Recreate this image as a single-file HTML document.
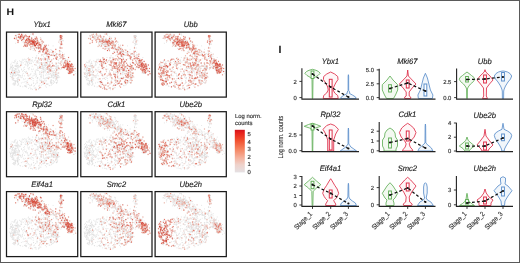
<!DOCTYPE html>
<html><head><meta charset="utf-8"><style>
html,body{margin:0;padding:0;background:#fff;}
body{width:520px;height:263px;overflow:hidden;}
svg{display:block;font-family:"Liberation Sans", sans-serif;text-rendering:geometricPrecision;filter:blur(0.3px);}
</style></head><body>
<svg width="520" height="263" viewBox="0 0 520 263">
<rect x="0" y="0" width="520" height="263" fill="#fff"/>
<defs><linearGradient id="cb" x1="0" y1="0" x2="0" y2="1">
<stop offset="0" stop-color="#d3121b"/><stop offset="0.08" stop-color="#e8241d"/><stop offset="0.25" stop-color="#f1502f"/><stop offset="0.45" stop-color="#f5835f"/><stop offset="0.65" stop-color="#f5b09b"/><stop offset="0.82" stop-color="#efd2cb"/><stop offset="1" stop-color="#e4e0e3"/>
</linearGradient>
<filter id="bl" x="-5%" y="-5%" width="110%" height="110%"><feGaussianBlur stdDeviation="0.3"/></filter></defs>
<text transform="translate(6.4 15.1) scale(1.12 1)" font-size="9.4" font-weight="bold" fill="#111">H</text>
<text x="278.5" y="53.4" font-size="10.6" font-weight="bold" fill="#111">I</text>
<defs><path id="base" d="M17.8 10.7h0M9.7 6.9h0M26.4 10.6h0M24.7 11.7h0M10.2 3.4h0M11.4 5.2h0M22.0 10.4h0M16.5 5.6h0M27.0 16.3h0M22.2 8.0h0M38.5 21.1h0M17.2 9.3h0M12.5 7.1h0M34.4 16.8h0M16.1 3.1h0M21.9 6.8h0M25.9 12.5h0M15.1 6.8h0M32.0 11.1h0M27.0 13.2h0M24.3 8.4h0M28.8 18.5h0M18.1 4.1h0M37.7 15.0h0M33.3 12.3h0M9.2 11.2h0M22.2 9.7h0M25.5 8.8h0M10.7 2.5h0M29.7 7.3h0M37.8 14.9h0M25.6 16.5h0M30.5 6.3h0M38.8 18.2h0M24.3 9.8h0M31.9 12.8h0M26.7 18.4h0M18.0 7.4h0M21.3 8.8h0M23.9 9.6h0M13.7 6.6h0M33.3 15.3h0M12.8 5.4h0M35.7 18.4h0M12.6 2.2h0M36.9 17.2h0M34.6 16.7h0M23.1 7.7h0M17.3 14.3h0M15.6 1.9h0M14.2 6.3h0M23.2 12.8h0M27.8 12.0h0M22.1 9.9h0M24.3 2.1h0M32.6 10.7h0M27.2 7.5h0M11.4 2.3h0M37.4 17.4h0M37.3 10.0h0M22.0 8.1h0M28.8 13.5h0M10.0 5.7h0M13.5 6.5h0M19.6 8.5h0M13.5 5.7h0M12.1 4.7h0M36.8 16.6h0M27.8 13.8h0M18.9 10.4h0M18.2 13.0h0M39.7 20.3h0M24.5 9.0h0M11.9 5.1h0M20.0 8.0h0M11.5 10.3h0M8.2 6.0h0M13.8 4.8h0M24.3 15.1h0M40.2 18.1h0M37.0 15.4h0M21.7 6.6h0M13.8 6.3h0M35.7 11.6h0M18.9 9.2h0M38.9 21.0h0M35.5 17.4h0M35.2 9.5h0M17.3 4.4h0M9.7 3.8h0M9.7 3.7h0M30.0 15.7h0M42.0 13.2h0M40.0 19.2h0M40.1 16.5h0M15.2 8.2h0M14.5 7.4h0M36.4 19.4h0M37.8 12.3h0M34.4 15.6h0M12.7 2.3h0M36.6 10.0h0M33.9 12.7h0M34.2 15.2h0M18.1 10.8h0M25.6 1.9h0M19.2 14.0h0M14.8 4.7h0M11.2 8.2h0M32.5 19.6h0M11.7 8.7h0M33.9 5.7h0M20.8 7.1h0M9.2 3.4h0M40.9 16.3h0M40.0 15.1h0M20.6 13.8h0M17.3 3.1h0M17.1 6.6h0M26.5 14.2h0M17.7 6.0h0M37.9 17.2h0M22.2 4.9h0M37.6 17.4h0M20.6 12.8h0M26.9 9.4h0M23.9 14.4h0M14.4 6.5h0M8.6 3.9h0M25.0 8.6h0M33.4 11.7h0M26.0 10.1h0M26.5 11.9h0M27.6 10.2h0M17.1 6.3h0M22.3 16.2h0M26.7 12.1h0M26.7 3.1h0M30.5 8.8h0M31.2 13.4h0M25.2 6.6h0M39.5 16.7h0M28.7 18.5h0M19.5 2.7h0M23.8 17.2h0M13.9 4.0h0M13.0 4.5h0M16.2 7.4h0M11.9 2.9h0M39.6 13.2h0M14.0 5.0h0M15.0 2.3h0M36.5 17.8h0M39.7 17.0h0M26.5 1.9h0M35.4 16.2h0M15.3 3.2h0M18.8 9.9h0M15.9 4.7h0M7.9 6.4h0M26.9 11.0h0M19.3 8.5h0M29.5 11.5h0M40.7 17.7h0M33.6 16.1h0M17.4 7.1h0M9.8 4.4h0M13.8 3.6h0M19.8 14.5h0M18.5 4.6h0M40.8 22.1h0M53.4 22.5h0M39.4 22.2h0M46.5 23.3h0M39.2 21.7h0M55.0 23.7h0M40.9 19.3h0M55.7 24.9h0M49.0 20.1h0M54.9 28.7h0M43.3 22.6h0M42.7 22.4h0M41.5 19.4h0M43.0 20.5h0M46.3 19.2h0M42.5 24.8h0M48.1 23.5h0M39.0 20.0h0M41.8 24.4h0M49.4 23.3h0M46.6 13.8h0M41.1 19.8h0M56.1 22.6h0M54.1 26.6h0M49.3 17.3h0M57.5 26.5h0M44.7 23.1h0M53.4 19.9h0M47.3 21.1h0M41.7 19.8h0M41.1 18.5h0M43.8 17.5h0M39.7 21.3h0M54.5 19.3h0M44.8 20.6h0M31.1 11.0h0M28.2 9.1h0M24.4 16.8h0M24.6 7.4h0M24.5 11.8h0M25.8 10.0h0M27.9 8.7h0M31.0 10.7h0M26.7 10.2h0M26.6 10.4h0M28.9 10.9h0M26.3 12.7h0M27.0 11.0h0M34.8 9.7h0M26.3 7.8h0M19.6 9.1h0M25.2 6.0h0M37.1 18.3h0M32.8 12.9h0M24.1 12.3h0M19.8 3.9h0M21.0 8.3h0M25.8 6.7h0M24.6 12.1h0M18.7 8.4h0M19.7 10.5h0M22.6 7.8h0M22.8 10.1h0M27.5 10.0h0M27.4 12.7h0M22.9 5.9h0M22.6 7.1h0M19.5 12.1h0M26.8 10.5h0M23.1 4.6h0M23.2 13.1h0M29.6 11.9h0M28.6 11.0h0M33.4 15.0h0M32.3 16.5h0M26.9 8.2h0M31.0 10.6h0M20.9 4.6h0M21.6 9.4h0M27.9 10.9h0M34.7 13.1h0M31.7 13.9h0M27.0 10.1h0M34.1 12.6h0M20.6 6.7h0M33.4 10.6h0M25.7 14.5h0M32.0 15.6h0M38.4 16.7h0M28.6 6.3h0M27.4 13.9h0M25.7 9.8h0M28.9 13.4h0M26.2 8.9h0M28.5 4.4h0M23.3 12.4h0M35.6 8.9h0M26.4 9.7h0M22.2 11.0h0M23.3 9.1h0M28.1 8.1h0M27.1 10.2h0M29.6 10.5h0M29.9 12.1h0M26.4 10.4h0M15.7 9.9h0M34.4 12.8h0M17.3 5.3h0M34.6 6.2h0M38.1 13.7h0M25.2 7.7h0M27.6 12.2h0M26.7 11.7h0M22.5 10.4h0M25.4 9.5h0M31.6 13.9h0M28.1 16.9h0M23.3 10.4h0M18.0 12.1h0M23.0 4.3h0M22.4 12.8h0M30.9 8.0h0M29.6 10.5h0M20.8 13.8h0M28.7 13.7h0M30.9 11.2h0M30.0 11.6h0M14.3 4.2h0M33.8 12.8h0M32.8 12.1h0M27.8 12.1h0M28.0 13.9h0M23.1 9.9h0M34.9 17.6h0M25.9 11.3h0M27.9 13.3h0M28.1 12.9h0M28.5 11.2h0M30.9 16.1h0M22.8 6.1h0M30.3 9.5h0M26.2 9.7h0M28.6 10.1h0M37.3 18.0h0M32.2 9.3h0M19.8 7.6h0M30.1 12.2h0M34.3 7.5h0M28.8 14.9h0M18.7 7.3h0M27.5 9.3h0M18.9 3.0h0M26.3 13.2h0M24.4 14.2h0M20.7 12.3h0M17.0 5.8h0M27.9 13.0h0M32.5 10.5h0M17.0 5.1h0M20.0 7.5h0M21.9 7.4h0M26.0 10.6h0M21.7 11.7h0M23.7 8.5h0M28.9 11.5h0M33.3 13.3h0M23.1 11.9h0M30.1 9.7h0M24.1 9.9h0M31.6 15.3h0M30.0 5.1h0M31.1 9.0h0M20.1 5.2h0M27.1 10.8h0M38.5 15.6h0M21.3 11.2h0M28.0 9.7h0M22.5 8.2h0M32.5 15.2h0M24.0 11.7h0M29.2 7.9h0M29.2 13.3h0M34.4 14.0h0M20.2 9.5h0M39.1 14.5h0M34.3 14.4h0M29.7 12.1h0M21.3 11.1h0M24.7 10.3h0M31.3 9.1h0M29.3 13.3h0M26.5 8.9h0M27.9 12.6h0M25.8 11.0h0M29.3 7.0h0M31.1 16.1h0M18.6 13.2h0M26.8 9.7h0M27.2 15.1h0M21.8 12.2h0M28.9 9.6h0M30.0 11.3h0M28.0 13.4h0M28.6 7.2h0M33.4 19.0h0M64.5 40.9h0M62.0 38.2h0M60.2 28.3h0M64.4 34.1h0M61.3 35.4h0M64.6 32.2h0M62.7 40.8h0M61.2 35.6h0M59.3 29.1h0M58.1 36.2h0M63.7 37.4h0M63.3 40.7h0M62.1 32.2h0M67.3 42.7h0M61.8 32.4h0M60.9 31.4h0M62.2 34.8h0M62.1 25.4h0M58.0 28.7h0M67.5 32.9h0M60.9 36.5h0M61.8 33.4h0M68.6 36.4h0M60.9 35.3h0M65.1 40.0h0M59.0 28.0h0M61.0 29.3h0M65.8 36.3h0M63.1 39.5h0M62.7 35.5h0M60.6 31.9h0M64.1 34.1h0M57.6 34.9h0M60.2 34.1h0M61.4 34.5h0M65.8 34.0h0M63.7 33.9h0M65.1 34.3h0M64.9 36.2h0M58.2 29.9h0M57.5 31.2h0M65.0 38.8h0M66.5 37.9h0M63.6 38.7h0M63.3 36.9h0M61.1 37.2h0M61.8 31.0h0M61.2 38.4h0M61.7 34.4h0M68.6 39.4h0M56.5 26.2h0M61.6 37.4h0M59.0 28.5h0M62.3 33.8h0M61.0 36.8h0M69.2 41.6h0M63.3 29.3h0M66.0 38.9h0M61.8 35.6h0M56.4 26.9h0M64.6 36.9h0M62.3 32.4h0M62.4 36.0h0M65.8 36.1h0M60.8 31.4h0M63.9 34.4h0M63.6 39.3h0M62.4 37.6h0M65.6 40.1h0M60.4 34.6h0M66.0 35.5h0M60.5 33.2h0M63.5 35.3h0M61.1 30.9h0M61.8 38.0h0M63.6 32.9h0M65.2 31.7h0M61.8 38.6h0M61.1 34.7h0M64.6 39.8h0M60.6 35.4h0M60.4 32.6h0M59.1 31.8h0M60.9 31.8h0M65.3 33.9h0M60.8 33.1h0M63.3 33.1h0M62.4 31.6h0M62.7 34.1h0M63.2 38.9h0M65.6 32.3h0M61.1 35.3h0M58.6 35.2h0M62.6 41.2h0M57.5 35.4h0M66.8 35.8h0M67.2 38.3h0M58.3 30.6h0M64.2 39.7h0M61.6 38.7h0M59.2 29.2h0M65.2 35.9h0M64.1 36.6h0M62.7 35.6h0M64.3 40.2h0M65.2 32.6h0M57.4 33.5h0M60.9 36.7h0M66.4 36.6h0M62.3 32.6h0M65.6 37.1h0M62.6 32.1h0M61.2 31.0h0M64.1 34.0h0M60.7 31.7h0M64.4 40.5h0M59.6 30.9h0M63.0 38.3h0M63.6 35.2h0M64.8 34.2h0M60.1 36.9h0M59.9 36.7h0M63.1 37.4h0M58.1 31.1h0M66.5 34.4h0M62.2 41.3h0M61.2 40.8h0M61.6 34.4h0M58.9 33.2h0M57.6 35.5h0M59.5 33.0h0M63.9 40.0h0M64.0 33.1h0M62.0 40.0h0M65.6 40.4h0M63.6 41.3h0M62.5 38.1h0M61.9 33.2h0M64.3 38.5h0M62.1 35.4h0M60.2 37.3h0M60.3 32.7h0M61.4 33.2h0M64.4 31.6h0M64.5 32.5h0M67.2 38.9h0M60.8 33.1h0M58.9 34.3h0M65.0 33.1h0M64.5 38.0h0M57.0 8.7h0M53.3 6.7h0M55.5 4.1h0M54.3 13.2h0M54.0 4.7h0M52.6 8.8h0M52.3 10.1h0M54.3 3.6h0M54.3 4.0h0M53.6 7.7h0M53.6 14.9h0M54.7 10.0h0M54.8 3.5h0M55.1 3.8h0M54.3 5.7h0M54.5 8.9h0M55.5 4.3h0M53.6 3.9h0M53.6 15.8h0M54.3 3.7h0M54.8 9.7h0M55.4 6.2h0M53.1 4.8h0M55.6 8.4h0M54.4 5.6h0M53.7 15.9h0M53.5 11.5h0M54.3 3.6h0M56.2 8.0h0M53.7 3.6h0M54.7 12.4h0M55.4 15.9h0M54.4 3.9h0M54.7 7.6h0M55.5 9.8h0M54.5 5.2h0M53.8 5.1h0M56.1 12.4h0M54.9 11.1h0M56.0 11.7h0M54.4 7.0h0M54.2 4.5h0M53.3 3.8h0M54.3 5.5h0M54.5 11.8h0M51.8 35.9h0M52.3 22.8h0M47.1 26.6h0M54.9 28.6h0M37.5 31.3h0M37.3 22.1h0M53.5 24.2h0M57.9 24.2h0M36.6 37.3h0M49.6 32.5h0M44.3 35.8h0M51.9 36.2h0M43.2 33.2h0M47.6 23.7h0M35.7 30.9h0M40.1 20.0h0M51.7 31.1h0M51.8 33.5h0M30.9 30.1h0M40.8 35.3h0M32.2 21.4h0M56.8 35.2h0M49.7 35.5h0M49.7 23.3h0M53.8 21.4h0M39.3 26.4h0M38.1 33.0h0M40.9 24.0h0M60.7 28.2h0M57.0 30.8h0M29.7 26.1h0M43.2 34.3h0M40.2 32.7h0M46.5 21.7h0M55.9 20.6h0M28.8 27.9h0M45.0 34.8h0M34.8 28.0h0M40.2 35.6h0M38.1 21.6h0M51.9 28.1h0M32.3 31.2h0M51.8 34.6h0M49.5 24.8h0M42.0 25.7h0M35.5 22.7h0M58.6 28.1h0M41.3 36.8h0M36.4 27.2h0M46.3 33.9h0M53.7 31.4h0M40.3 24.2h0M33.8 35.9h0M50.7 33.6h0M34.3 26.7h0M54.4 29.9h0M32.9 27.2h0M58.1 22.1h0M35.0 23.6h0M52.0 35.9h0M33.8 20.3h0M36.9 24.2h0M46.0 20.4h0M39.6 21.0h0M32.1 25.5h0M53.0 26.6h0M35.2 31.2h0M32.2 21.4h0M41.6 17.5h0M41.9 34.7h0M51.7 28.1h0M49.7 27.3h0M33.4 30.4h0M42.1 33.6h0M58.8 26.5h0M47.7 33.7h0M42.7 21.9h0M52.7 36.7h0M54.4 32.6h0M57.0 32.2h0M50.0 27.0h0M39.1 31.0h0M31.9 26.3h0M54.7 32.9h0M49.6 22.4h0M42.7 27.1h0M49.3 26.0h0M51.1 37.8h0M34.8 31.6h0M54.5 25.6h0M45.0 38.9h0M29.9 29.1h0M34.0 34.5h0M59.9 28.5h0M32.0 29.8h0M46.7 33.0h0M45.7 31.2h0M56.2 28.6h0M42.3 38.3h0M35.7 32.3h0M41.7 34.0h0M40.5 18.0h0M37.8 25.8h0M29.1 26.2h0M42.6 32.6h0M40.4 22.8h0M36.1 33.6h0M59.9 28.7h0M36.0 34.9h0M41.7 21.6h0M33.0 34.4h0M55.6 31.1h0M44.3 29.5h0M40.4 31.2h0M55.9 35.3h0M44.2 23.4h0M46.9 19.6h0M56.4 24.8h0M56.9 22.8h0M41.2 22.5h0M42.8 21.0h0M38.0 22.3h0M38.7 27.6h0M42.9 31.2h0M50.6 25.0h0M58.8 34.5h0M33.3 35.6h0M50.5 22.4h0M36.4 34.4h0M40.2 20.2h0M58.7 34.7h0M48.9 34.5h0M50.9 37.0h0M54.9 35.8h0M35.2 32.5h0M46.3 33.6h0M43.2 36.8h0M47.1 22.7h0M36.5 19.9h0M45.1 18.1h0M44.2 20.0h0M45.0 28.0h0M46.6 36.3h0M44.2 29.5h0M50.8 35.8h0M41.1 26.2h0M49.8 31.2h0M29.6 30.6h0M51.4 37.9h0M45.6 27.7h0M52.5 30.9h0M39.9 36.3h0M40.8 27.5h0M46.1 34.2h0M35.7 26.6h0M42.7 29.3h0M56.1 23.4h0M56.2 25.9h0M45.4 22.9h0M45.5 38.9h0M50.4 34.7h0M39.7 23.9h0M38.6 30.1h0M49.8 34.5h0M58.1 29.1h0M30.3 23.6h0M59.3 30.6h0M50.5 34.6h0M58.9 30.6h0M49.2 31.0h0M51.8 30.3h0M51.3 21.6h0M50.8 27.1h0M54.0 19.0h0M54.4 37.5h0M50.5 25.1h0M56.0 34.6h0M47.4 22.6h0M38.7 26.3h0M39.3 26.5h0M50.0 37.9h0M30.5 29.6h0M55.6 29.8h0M59.2 26.9h0M29.1 25.5h0M48.3 38.0h0M61.3 27.5h0M42.4 19.1h0M50.1 21.6h0M52.6 22.2h0M53.0 21.0h0M52.4 36.2h0M52.9 18.7h0M49.6 32.8h0M44.0 37.9h0M39.0 33.3h0M34.2 36.3h0M44.8 18.1h0M40.9 29.8h0M43.3 32.1h0M33.5 34.8h0M40.7 31.4h0M49.6 26.2h0M41.5 34.6h0M47.5 23.4h0M52.0 35.5h0M39.7 30.5h0M48.6 23.7h0M42.9 36.9h0M41.2 32.3h0M44.9 51.1h0M49.8 41.8h0M40.7 46.4h0M50.0 51.0h0M49.9 50.7h0M44.2 41.7h0M50.8 49.7h0M46.9 51.4h0M38.9 38.8h0M43.8 49.6h0M35.5 48.9h0M45.0 47.8h0M41.7 40.7h0M36.7 48.9h0M49.4 44.5h0M48.9 41.1h0M44.4 51.1h0M51.6 45.4h0M42.0 46.5h0M35.2 40.4h0M35.0 48.1h0M39.3 46.1h0M40.2 45.4h0M33.3 47.1h0M49.3 39.9h0M44.8 42.8h0M43.0 37.9h0M51.1 44.9h0M44.1 41.5h0M49.1 44.0h0M35.5 40.3h0M43.9 50.7h0M41.5 51.9h0M44.8 43.5h0M36.8 46.1h0M45.8 52.0h0M46.5 43.5h0M41.3 40.0h0M36.8 42.9h0M49.3 48.3h0M46.7 42.1h0M44.7 49.0h0M33.2 42.4h0M36.8 39.4h0M42.1 40.1h0M36.4 39.7h0M47.6 40.5h0M34.0 44.3h0M50.6 47.0h0M41.4 42.7h0M50.1 44.8h0M45.5 39.7h0M47.5 45.9h0M37.0 43.8h0M34.4 41.6h0M50.5 42.6h0M34.7 45.0h0M38.2 51.2h0M46.5 40.7h0M42.0 41.9h0M36.8 40.6h0M33.1 41.9h0M47.8 42.0h0M49.7 42.7h0M50.3 45.5h0M35.1 44.1h0M52.2 40.8h0M44.2 39.6h0M35.0 49.2h0M47.5 40.5h0M45.1 45.0h0M37.2 40.7h0M45.2 48.2h0M49.9 46.4h0M48.0 43.7h0M47.7 38.4h0M49.8 42.6h0M50.6 50.6h0M42.4 37.8h0M52.2 44.7h0M51.3 41.6h0M35.1 50.1h0M39.4 40.0h0M39.5 46.5h0M30.9 45.4h0M41.2 45.3h0M33.6 48.3h0M50.0 50.6h0M38.3 48.3h0M39.7 48.9h0M53.2 45.0h0M42.8 45.6h0M43.4 37.9h0M36.6 49.9h0M47.2 40.5h0M31.2 46.6h0M44.3 45.4h0M47.3 39.1h0M51.2 48.4h0M42.4 45.1h0M5.6 30.1h0M6.9 30.5h0M8.9 49.6h0M4.3 42.0h0M10.5 31.2h0M6.8 38.0h0M11.4 40.7h0M6.8 51.7h0M10.8 35.8h0M5.2 35.7h0M7.3 52.8h0M11.2 49.3h0M3.3 40.5h0M5.3 38.0h0M9.3 36.5h0M8.2 28.7h0M7.2 40.2h0M12.5 43.6h0M11.1 50.2h0M9.4 33.9h0M9.8 34.1h0M8.4 51.3h0M9.2 33.5h0M8.1 38.3h0M12.6 34.4h0M5.9 44.0h0M4.0 42.6h0M12.7 40.4h0M5.5 39.2h0M8.3 30.8h0M5.8 37.6h0M5.7 33.3h0M3.6 41.3h0M11.4 43.0h0M8.6 44.0h0M4.8 45.6h0M7.5 41.3h0M9.1 39.2h0M6.0 33.2h0M5.0 40.4h0M6.7 42.3h0M11.7 33.1h0M8.5 39.8h0M5.8 47.3h0M11.8 38.5h0M3.4 37.1h0M7.3 46.3h0M3.9 32.8h0M4.3 35.7h0M6.4 44.7h0M9.1 49.3h0M11.3 40.5h0M10.4 46.5h0M10.6 39.4h0M10.9 45.6h0M10.7 42.3h0M7.9 52.3h0M8.7 37.9h0M10.9 49.9h0M9.0 36.9h0M7.4 38.9h0M10.2 34.6h0M6.8 41.5h0M6.7 35.3h0M10.9 49.3h0M7.9 38.6h0M4.6 34.9h0M4.2 42.1h0M8.8 29.2h0M12.3 35.4h0M11.5 49.0h0M7.2 50.9h0M8.6 40.0h0M8.3 53.2h0M8.1 40.5h0M9.8 37.1h0M6.4 42.6h0M6.4 51.9h0M9.8 40.7h0M3.8 36.7h0M6.9 41.7h0M8.7 50.1h0M12.7 39.7h0M7.3 43.4h0M8.2 48.4h0M4.5 35.2h0M8.1 29.8h0M12.0 45.1h0M11.9 38.0h0M4.4 34.5h0M8.0 40.2h0M4.7 31.7h0M9.3 42.8h0M9.3 27.9h0M7.0 47.7h0M5.9 45.1h0M11.5 42.3h0M9.7 32.0h0M7.9 41.5h0M5.5 43.9h0M29.6 57.6h0M31.7 38.4h0M40.9 28.4h0M29.1 51.9h0M33.6 51.4h0M41.5 35.5h0M38.7 36.5h0M11.5 33.7h0M32.1 36.4h0M25.5 37.6h0M32.1 56.4h0M25.0 45.3h0M18.8 54.4h0M43.7 34.9h0M33.1 56.4h0M27.8 56.1h0M15.2 37.7h0M38.9 32.2h0M18.5 53.6h0M27.2 50.9h0M15.2 30.6h0M20.9 31.1h0M31.1 28.7h0M29.7 37.6h0M23.2 27.1h0M9.2 52.0h0M20.6 33.0h0M12.6 34.2h0M36.2 36.1h0M10.8 48.1h0M7.7 33.8h0M25.2 52.3h0M43.2 30.2h0M20.7 48.6h0M21.9 56.3h0M28.2 32.4h0M25.6 29.2h0M38.3 33.5h0M47.9 44.2h0M21.4 33.0h0M33.4 31.9h0M28.6 42.7h0M16.5 50.2h0M22.2 46.5h0M31.4 35.1h0M22.5 27.8h0M11.9 52.8h0M19.1 46.7h0M8.5 43.4h0M21.1 41.3h0M17.9 27.1h0M18.6 32.4h0M9.4 48.4h0M17.1 38.2h0M48.4 50.3h0M9.7 34.0h0M36.1 36.5h0M23.6 46.5h0M37.9 33.1h0M45.3 36.5h0M34.4 30.9h0M39.6 48.3h0M11.1 31.4h0M18.2 37.4h0M5.0 35.1h0M34.9 30.8h0M44.9 43.6h0M38.8 33.3h0M24.7 47.4h0M44.6 50.4h0M45.6 44.8h0M8.6 50.9h0M40.4 27.8h0M37.7 37.8h0M40.3 52.1h0M17.1 27.9h0M50.2 38.8h0M49.4 47.6h0M39.9 52.1h0M34.4 39.8h0M5.8 47.8h0M24.4 41.7h0M38.1 51.3h0M16.1 42.8h0M51.4 45.8h0M30.2 33.1h0M6.0 36.7h0M23.6 31.5h0M18.5 29.4h0M38.3 46.9h0M14.9 32.9h0M28.8 39.5h0M49.7 36.5h0M18.0 53.9h0M10.1 43.4h0M19.7 51.7h0M30.4 49.9h0M11.5 46.8h0M32.9 40.0h0M41.2 52.2h0M8.8 34.4h0M21.0 31.7h0M6.1 34.1h0M12.9 47.9h0M25.4 28.6h0M19.2 40.3h0M21.2 30.4h0M7.3 48.4h0M51.9 43.4h0M8.5 41.0h0M24.7 31.2h0M30.1 25.2h0M48.9 46.1h0M34.4 55.6h0M35.6 33.2h0M15.3 29.5h0M44.9 34.6h0M12.3 45.8h0M11.5 50.6h0M44.4 49.3h0M19.4 31.0h0M44.2 35.4h0M21.4 43.0h0M21.5 52.2h0M31.3 45.5h0M43.9 48.1h0M27.7 41.3h0M10.9 34.8h0M32.0 27.6h0M37.4 30.3h0M25.2 56.7h0M25.0 31.2h0M45.0 53.0h0M42.3 38.9h0M17.2 46.6h0M28.7 38.7h0M19.9 39.3h0M36.3 52.0h0M17.8 39.5h0M31.1 36.3h0M19.2 40.0h0M51.0 45.2h0M36.8 44.9h0M17.9 43.7h0M50.5 40.7h0M35.3 34.7h0M20.2 53.9h0M36.9 39.6h0M7.3 46.6h0M21.6 44.0h0M23.8 42.3h0M31.2 37.9h0M47.4 42.9h0M15.7 28.1h0M29.5 33.2h0M27.5 43.1h0M14.4 43.7h0M8.7 41.8h0M32.4 27.6h0M23.4 27.3h0M25.0 53.2h0M30.5 48.4h0M40.8 28.7h0M22.6 30.6h0M50.9 43.4h0M41.7 29.4h0M14.9 37.1h0M3.8 44.4h0M13.7 34.8h0M38.3 38.9h0M47.4 45.3h0M46.5 43.4h0M11.4 49.4h0M20.1 50.0h0M37.0 52.0h0M9.2 37.2h0M33.2 28.2h0M30.4 51.2h0M36.7 33.3h0M12.7 39.6h0M44.8 44.0h0M8.6 51.2h0M12.3 43.1h0M17.5 47.5h0M22.1 29.7h0M46.7 42.6h0M37.4 51.4h0M20.1 29.9h0M28.1 53.5h0M12.2 51.7h0M36.9 37.8h0M26.8 30.1h0M45.2 37.8h0M46.6 45.0h0M6.9 35.7h0M13.9 54.2h0M32.4 26.4h0M11.5 36.8h0M26.4 43.8h0M22.4 36.5h0M26.0 57.3h0M36.5 33.9h0M16.7 41.3h0M16.1 43.6h0M29.4 56.3h0M31.0 50.2h0M46.5 50.3h0M34.6 45.7h0M21.2 34.2h0M42.7 53.5h0M49.8 47.3h0M18.2 49.9h0M39.9 41.6h0M34.7 36.4h0M30.5 38.2h0M6.1 36.0h0M27.1 37.0h0M15.2 32.6h0M20.5 29.4h0M25.7 39.5h0M31.4 34.8h0M18.1 35.0h0M39.3 43.0h0M49.8 36.1h0M49.0 44.1h0M32.0 57.3h0M20.9 50.3h0M24.4 53.4h0M6.5 40.8h0M47.9 34.0h0M11.3 33.7h0M38.2 32.1h0M23.0 31.5h0M33.1 53.2h0M35.4 31.4h0M33.0 27.5h0M43.4 53.6h0M20.1 29.4h0M12.5 42.5h0M46.7 45.9h0M19.4 49.5h0M35.4 38.2h0M36.9 36.0h0M5.9 38.5h0M5.3 45.5h0M19.7 41.1h0M32.9 33.4h0M26.2 25.4h0M49.2 43.4h0M33.7 48.7h0M19.5 28.0h0M10.9 29.6h0M41.3 27.9h0M43.6 38.8h0M29.9 44.2h0M30.7 46.5h0M33.0 35.8h0M40.0 33.4h0M38.5 49.9h0M41.7 35.1h0M25.7 34.1h0M29.2 55.8h0M26.8 46.4h0M41.6 36.8h0M40.8 27.9h0M6.1 41.4h0M30.7 30.9h0M49.9 36.9h0M10.5 30.8h0M39.8 55.1h0M41.8 32.9h0M52.0 41.3h0M34.8 36.2h0M43.0 40.0h0M19.2 54.5h0M8.4 49.0h0M6.3 46.1h0M23.1 53.2h0M6.1 43.4h0M23.5 55.1h0M50.2 45.5h0M14.2 33.2h0M16.1 39.2h0M14.6 31.6h0M40.9 46.0h0M13.9 43.6h0M10.9 53.2h0M46.4 33.7h0M40.5 51.9h0M17.2 35.8h0M27.3 54.1h0M11.1 47.3h0M32.9 39.8h0M31.9 53.9h0M13.5 53.9h0M21.0 50.5h0M46.1 30.9h0M10.6 49.1h0M37.1 27.9h0M20.0 55.0h0M38.8 53.8h0M14.8 50.9h0M37.4 26.2h0M28.2 32.5h0M24.5 28.4h0M18.8 53.7h0M9.1 40.9h0M9.8 39.0h0M12.0 47.4h0M10.4 49.1h0M28.0 28.6h0M20.7 41.2h0M48.8 36.4h0M47.1 48.9h0M16.7 30.7h0M16.3 27.2h0M5.2 41.6h0M23.4 43.2h0M37.4 46.3h0M30.2 42.9h0M46.6 48.5h0M23.0 35.4h0M24.0 56.8h0M22.4 37.6h0M23.5 29.6h0M33.4 55.3h0M15.8 45.0h0M21.9 32.8h0M13.0 28.7h0M45.1 50.6h0M37.7 35.6h0M35.3 42.9h0M45.6 41.7h0M14.8 45.6h0M40.1 37.4h0M38.6 37.8h0M29.3 45.0h0M36.8 35.5h0M34.4 42.7h0M14.2 45.0h0M16.3 54.7h0M26.7 48.6h0M29.1 40.6h0M14.1 29.6h0M49.3 42.3h0M29.2 42.2h0M43.6 32.8h0M11.7 51.9h0M26.0 45.9h0M22.1 52.2h0M43.8 29.0h0M10.7 33.2h0M8.2 36.6h0M43.1 42.0h0M25.6 27.8h0M37.7 39.7h0M26.9 51.1h0M40.9 29.9h0M37.0 37.0h0M29.0 32.7h0M21.5 36.1h0M22.1 25.5h0M13.1 43.6h0M38.9 33.9h0M19.2 32.9h0M34.8 53.1h0M13.1 38.8h0M42.6 45.2h0M21.6 26.4h0M25.1 37.0h0M38.6 34.6h0M23.4 46.2h0M43.5 36.5h0M22.3 43.9h0M21.6 46.7h0M19.5 27.3h0M40.7 37.4h0M29.3 41.2h0M48.0 49.7h0M4.4 44.4h0" stroke="#dadada" stroke-width="0.85" stroke-linecap="round" fill="none"/></defs>
<g transform="translate(6.5 32.1)">
<use href="#base"/>
<path d="M22.2 8.0h0M18.9 10.4h0M42.0 13.2h0M33.9 5.7h0M29.5 11.5h0M19.8 14.5h0M18.5 4.6h0M24.5 11.8h0M25.8 10.0h0M28.9 10.9h0M26.3 12.7h0M34.8 9.7h0M23.2 13.1h0M28.6 11.0h0M22.2 11.0h0M30.3 9.5h0M27.9 12.6h0M59.3 29.1h0M60.2 34.1h0M61.8 31.0h0M60.5 33.2h0M61.1 35.3h0M59.2 29.2h0M52.3 10.1h0M53.6 14.9h0M56.1 12.4h0M52.3 22.8h0M30.9 30.1h0M39.3 26.4h0M46.3 33.9h0M32.1 25.5h0M52.7 36.7h0M46.7 33.0h0M45.7 31.2h0M40.4 31.2h0M56.9 22.8h0M45.5 38.9h0M59.3 30.6h0M42.4 19.1h0M52.0 35.5h0M35.2 40.4h0M50.1 44.8h0M52.2 40.8h0M49.9 46.4h0M31.1 28.7h0M21.4 43.0h0M23.4 27.3h0M6.3 46.1h0M21.0 50.5h0M28.2 32.5h0M43.6 32.8h0M42.6 45.2h0M21.6 26.4h0" stroke="#f5cfc8" stroke-width="1.8" stroke-opacity="0.18" stroke-linecap="round" fill="none"/>
<path d="M22.2 8.0h0M18.9 10.4h0M42.0 13.2h0M33.9 5.7h0M29.5 11.5h0M19.8 14.5h0M18.5 4.6h0M24.5 11.8h0M25.8 10.0h0M28.9 10.9h0M26.3 12.7h0M34.8 9.7h0M23.2 13.1h0M28.6 11.0h0M22.2 11.0h0M30.3 9.5h0M27.9 12.6h0M59.3 29.1h0M60.2 34.1h0M61.8 31.0h0M60.5 33.2h0M61.1 35.3h0M59.2 29.2h0M52.3 10.1h0M53.6 14.9h0M56.1 12.4h0M52.3 22.8h0M30.9 30.1h0M39.3 26.4h0M46.3 33.9h0M32.1 25.5h0M52.7 36.7h0M46.7 33.0h0M45.7 31.2h0M40.4 31.2h0M56.9 22.8h0M45.5 38.9h0M59.3 30.6h0M42.4 19.1h0M52.0 35.5h0M35.2 40.4h0M50.1 44.8h0M52.2 40.8h0M49.9 46.4h0M31.1 28.7h0M21.4 43.0h0M23.4 27.3h0M6.3 46.1h0M21.0 50.5h0M28.2 32.5h0M43.6 32.8h0M42.6 45.2h0M21.6 26.4h0" stroke="#f5cfc8" stroke-width="0.9" stroke-linecap="round" fill="none"/>
<path d="M9.7 6.9h0M16.5 5.6h0M16.1 3.1h0M28.8 18.5h0M37.8 14.9h0M34.6 16.7h0M10.0 5.7h0M20.0 8.0h0M8.2 6.0h0M24.3 15.1h0M40.2 18.1h0M35.7 11.6h0M37.9 17.2h0M26.7 12.1h0M31.2 13.4h0M23.8 17.2h0M33.6 16.1h0M46.5 23.3h0M55.0 23.7h0M39.0 20.0h0M26.3 7.8h0M19.5 12.1h0M31.7 13.9h0M25.7 14.5h0M38.4 16.7h0M26.4 10.4h0M34.4 12.8h0M28.8 14.9h0M24.4 14.2h0M17.0 5.1h0M31.6 15.3h0M22.5 8.2h0M64.5 40.9h0M64.4 34.1h0M63.7 37.4h0M62.1 32.2h0M61.8 33.4h0M63.7 33.9h0M58.2 29.9h0M63.9 34.4h0M62.4 37.6h0M65.3 33.9h0M65.2 35.9h0M65.2 32.6h0M62.6 32.1h0M61.2 31.0h0M59.6 30.9h0M64.3 38.5h0M61.4 33.2h0M65.0 33.1h0M54.3 4.0h0M53.6 7.7h0M53.6 3.9h0M53.7 3.6h0M54.5 11.8h0M47.1 26.6h0M53.5 24.2h0M40.1 20.0h0M35.5 22.7h0M53.7 31.4h0M54.4 29.9h0M46.0 20.4h0M41.6 17.5h0M47.7 33.7h0M57.0 32.2h0M31.9 26.3h0M54.7 32.9h0M49.6 22.4h0M42.7 27.1h0M34.0 34.5h0M58.7 34.7h0M54.9 35.8h0M45.0 28.0h0M49.8 31.2h0M56.1 23.4h0M50.1 21.6h0M49.6 26.2h0M42.9 36.9h0M42.0 46.5h0M49.3 39.9h0M36.6 49.9h0M34.9 30.8h0M12.9 47.9h0M44.9 34.6h0M20.7 41.2h0M49.3 42.3h0" stroke="#f0a898" stroke-width="1.8" stroke-opacity="0.18" stroke-linecap="round" fill="none"/>
<path d="M9.7 6.9h0M16.5 5.6h0M16.1 3.1h0M28.8 18.5h0M37.8 14.9h0M34.6 16.7h0M10.0 5.7h0M20.0 8.0h0M8.2 6.0h0M24.3 15.1h0M40.2 18.1h0M35.7 11.6h0M37.9 17.2h0M26.7 12.1h0M31.2 13.4h0M23.8 17.2h0M33.6 16.1h0M46.5 23.3h0M55.0 23.7h0M39.0 20.0h0M26.3 7.8h0M19.5 12.1h0M31.7 13.9h0M25.7 14.5h0M38.4 16.7h0M26.4 10.4h0M34.4 12.8h0M28.8 14.9h0M24.4 14.2h0M17.0 5.1h0M31.6 15.3h0M22.5 8.2h0M64.5 40.9h0M64.4 34.1h0M63.7 37.4h0M62.1 32.2h0M61.8 33.4h0M63.7 33.9h0M58.2 29.9h0M63.9 34.4h0M62.4 37.6h0M65.3 33.9h0M65.2 35.9h0M65.2 32.6h0M62.6 32.1h0M61.2 31.0h0M59.6 30.9h0M64.3 38.5h0M61.4 33.2h0M65.0 33.1h0M54.3 4.0h0M53.6 7.7h0M53.6 3.9h0M53.7 3.6h0M54.5 11.8h0M47.1 26.6h0M53.5 24.2h0M40.1 20.0h0M35.5 22.7h0M53.7 31.4h0M54.4 29.9h0M46.0 20.4h0M41.6 17.5h0M47.7 33.7h0M57.0 32.2h0M31.9 26.3h0M54.7 32.9h0M49.6 22.4h0M42.7 27.1h0M34.0 34.5h0M58.7 34.7h0M54.9 35.8h0M45.0 28.0h0M49.8 31.2h0M56.1 23.4h0M50.1 21.6h0M49.6 26.2h0M42.9 36.9h0M42.0 46.5h0M49.3 39.9h0M36.6 49.9h0M34.9 30.8h0M12.9 47.9h0M44.9 34.6h0M20.7 41.2h0M49.3 42.3h0" stroke="#f0a898" stroke-width="0.9" stroke-linecap="round" fill="none"/>
<path d="M17.8 10.7h0M22.0 10.4h0M21.9 6.8h0M32.0 11.1h0M24.3 8.4h0M25.5 8.8h0M31.9 12.8h0M21.3 8.8h0M23.9 9.6h0M12.8 5.4h0M36.9 17.2h0M17.3 14.3h0M14.2 6.3h0M23.2 12.8h0M28.8 13.5h0M13.5 6.5h0M19.6 8.5h0M12.1 4.7h0M39.7 20.3h0M37.0 15.4h0M18.9 9.2h0M38.9 21.0h0M35.5 17.4h0M12.7 2.3h0M11.2 8.2h0M9.2 3.4h0M20.6 13.8h0M17.1 6.6h0M37.6 17.4h0M27.6 10.2h0M30.5 8.8h0M18.8 9.9h0M15.9 4.7h0M40.8 22.1h0M40.9 19.3h0M42.5 24.8h0M41.1 18.5h0M28.2 9.1h0M24.6 7.4h0M21.0 8.3h0M27.5 10.0h0M22.6 7.1h0M20.9 4.6h0M21.6 9.4h0M35.6 8.9h0M26.4 9.7h0M29.9 12.1h0M28.1 16.9h0M14.3 4.2h0M32.8 12.1h0M26.2 9.7h0M34.3 7.5h0M18.9 3.0h0M20.7 12.3h0M32.5 10.5h0M21.9 7.4h0M21.7 11.7h0M24.0 11.7h0M31.3 9.1h0M26.8 9.7h0M62.0 38.2h0M68.6 36.4h0M61.0 29.3h0M62.7 35.5h0M61.4 34.5h0M65.0 38.8h0M61.1 37.2h0M59.0 28.5h0M66.0 38.9h0M62.3 32.4h0M63.6 39.3h0M63.5 35.3h0M61.8 38.0h0M61.1 34.7h0M60.4 32.6h0M59.1 31.8h0M63.3 33.1h0M62.7 34.1h0M67.2 38.3h0M64.2 39.7h0M64.1 36.6h0M64.3 40.2h0M66.4 36.6h0M62.3 32.6h0M65.6 37.1h0M58.9 33.2h0M57.6 35.5h0M63.6 41.3h0M55.5 4.1h0M54.4 5.6h0M55.4 15.9h0M54.9 11.1h0M43.2 33.2h0M40.8 35.3h0M43.2 34.3h0M34.8 28.0h0M41.3 36.8h0M34.3 26.7h0M49.3 26.0h0M54.5 25.6h0M41.7 34.0h0M41.7 21.6h0M55.9 35.3h0M46.9 19.6h0M50.6 25.0h0M58.8 34.5h0M33.3 35.6h0M35.2 32.5h0M50.5 25.1h0M38.7 26.3h0M50.0 37.9h0M52.4 36.2h0M52.9 18.7h0M41.5 34.6h0M41.3 40.0h0M35.1 50.1h0M8.1 40.5h0M29.6 57.6h0M22.5 27.8h0M14.2 33.2h0M33.4 55.3h0M23.4 46.2h0" stroke="#ea7f6c" stroke-width="1.8" stroke-opacity="0.18" stroke-linecap="round" fill="none"/>
<path d="M17.8 10.7h0M22.0 10.4h0M21.9 6.8h0M32.0 11.1h0M24.3 8.4h0M25.5 8.8h0M31.9 12.8h0M21.3 8.8h0M23.9 9.6h0M12.8 5.4h0M36.9 17.2h0M17.3 14.3h0M14.2 6.3h0M23.2 12.8h0M28.8 13.5h0M13.5 6.5h0M19.6 8.5h0M12.1 4.7h0M39.7 20.3h0M37.0 15.4h0M18.9 9.2h0M38.9 21.0h0M35.5 17.4h0M12.7 2.3h0M11.2 8.2h0M9.2 3.4h0M20.6 13.8h0M17.1 6.6h0M37.6 17.4h0M27.6 10.2h0M30.5 8.8h0M18.8 9.9h0M15.9 4.7h0M40.8 22.1h0M40.9 19.3h0M42.5 24.8h0M41.1 18.5h0M28.2 9.1h0M24.6 7.4h0M21.0 8.3h0M27.5 10.0h0M22.6 7.1h0M20.9 4.6h0M21.6 9.4h0M35.6 8.9h0M26.4 9.7h0M29.9 12.1h0M28.1 16.9h0M14.3 4.2h0M32.8 12.1h0M26.2 9.7h0M34.3 7.5h0M18.9 3.0h0M20.7 12.3h0M32.5 10.5h0M21.9 7.4h0M21.7 11.7h0M24.0 11.7h0M31.3 9.1h0M26.8 9.7h0M62.0 38.2h0M68.6 36.4h0M61.0 29.3h0M62.7 35.5h0M61.4 34.5h0M65.0 38.8h0M61.1 37.2h0M59.0 28.5h0M66.0 38.9h0M62.3 32.4h0M63.6 39.3h0M63.5 35.3h0M61.8 38.0h0M61.1 34.7h0M60.4 32.6h0M59.1 31.8h0M63.3 33.1h0M62.7 34.1h0M67.2 38.3h0M64.2 39.7h0M64.1 36.6h0M64.3 40.2h0M66.4 36.6h0M62.3 32.6h0M65.6 37.1h0M58.9 33.2h0M57.6 35.5h0M63.6 41.3h0M55.5 4.1h0M54.4 5.6h0M55.4 15.9h0M54.9 11.1h0M43.2 33.2h0M40.8 35.3h0M43.2 34.3h0M34.8 28.0h0M41.3 36.8h0M34.3 26.7h0M49.3 26.0h0M54.5 25.6h0M41.7 34.0h0M41.7 21.6h0M55.9 35.3h0M46.9 19.6h0M50.6 25.0h0M58.8 34.5h0M33.3 35.6h0M35.2 32.5h0M50.5 25.1h0M38.7 26.3h0M50.0 37.9h0M52.4 36.2h0M52.9 18.7h0M41.5 34.6h0M41.3 40.0h0M35.1 50.1h0M8.1 40.5h0M29.6 57.6h0M22.5 27.8h0M14.2 33.2h0M33.4 55.3h0M23.4 46.2h0" stroke="#ea7f6c" stroke-width="0.9" stroke-linecap="round" fill="none"/>
<path d="M25.9 12.5h0M18.1 4.1h0M30.5 6.3h0M12.6 2.2h0M27.8 12.0h0M27.2 7.5h0M37.4 17.4h0M18.2 13.0h0M24.5 9.0h0M11.9 5.1h0M11.5 10.3h0M30.0 15.7h0M40.1 16.5h0M36.4 19.4h0M36.6 10.0h0M34.2 15.2h0M32.5 19.6h0M22.2 4.9h0M26.9 9.4h0M25.0 8.6h0M13.9 4.0h0M16.2 7.4h0M39.7 17.0h0M15.3 3.2h0M26.9 11.0h0M19.3 8.5h0M53.4 22.5h0M42.7 22.4h0M46.3 19.2h0M56.1 22.6h0M49.3 17.3h0M44.7 23.1h0M27.9 8.7h0M31.0 10.7h0M32.8 12.9h0M19.8 3.9h0M24.6 12.1h0M29.6 11.9h0M31.0 10.6h0M20.6 6.7h0M28.6 6.3h0M26.2 8.9h0M27.1 10.2h0M38.1 13.7h0M27.6 12.2h0M23.3 10.4h0M30.9 8.0h0M20.8 13.8h0M23.1 9.9h0M25.9 11.3h0M28.1 12.9h0M28.6 10.1h0M27.5 9.3h0M30.0 5.1h0M21.3 11.1h0M18.6 13.2h0M62.7 40.8h0M61.2 35.6h0M63.3 40.7h0M67.3 42.7h0M60.9 31.4h0M62.2 34.8h0M62.1 25.4h0M60.6 31.9h0M57.6 34.9h0M65.1 34.3h0M56.4 26.9h0M64.6 36.9h0M62.4 36.0h0M65.8 36.1h0M65.6 40.1h0M60.4 34.6h0M61.1 30.9h0M65.2 31.7h0M60.8 33.1h0M62.4 31.6h0M63.2 38.9h0M65.6 32.3h0M62.6 41.2h0M57.5 35.4h0M58.3 30.6h0M66.5 34.4h0M62.2 41.3h0M64.0 33.1h0M61.9 33.2h0M60.2 37.3h0M64.5 32.5h0M60.8 33.1h0M58.9 34.3h0M64.5 38.0h0M54.3 3.7h0M54.8 9.7h0M55.4 6.2h0M53.7 15.9h0M53.8 5.1h0M42.0 25.7h0M56.4 24.8h0M36.5 19.9h0M44.2 29.5h0M44.0 37.9h0M39.7 30.5h0M5.0 40.4h0M38.1 51.3h0M43.6 38.8h0" stroke="#e05a48" stroke-width="1.8" stroke-opacity="0.18" stroke-linecap="round" fill="none"/>
<path d="M25.9 12.5h0M18.1 4.1h0M30.5 6.3h0M12.6 2.2h0M27.8 12.0h0M27.2 7.5h0M37.4 17.4h0M18.2 13.0h0M24.5 9.0h0M11.9 5.1h0M11.5 10.3h0M30.0 15.7h0M40.1 16.5h0M36.4 19.4h0M36.6 10.0h0M34.2 15.2h0M32.5 19.6h0M22.2 4.9h0M26.9 9.4h0M25.0 8.6h0M13.9 4.0h0M16.2 7.4h0M39.7 17.0h0M15.3 3.2h0M26.9 11.0h0M19.3 8.5h0M53.4 22.5h0M42.7 22.4h0M46.3 19.2h0M56.1 22.6h0M49.3 17.3h0M44.7 23.1h0M27.9 8.7h0M31.0 10.7h0M32.8 12.9h0M19.8 3.9h0M24.6 12.1h0M29.6 11.9h0M31.0 10.6h0M20.6 6.7h0M28.6 6.3h0M26.2 8.9h0M27.1 10.2h0M38.1 13.7h0M27.6 12.2h0M23.3 10.4h0M30.9 8.0h0M20.8 13.8h0M23.1 9.9h0M25.9 11.3h0M28.1 12.9h0M28.6 10.1h0M27.5 9.3h0M30.0 5.1h0M21.3 11.1h0M18.6 13.2h0M62.7 40.8h0M61.2 35.6h0M63.3 40.7h0M67.3 42.7h0M60.9 31.4h0M62.2 34.8h0M62.1 25.4h0M60.6 31.9h0M57.6 34.9h0M65.1 34.3h0M56.4 26.9h0M64.6 36.9h0M62.4 36.0h0M65.8 36.1h0M65.6 40.1h0M60.4 34.6h0M61.1 30.9h0M65.2 31.7h0M60.8 33.1h0M62.4 31.6h0M63.2 38.9h0M65.6 32.3h0M62.6 41.2h0M57.5 35.4h0M58.3 30.6h0M66.5 34.4h0M62.2 41.3h0M64.0 33.1h0M61.9 33.2h0M60.2 37.3h0M64.5 32.5h0M60.8 33.1h0M58.9 34.3h0M64.5 38.0h0M54.3 3.7h0M54.8 9.7h0M55.4 6.2h0M53.7 15.9h0M53.8 5.1h0M42.0 25.7h0M56.4 24.8h0M36.5 19.9h0M44.2 29.5h0M44.0 37.9h0M39.7 30.5h0M5.0 40.4h0M38.1 51.3h0M43.6 38.8h0" stroke="#e05a48" stroke-width="0.9" stroke-linecap="round" fill="none"/>
<path d="M24.7 11.7h0M34.4 16.8h0M33.3 12.3h0M23.1 7.7h0M36.8 16.6h0M13.8 4.8h0M21.7 6.6h0M15.2 8.2h0M19.2 14.0h0M14.8 4.7h0M11.7 8.7h0M26.0 10.1h0M39.6 13.2h0M14.0 5.0h0M15.0 2.3h0M26.5 1.9h0M7.9 6.4h0M48.1 23.5h0M41.8 24.4h0M57.5 26.5h0M39.7 21.3h0M26.7 10.2h0M25.2 6.0h0M37.1 18.3h0M19.7 10.5h0M22.6 7.8h0M26.8 10.5h0M23.1 4.6h0M32.3 16.5h0M27.9 10.9h0M27.0 10.1h0M25.7 9.8h0M28.9 13.4h0M23.3 9.1h0M17.3 5.3h0M25.4 9.5h0M23.0 4.3h0M28.7 13.7h0M30.9 11.2h0M30.0 11.6h0M33.8 12.8h0M27.8 12.1h0M27.9 13.3h0M30.1 12.2h0M17.0 5.8h0M20.0 7.5h0M27.1 10.8h0M38.5 15.6h0M32.5 15.2h0M29.2 13.3h0M34.4 14.0h0M39.1 14.5h0M26.5 8.9h0M29.3 7.0h0M28.9 9.6h0M30.0 11.3h0M33.4 19.0h0M61.8 32.4h0M63.1 39.5h0M66.5 37.9h0M63.3 36.9h0M61.7 34.4h0M63.3 29.3h0M64.6 39.8h0M60.9 31.8h0M57.4 33.5h0M60.9 36.7h0M64.1 34.0h0M61.6 34.4h0M59.5 33.0h0M54.3 3.6h0M54.7 12.4h0M54.5 5.2h0M54.4 7.0h0M56.8 35.2h0M50.0 27.0h0M38.7 27.6h0M46.3 33.6h0" stroke="#d23b2e" stroke-width="1.8" stroke-opacity="0.18" stroke-linecap="round" fill="none"/>
<path d="M24.7 11.7h0M34.4 16.8h0M33.3 12.3h0M23.1 7.7h0M36.8 16.6h0M13.8 4.8h0M21.7 6.6h0M15.2 8.2h0M19.2 14.0h0M14.8 4.7h0M11.7 8.7h0M26.0 10.1h0M39.6 13.2h0M14.0 5.0h0M15.0 2.3h0M26.5 1.9h0M7.9 6.4h0M48.1 23.5h0M41.8 24.4h0M57.5 26.5h0M39.7 21.3h0M26.7 10.2h0M25.2 6.0h0M37.1 18.3h0M19.7 10.5h0M22.6 7.8h0M26.8 10.5h0M23.1 4.6h0M32.3 16.5h0M27.9 10.9h0M27.0 10.1h0M25.7 9.8h0M28.9 13.4h0M23.3 9.1h0M17.3 5.3h0M25.4 9.5h0M23.0 4.3h0M28.7 13.7h0M30.9 11.2h0M30.0 11.6h0M33.8 12.8h0M27.8 12.1h0M27.9 13.3h0M30.1 12.2h0M17.0 5.8h0M20.0 7.5h0M27.1 10.8h0M38.5 15.6h0M32.5 15.2h0M29.2 13.3h0M34.4 14.0h0M39.1 14.5h0M26.5 8.9h0M29.3 7.0h0M28.9 9.6h0M30.0 11.3h0M33.4 19.0h0M61.8 32.4h0M63.1 39.5h0M66.5 37.9h0M63.3 36.9h0M61.7 34.4h0M63.3 29.3h0M64.6 39.8h0M60.9 31.8h0M57.4 33.5h0M60.9 36.7h0M64.1 34.0h0M61.6 34.4h0M59.5 33.0h0M54.3 3.6h0M54.7 12.4h0M54.5 5.2h0M54.4 7.0h0M56.8 35.2h0M50.0 27.0h0M38.7 27.6h0M46.3 33.6h0" stroke="#d23b2e" stroke-width="0.9" stroke-linecap="round" fill="none"/>
</g>
<rect x="6.50" y="32.10" width="71.20" height="65.00" fill="none" stroke="#1a1a1a" stroke-width="1.25"/>
<text transform="translate(42.10 27.10) scale(0.960 1)" font-size="7.9" text-anchor="middle" font-style="italic" stroke="#151515" stroke-width="0.12" fill="#151515">Ybx1</text>
<g transform="translate(80.8 32.1)">
<use href="#base"/>
<path d="M10.2 3.4h0M16.5 5.6h0M27.0 13.2h0M37.8 14.9h0M31.9 12.8h0M13.7 6.6h0M24.3 2.1h0M36.6 10.0h0M14.8 4.7h0M11.2 8.2h0M9.2 3.4h0M40.9 16.3h0M17.7 6.0h0M37.9 17.2h0M39.6 13.2h0M19.3 8.5h0M29.5 11.5h0M53.4 22.5h0M56.1 22.6h0M39.7 21.3h0M24.1 12.3h0M27.5 10.0h0M27.9 10.9h0M27.4 13.9h0M32.5 10.5h0M31.1 9.0h0M62.1 32.2h0M62.2 34.8h0M65.3 33.9h0M63.0 38.3h0M52.3 10.1h0M55.6 8.4h0M53.3 3.8h0M51.8 35.9h0M49.7 35.5h0M52.0 35.9h0M32.1 25.5h0M58.8 26.5h0M54.7 32.9h0M58.9 30.6h0M30.5 29.6h0M29.1 25.5h0M50.1 21.6h0M52.6 22.2h0M44.1 41.5h0M36.8 42.9h0M49.3 48.3h0M46.7 42.1h0M44.7 49.0h0M50.6 47.0h0M50.1 44.8h0M3.6 41.3h0M4.2 42.1h0M40.9 28.4h0M29.1 51.9h0M15.2 37.7h0M21.4 33.0h0M37.9 33.1h0M34.4 30.9h0M39.6 48.3h0M37.7 37.8h0M41.2 52.2h0M21.0 31.7h0M36.3 52.0h0M17.8 39.5h0M50.5 40.7h0M27.5 43.1h0M14.4 43.7h0M30.4 51.2h0M26.8 30.1h0M26.4 43.8h0M34.7 36.4h0M25.7 39.5h0M12.5 42.5h0M41.7 35.1h0M9.8 39.0h0M28.0 28.6h0M47.1 48.9h0M40.1 37.4h0M25.1 37.0h0M23.4 46.2h0" stroke="#f5cfc8" stroke-width="1.8" stroke-opacity="0.18" stroke-linecap="round" fill="none"/>
<path d="M10.2 3.4h0M16.5 5.6h0M27.0 13.2h0M37.8 14.9h0M31.9 12.8h0M13.7 6.6h0M24.3 2.1h0M36.6 10.0h0M14.8 4.7h0M11.2 8.2h0M9.2 3.4h0M40.9 16.3h0M17.7 6.0h0M37.9 17.2h0M39.6 13.2h0M19.3 8.5h0M29.5 11.5h0M53.4 22.5h0M56.1 22.6h0M39.7 21.3h0M24.1 12.3h0M27.5 10.0h0M27.9 10.9h0M27.4 13.9h0M32.5 10.5h0M31.1 9.0h0M62.1 32.2h0M62.2 34.8h0M65.3 33.9h0M63.0 38.3h0M52.3 10.1h0M55.6 8.4h0M53.3 3.8h0M51.8 35.9h0M49.7 35.5h0M52.0 35.9h0M32.1 25.5h0M58.8 26.5h0M54.7 32.9h0M58.9 30.6h0M30.5 29.6h0M29.1 25.5h0M50.1 21.6h0M52.6 22.2h0M44.1 41.5h0M36.8 42.9h0M49.3 48.3h0M46.7 42.1h0M44.7 49.0h0M50.6 47.0h0M50.1 44.8h0M3.6 41.3h0M4.2 42.1h0M40.9 28.4h0M29.1 51.9h0M15.2 37.7h0M21.4 33.0h0M37.9 33.1h0M34.4 30.9h0M39.6 48.3h0M37.7 37.8h0M41.2 52.2h0M21.0 31.7h0M36.3 52.0h0M17.8 39.5h0M50.5 40.7h0M27.5 43.1h0M14.4 43.7h0M30.4 51.2h0M26.8 30.1h0M26.4 43.8h0M34.7 36.4h0M25.7 39.5h0M12.5 42.5h0M41.7 35.1h0M9.8 39.0h0M28.0 28.6h0M47.1 48.9h0M40.1 37.4h0M25.1 37.0h0M23.4 46.2h0" stroke="#f5cfc8" stroke-width="0.9" stroke-linecap="round" fill="none"/>
<path d="M16.1 3.1h0M21.9 6.8h0M32.0 11.1h0M28.8 18.5h0M18.1 4.1h0M37.7 15.0h0M30.5 6.3h0M18.0 7.4h0M23.9 9.6h0M12.8 5.4h0M12.6 2.2h0M17.3 14.3h0M32.6 10.7h0M37.4 17.4h0M21.7 6.6h0M28.7 18.5h0M11.9 2.9h0M7.9 6.4h0M43.3 22.6h0M48.1 23.5h0M39.0 20.0h0M24.6 7.4h0M26.7 10.2h0M27.4 12.7h0M33.4 15.0h0M25.7 14.5h0M25.2 7.7h0M31.6 13.9h0M29.6 10.5h0M32.8 12.1h0M26.2 9.7h0M34.3 7.5h0M27.5 9.3h0M31.3 9.1h0M18.6 13.2h0M60.9 36.5h0M61.0 29.3h0M62.7 35.5h0M61.1 37.2h0M61.8 35.6h0M62.3 32.4h0M65.2 31.7h0M62.4 31.6h0M61.1 35.3h0M61.6 38.7h0M60.7 31.7h0M59.9 36.7h0M62.5 38.1h0M61.9 33.2h0M58.9 34.3h0M54.4 5.6h0M55.5 9.8h0M54.9 28.6h0M51.8 33.5h0M46.5 21.7h0M34.8 28.0h0M40.2 35.6h0M58.6 28.1h0M53.0 26.6h0M41.9 34.7h0M49.7 27.3h0M49.3 26.0h0M54.5 25.6h0M32.0 29.8h0M36.1 33.6h0M59.9 28.7h0M55.6 31.1h0M41.2 22.5h0M38.0 22.3h0M36.4 34.4h0M45.1 18.1h0M29.6 30.6h0M35.7 26.6h0M38.6 30.1h0M55.6 29.8h0M44.8 18.1h0M43.3 32.1h0M33.5 34.8h0M49.9 50.7h0M43.0 37.9h0M49.1 44.0h0M33.1 41.9h0M52.2 40.8h0M37.2 40.7h0M49.8 42.6h0M52.2 44.7h0M35.1 50.1h0M30.9 45.4h0M50.0 50.6h0M42.8 45.6h0M31.2 46.6h0M12.3 35.4h0M12.7 39.7h0M25.5 37.6h0M32.1 56.4h0M18.8 54.4h0M38.9 32.2h0M18.5 53.6h0M31.1 28.7h0M10.8 48.1h0M21.9 56.3h0M28.6 42.7h0M8.5 43.4h0M30.4 49.9h0M25.4 28.6h0M8.5 41.0h0M35.6 33.2h0M15.3 29.5h0M25.0 31.2h0M51.0 45.2h0M35.3 34.7h0M25.0 53.2h0M36.9 37.8h0M46.5 50.3h0M32.0 57.3h0M11.3 33.7h0M35.4 31.4h0M33.0 27.5h0M36.9 36.0h0M40.0 33.4h0M40.8 27.9h0M50.2 45.5h0M27.3 54.1h0M38.8 53.8h0M21.9 32.8h0M45.6 41.7h0M29.2 42.2h0M43.8 29.0h0M22.1 25.5h0M43.5 36.5h0" stroke="#f0a898" stroke-width="1.8" stroke-opacity="0.18" stroke-linecap="round" fill="none"/>
<path d="M16.1 3.1h0M21.9 6.8h0M32.0 11.1h0M28.8 18.5h0M18.1 4.1h0M37.7 15.0h0M30.5 6.3h0M18.0 7.4h0M23.9 9.6h0M12.8 5.4h0M12.6 2.2h0M17.3 14.3h0M32.6 10.7h0M37.4 17.4h0M21.7 6.6h0M28.7 18.5h0M11.9 2.9h0M7.9 6.4h0M43.3 22.6h0M48.1 23.5h0M39.0 20.0h0M24.6 7.4h0M26.7 10.2h0M27.4 12.7h0M33.4 15.0h0M25.7 14.5h0M25.2 7.7h0M31.6 13.9h0M29.6 10.5h0M32.8 12.1h0M26.2 9.7h0M34.3 7.5h0M27.5 9.3h0M31.3 9.1h0M18.6 13.2h0M60.9 36.5h0M61.0 29.3h0M62.7 35.5h0M61.1 37.2h0M61.8 35.6h0M62.3 32.4h0M65.2 31.7h0M62.4 31.6h0M61.1 35.3h0M61.6 38.7h0M60.7 31.7h0M59.9 36.7h0M62.5 38.1h0M61.9 33.2h0M58.9 34.3h0M54.4 5.6h0M55.5 9.8h0M54.9 28.6h0M51.8 33.5h0M46.5 21.7h0M34.8 28.0h0M40.2 35.6h0M58.6 28.1h0M53.0 26.6h0M41.9 34.7h0M49.7 27.3h0M49.3 26.0h0M54.5 25.6h0M32.0 29.8h0M36.1 33.6h0M59.9 28.7h0M55.6 31.1h0M41.2 22.5h0M38.0 22.3h0M36.4 34.4h0M45.1 18.1h0M29.6 30.6h0M35.7 26.6h0M38.6 30.1h0M55.6 29.8h0M44.8 18.1h0M43.3 32.1h0M33.5 34.8h0M49.9 50.7h0M43.0 37.9h0M49.1 44.0h0M33.1 41.9h0M52.2 40.8h0M37.2 40.7h0M49.8 42.6h0M52.2 44.7h0M35.1 50.1h0M30.9 45.4h0M50.0 50.6h0M42.8 45.6h0M31.2 46.6h0M12.3 35.4h0M12.7 39.7h0M25.5 37.6h0M32.1 56.4h0M18.8 54.4h0M38.9 32.2h0M18.5 53.6h0M31.1 28.7h0M10.8 48.1h0M21.9 56.3h0M28.6 42.7h0M8.5 43.4h0M30.4 49.9h0M25.4 28.6h0M8.5 41.0h0M35.6 33.2h0M15.3 29.5h0M25.0 31.2h0M51.0 45.2h0M35.3 34.7h0M25.0 53.2h0M36.9 37.8h0M46.5 50.3h0M32.0 57.3h0M11.3 33.7h0M35.4 31.4h0M33.0 27.5h0M36.9 36.0h0M40.0 33.4h0M40.8 27.9h0M50.2 45.5h0M27.3 54.1h0M38.8 53.8h0M21.9 32.8h0M45.6 41.7h0M29.2 42.2h0M43.8 29.0h0M22.1 25.5h0M43.5 36.5h0" stroke="#f0a898" stroke-width="0.9" stroke-linecap="round" fill="none"/>
<path d="M22.2 8.0h0M38.5 21.1h0M34.4 16.8h0M9.2 11.2h0M15.6 1.9h0M12.1 4.7h0M11.9 5.1h0M11.5 10.3h0M15.2 8.2h0M25.6 1.9h0M11.7 8.7h0M26.9 9.4h0M22.3 16.2h0M31.2 13.4h0M39.5 16.7h0M16.2 7.4h0M39.7 17.0h0M46.5 23.3h0M54.5 19.3h0M28.2 9.1h0M24.4 16.8h0M31.0 10.7h0M34.8 9.7h0M23.1 4.6h0M21.6 9.4h0M34.7 13.1h0M26.2 8.9h0M35.6 8.9h0M26.4 10.4h0M15.7 9.9h0M34.6 6.2h0M25.4 9.5h0M20.8 13.8h0M30.0 11.6h0M28.5 11.2h0M30.9 16.1h0M37.3 18.0h0M18.7 7.3h0M17.0 5.8h0M28.9 11.5h0M33.3 13.3h0M20.1 5.2h0M27.1 10.8h0M38.5 15.6h0M21.3 11.2h0M22.5 8.2h0M34.4 14.0h0M20.2 9.5h0M60.9 31.4h0M65.1 40.0h0M64.9 36.2h0M61.2 38.4h0M61.6 37.4h0M56.4 26.9h0M62.4 36.0h0M63.6 39.3h0M62.4 37.6h0M60.9 31.8h0M60.8 33.1h0M63.2 38.9h0M58.6 35.2h0M58.3 30.6h0M64.2 39.7h0M65.2 32.6h0M66.4 36.6h0M65.6 37.1h0M62.6 32.1h0M64.1 34.0h0M64.8 34.2h0M60.1 36.9h0M62.0 40.0h0M64.3 38.5h0M60.2 37.3h0M64.4 31.6h0M53.6 15.8h0M37.3 22.1h0M49.6 32.5h0M43.2 33.2h0M30.9 30.1h0M38.1 33.0h0M45.0 34.8h0M51.9 28.1h0M34.3 26.7h0M32.9 27.2h0M58.1 22.1h0M36.9 24.2h0M35.2 31.2h0M41.6 17.5h0M42.1 33.6h0M39.1 31.0h0M51.1 37.8h0M29.9 29.1h0M45.7 31.2h0M37.8 25.8h0M33.0 34.4h0M40.4 31.2h0M42.9 31.2h0M50.8 35.8h0M45.5 38.9h0M49.8 34.5h0M50.5 34.6h0M54.4 37.5h0M50.5 25.1h0M47.4 22.6h0M48.3 38.0h0M44.9 51.1h0M38.9 38.8h0M43.8 49.6h0M45.0 47.8h0M35.0 48.1h0M49.3 39.9h0M44.8 43.5h0M33.2 42.4h0M34.7 45.0h0M50.3 45.5h0M47.5 40.5h0M45.2 48.2h0M39.7 48.9h0M51.2 48.4h0M4.4 34.5h0M9.3 42.8h0M41.5 35.5h0M32.1 36.4h0M43.7 34.9h0M27.2 50.9h0M20.9 31.1h0M47.9 44.2h0M22.5 27.8h0M19.1 46.7h0M36.1 36.5h0M24.4 41.7h0M49.7 36.5h0M51.9 43.4h0M44.9 34.6h0M19.9 39.3h0M23.8 42.3h0M31.2 37.9h0M40.8 28.7h0M22.6 30.6h0M47.4 45.3h0M46.5 43.4h0M22.1 29.7h0M46.7 42.6h0M46.6 45.0h0M26.0 57.3h0M31.0 50.2h0M20.5 29.4h0M31.4 34.8h0M47.9 34.0h0M32.9 33.4h0M41.3 27.9h0M38.5 49.9h0M29.2 55.8h0M41.6 36.8h0M30.7 30.9h0M39.8 55.1h0M41.8 32.9h0M52.0 41.3h0M34.8 36.2h0M23.1 53.2h0M37.1 27.9h0M23.0 35.4h0M37.7 35.6h0M8.2 36.6h0M26.9 51.1h0M40.9 29.9h0M29.0 32.7h0M29.3 41.2h0" stroke="#ea7f6c" stroke-width="1.8" stroke-opacity="0.18" stroke-linecap="round" fill="none"/>
<path d="M22.2 8.0h0M38.5 21.1h0M34.4 16.8h0M9.2 11.2h0M15.6 1.9h0M12.1 4.7h0M11.9 5.1h0M11.5 10.3h0M15.2 8.2h0M25.6 1.9h0M11.7 8.7h0M26.9 9.4h0M22.3 16.2h0M31.2 13.4h0M39.5 16.7h0M16.2 7.4h0M39.7 17.0h0M46.5 23.3h0M54.5 19.3h0M28.2 9.1h0M24.4 16.8h0M31.0 10.7h0M34.8 9.7h0M23.1 4.6h0M21.6 9.4h0M34.7 13.1h0M26.2 8.9h0M35.6 8.9h0M26.4 10.4h0M15.7 9.9h0M34.6 6.2h0M25.4 9.5h0M20.8 13.8h0M30.0 11.6h0M28.5 11.2h0M30.9 16.1h0M37.3 18.0h0M18.7 7.3h0M17.0 5.8h0M28.9 11.5h0M33.3 13.3h0M20.1 5.2h0M27.1 10.8h0M38.5 15.6h0M21.3 11.2h0M22.5 8.2h0M34.4 14.0h0M20.2 9.5h0M60.9 31.4h0M65.1 40.0h0M64.9 36.2h0M61.2 38.4h0M61.6 37.4h0M56.4 26.9h0M62.4 36.0h0M63.6 39.3h0M62.4 37.6h0M60.9 31.8h0M60.8 33.1h0M63.2 38.9h0M58.6 35.2h0M58.3 30.6h0M64.2 39.7h0M65.2 32.6h0M66.4 36.6h0M65.6 37.1h0M62.6 32.1h0M64.1 34.0h0M64.8 34.2h0M60.1 36.9h0M62.0 40.0h0M64.3 38.5h0M60.2 37.3h0M64.4 31.6h0M53.6 15.8h0M37.3 22.1h0M49.6 32.5h0M43.2 33.2h0M30.9 30.1h0M38.1 33.0h0M45.0 34.8h0M51.9 28.1h0M34.3 26.7h0M32.9 27.2h0M58.1 22.1h0M36.9 24.2h0M35.2 31.2h0M41.6 17.5h0M42.1 33.6h0M39.1 31.0h0M51.1 37.8h0M29.9 29.1h0M45.7 31.2h0M37.8 25.8h0M33.0 34.4h0M40.4 31.2h0M42.9 31.2h0M50.8 35.8h0M45.5 38.9h0M49.8 34.5h0M50.5 34.6h0M54.4 37.5h0M50.5 25.1h0M47.4 22.6h0M48.3 38.0h0M44.9 51.1h0M38.9 38.8h0M43.8 49.6h0M45.0 47.8h0M35.0 48.1h0M49.3 39.9h0M44.8 43.5h0M33.2 42.4h0M34.7 45.0h0M50.3 45.5h0M47.5 40.5h0M45.2 48.2h0M39.7 48.9h0M51.2 48.4h0M4.4 34.5h0M9.3 42.8h0M41.5 35.5h0M32.1 36.4h0M43.7 34.9h0M27.2 50.9h0M20.9 31.1h0M47.9 44.2h0M22.5 27.8h0M19.1 46.7h0M36.1 36.5h0M24.4 41.7h0M49.7 36.5h0M51.9 43.4h0M44.9 34.6h0M19.9 39.3h0M23.8 42.3h0M31.2 37.9h0M40.8 28.7h0M22.6 30.6h0M47.4 45.3h0M46.5 43.4h0M22.1 29.7h0M46.7 42.6h0M46.6 45.0h0M26.0 57.3h0M31.0 50.2h0M20.5 29.4h0M31.4 34.8h0M47.9 34.0h0M32.9 33.4h0M41.3 27.9h0M38.5 49.9h0M29.2 55.8h0M41.6 36.8h0M30.7 30.9h0M39.8 55.1h0M41.8 32.9h0M52.0 41.3h0M34.8 36.2h0M23.1 53.2h0M37.1 27.9h0M23.0 35.4h0M37.7 35.6h0M8.2 36.6h0M26.9 51.1h0M40.9 29.9h0M29.0 32.7h0M29.3 41.2h0" stroke="#ea7f6c" stroke-width="0.9" stroke-linecap="round" fill="none"/>
<path d="M9.7 6.9h0M24.5 9.0h0M18.9 9.2h0M35.5 17.4h0M42.0 13.2h0M26.5 11.9h0M39.2 21.7h0M57.5 26.5h0M53.4 19.9h0M27.9 8.7h0M19.8 3.9h0M22.8 10.1h0M32.3 16.5h0M31.0 10.6h0M28.1 8.1h0M27.1 10.2h0M28.1 16.9h0M27.9 13.3h0M24.1 9.9h0M31.6 15.3h0M29.7 12.1h0M26.8 9.7h0M59.3 29.1h0M58.0 28.7h0M68.6 36.4h0M60.6 31.9h0M63.7 33.9h0M65.1 34.3h0M62.3 33.8h0M69.2 41.6h0M63.9 34.4h0M61.8 38.6h0M63.3 33.1h0M57.5 35.4h0M64.3 40.2h0M57.4 33.5h0M62.3 32.6h0M63.6 35.2h0M61.6 34.4h0M64.5 32.5h0M67.2 38.9h0M53.5 24.2h0M57.9 24.2h0M32.2 21.4h0M39.3 26.4h0M60.7 28.2h0M49.5 24.8h0M33.8 35.9h0M50.7 33.6h0M33.8 20.3h0M33.4 30.4h0M52.7 36.7h0M54.4 32.6h0M42.7 27.1h0M34.8 31.6h0M34.0 34.5h0M40.4 22.8h0M41.7 21.6h0M35.2 32.5h0M46.6 36.3h0M45.6 27.7h0M59.3 30.6h0M51.8 30.3h0M51.3 21.6h0M56.0 34.6h0M61.3 27.5h0M42.4 19.1h0M52.4 36.2h0M40.9 29.8h0M49.6 26.2h0M48.6 23.7h0M42.9 36.9h0M42.0 46.5h0M36.8 39.4h0M34.0 44.3h0M38.2 51.2h0M47.8 42.0h0M43.4 37.9h0M8.1 38.3h0M3.9 32.8h0M43.2 30.2h0M34.9 30.8h0M44.6 50.4h0M45.6 44.8h0M24.7 31.2h0M21.4 43.0h0M21.5 52.2h0M19.2 40.0h0M36.8 44.9h0M47.4 42.9h0M23.4 27.3h0M37.4 51.4h0M34.6 45.7h0M39.9 41.6h0M33.1 53.2h0M23.5 55.1h0M20.0 55.0h0M30.2 42.9h0M23.5 29.6h0M38.6 37.8h0M37.0 37.0h0M38.6 34.6h0" stroke="#e05a48" stroke-width="1.8" stroke-opacity="0.18" stroke-linecap="round" fill="none"/>
<path d="M9.7 6.9h0M24.5 9.0h0M18.9 9.2h0M35.5 17.4h0M42.0 13.2h0M26.5 11.9h0M39.2 21.7h0M57.5 26.5h0M53.4 19.9h0M27.9 8.7h0M19.8 3.9h0M22.8 10.1h0M32.3 16.5h0M31.0 10.6h0M28.1 8.1h0M27.1 10.2h0M28.1 16.9h0M27.9 13.3h0M24.1 9.9h0M31.6 15.3h0M29.7 12.1h0M26.8 9.7h0M59.3 29.1h0M58.0 28.7h0M68.6 36.4h0M60.6 31.9h0M63.7 33.9h0M65.1 34.3h0M62.3 33.8h0M69.2 41.6h0M63.9 34.4h0M61.8 38.6h0M63.3 33.1h0M57.5 35.4h0M64.3 40.2h0M57.4 33.5h0M62.3 32.6h0M63.6 35.2h0M61.6 34.4h0M64.5 32.5h0M67.2 38.9h0M53.5 24.2h0M57.9 24.2h0M32.2 21.4h0M39.3 26.4h0M60.7 28.2h0M49.5 24.8h0M33.8 35.9h0M50.7 33.6h0M33.8 20.3h0M33.4 30.4h0M52.7 36.7h0M54.4 32.6h0M42.7 27.1h0M34.8 31.6h0M34.0 34.5h0M40.4 22.8h0M41.7 21.6h0M35.2 32.5h0M46.6 36.3h0M45.6 27.7h0M59.3 30.6h0M51.8 30.3h0M51.3 21.6h0M56.0 34.6h0M61.3 27.5h0M42.4 19.1h0M52.4 36.2h0M40.9 29.8h0M49.6 26.2h0M48.6 23.7h0M42.9 36.9h0M42.0 46.5h0M36.8 39.4h0M34.0 44.3h0M38.2 51.2h0M47.8 42.0h0M43.4 37.9h0M8.1 38.3h0M3.9 32.8h0M43.2 30.2h0M34.9 30.8h0M44.6 50.4h0M45.6 44.8h0M24.7 31.2h0M21.4 43.0h0M21.5 52.2h0M19.2 40.0h0M36.8 44.9h0M47.4 42.9h0M23.4 27.3h0M37.4 51.4h0M34.6 45.7h0M39.9 41.6h0M33.1 53.2h0M23.5 55.1h0M20.0 55.0h0M30.2 42.9h0M23.5 29.6h0M38.6 37.8h0M37.0 37.0h0M38.6 34.6h0" stroke="#e05a48" stroke-width="0.9" stroke-linecap="round" fill="none"/>
<path d="M26.7 18.4h0M21.3 8.8h0M42.7 22.4h0M54.1 26.6h0M28.6 6.3h0M25.7 9.8h0M32.2 9.3h0M24.4 14.2h0M28.9 9.6h0M64.5 40.9h0M63.7 37.4h0M67.3 42.7h0M67.5 32.9h0M59.0 28.0h0M65.8 36.3h0M60.2 34.1h0M65.8 34.0h0M61.8 31.0h0M68.6 39.4h0M59.0 28.5h0M63.3 29.3h0M60.4 34.6h0M61.1 30.9h0M60.4 32.6h0M65.2 35.9h0M62.7 35.6h0M63.1 37.4h0M58.9 33.2h0M60.3 32.7h0M61.4 33.2h0M64.5 38.0h0M35.7 30.9h0M40.1 20.0h0M40.8 35.3h0M40.9 24.0h0M39.6 21.0h0M57.0 32.2h0M46.7 33.0h0M42.3 38.3h0M44.3 29.5h0M46.9 19.6h0M48.9 34.5h0M36.5 19.9h0M52.5 30.9h0M40.8 27.5h0M56.2 25.9h0M40.7 46.4h0M36.7 48.9h0M47.7 38.4h0M23.2 27.1h0M20.6 33.0h0M33.4 31.9h0M30.2 33.1h0M18.5 29.4h0M32.4 27.6h0M20.1 50.0h0M21.2 34.2h0M20.9 50.3h0M20.1 29.4h0M19.4 49.5h0M19.5 28.0h0M40.5 51.9h0M46.6 48.5h0M24.0 56.8h0M34.4 42.7h0M25.6 27.8h0M21.5 36.1h0M34.8 53.1h0" stroke="#d23b2e" stroke-width="1.8" stroke-opacity="0.18" stroke-linecap="round" fill="none"/>
<path d="M26.7 18.4h0M21.3 8.8h0M42.7 22.4h0M54.1 26.6h0M28.6 6.3h0M25.7 9.8h0M32.2 9.3h0M24.4 14.2h0M28.9 9.6h0M64.5 40.9h0M63.7 37.4h0M67.3 42.7h0M67.5 32.9h0M59.0 28.0h0M65.8 36.3h0M60.2 34.1h0M65.8 34.0h0M61.8 31.0h0M68.6 39.4h0M59.0 28.5h0M63.3 29.3h0M60.4 34.6h0M61.1 30.9h0M60.4 32.6h0M65.2 35.9h0M62.7 35.6h0M63.1 37.4h0M58.9 33.2h0M60.3 32.7h0M61.4 33.2h0M64.5 38.0h0M35.7 30.9h0M40.1 20.0h0M40.8 35.3h0M40.9 24.0h0M39.6 21.0h0M57.0 32.2h0M46.7 33.0h0M42.3 38.3h0M44.3 29.5h0M46.9 19.6h0M48.9 34.5h0M36.5 19.9h0M52.5 30.9h0M40.8 27.5h0M56.2 25.9h0M40.7 46.4h0M36.7 48.9h0M47.7 38.4h0M23.2 27.1h0M20.6 33.0h0M33.4 31.9h0M30.2 33.1h0M18.5 29.4h0M32.4 27.6h0M20.1 50.0h0M21.2 34.2h0M20.9 50.3h0M20.1 29.4h0M19.4 49.5h0M19.5 28.0h0M40.5 51.9h0M46.6 48.5h0M24.0 56.8h0M34.4 42.7h0M25.6 27.8h0M21.5 36.1h0M34.8 53.1h0" stroke="#d23b2e" stroke-width="0.9" stroke-linecap="round" fill="none"/>
</g>
<rect x="80.80" y="32.10" width="71.20" height="65.00" fill="none" stroke="#1a1a1a" stroke-width="1.25"/>
<text transform="translate(116.40 27.10) scale(0.960 1)" font-size="7.9" text-anchor="middle" font-style="italic" stroke="#151515" stroke-width="0.12" fill="#151515">Mki67</text>
<g transform="translate(155.1 32.1)">
<use href="#base"/>
<path d="M24.7 11.7h0M11.4 5.2h0M34.4 16.8h0M16.1 3.1h0M10.7 2.5h0M26.7 18.4h0M21.3 8.8h0M17.3 14.3h0M27.8 13.8h0M13.8 6.3h0M18.9 9.2h0M14.5 7.4h0M42.5 24.8h0M54.5 19.3h0M44.8 20.6h0M31.0 10.7h0M24.6 12.1h0M22.9 5.9h0M18.0 12.1h0M30.9 16.1h0M21.9 7.4h0M27.1 10.8h0M64.1 34.1h0M62.4 37.6h0M64.6 39.8h0M65.2 35.9h0M66.5 34.4h0M55.6 8.4h0M54.4 5.6h0M53.7 15.9h0M32.2 21.4h0M49.7 23.3h0M43.2 34.3h0M32.3 31.2h0M42.0 25.7h0M35.5 22.7h0M58.1 22.1h0M32.1 25.5h0M51.7 28.1h0M58.8 26.5h0M57.0 32.2h0M42.7 27.1h0M45.0 38.9h0M34.0 34.5h0M56.2 28.6h0M44.2 29.5h0M51.4 37.9h0M46.1 34.2h0M58.1 29.1h0M61.3 27.5h0M52.9 18.7h0M39.0 33.3h0M47.5 23.4h0M49.9 50.7h0M50.8 49.7h0M46.9 51.4h0M43.8 49.6h0M44.4 51.1h0M39.3 46.1h0M44.1 41.5h0M41.5 51.9h0M41.3 40.0h0M33.2 42.4h0M45.5 39.7h0M42.0 41.9h0M49.8 42.6h0M38.3 48.3h0M42.8 45.6h0M43.4 37.9h0M51.2 48.4h0M11.4 40.7h0M6.8 51.7h0M9.3 36.5h0M8.4 51.3h0M12.7 40.4h0M5.8 37.6h0M8.6 44.0h0M4.8 45.6h0M3.9 32.8h0M38.7 36.5h0M43.7 34.9h0M33.1 56.4h0M10.8 48.1h0M20.7 48.6h0M45.3 36.5h0M34.4 30.9h0M11.1 31.4h0M50.2 38.8h0M49.4 47.6h0M34.4 39.8h0M19.7 51.7h0M11.5 46.8h0M24.7 31.2h0M44.9 34.6h0M19.4 31.0h0M25.2 56.7h0M28.7 38.7h0M17.8 39.5h0M50.5 40.7h0M7.3 46.6h0M40.8 28.7h0M3.8 44.4h0M47.4 45.3h0M11.4 49.4h0M12.7 39.6h0M31.0 50.2h0M30.5 38.2h0M25.7 39.5h0M20.9 50.3h0M35.4 31.4h0M43.4 53.6h0M40.0 33.4h0M6.1 43.4h0M32.9 39.8h0M31.9 53.9h0M10.6 49.1h0M43.8 29.0h0M26.9 51.1h0M42.6 45.2h0" stroke="#f5cfc8" stroke-width="1.8" stroke-opacity="0.18" stroke-linecap="round" fill="none"/>
<path d="M24.7 11.7h0M11.4 5.2h0M34.4 16.8h0M16.1 3.1h0M10.7 2.5h0M26.7 18.4h0M21.3 8.8h0M17.3 14.3h0M27.8 13.8h0M13.8 6.3h0M18.9 9.2h0M14.5 7.4h0M42.5 24.8h0M54.5 19.3h0M44.8 20.6h0M31.0 10.7h0M24.6 12.1h0M22.9 5.9h0M18.0 12.1h0M30.9 16.1h0M21.9 7.4h0M27.1 10.8h0M64.1 34.1h0M62.4 37.6h0M64.6 39.8h0M65.2 35.9h0M66.5 34.4h0M55.6 8.4h0M54.4 5.6h0M53.7 15.9h0M32.2 21.4h0M49.7 23.3h0M43.2 34.3h0M32.3 31.2h0M42.0 25.7h0M35.5 22.7h0M58.1 22.1h0M32.1 25.5h0M51.7 28.1h0M58.8 26.5h0M57.0 32.2h0M42.7 27.1h0M45.0 38.9h0M34.0 34.5h0M56.2 28.6h0M44.2 29.5h0M51.4 37.9h0M46.1 34.2h0M58.1 29.1h0M61.3 27.5h0M52.9 18.7h0M39.0 33.3h0M47.5 23.4h0M49.9 50.7h0M50.8 49.7h0M46.9 51.4h0M43.8 49.6h0M44.4 51.1h0M39.3 46.1h0M44.1 41.5h0M41.5 51.9h0M41.3 40.0h0M33.2 42.4h0M45.5 39.7h0M42.0 41.9h0M49.8 42.6h0M38.3 48.3h0M42.8 45.6h0M43.4 37.9h0M51.2 48.4h0M11.4 40.7h0M6.8 51.7h0M9.3 36.5h0M8.4 51.3h0M12.7 40.4h0M5.8 37.6h0M8.6 44.0h0M4.8 45.6h0M3.9 32.8h0M38.7 36.5h0M43.7 34.9h0M33.1 56.4h0M10.8 48.1h0M20.7 48.6h0M45.3 36.5h0M34.4 30.9h0M11.1 31.4h0M50.2 38.8h0M49.4 47.6h0M34.4 39.8h0M19.7 51.7h0M11.5 46.8h0M24.7 31.2h0M44.9 34.6h0M19.4 31.0h0M25.2 56.7h0M28.7 38.7h0M17.8 39.5h0M50.5 40.7h0M7.3 46.6h0M40.8 28.7h0M3.8 44.4h0M47.4 45.3h0M11.4 49.4h0M12.7 39.6h0M31.0 50.2h0M30.5 38.2h0M25.7 39.5h0M20.9 50.3h0M35.4 31.4h0M43.4 53.6h0M40.0 33.4h0M6.1 43.4h0M32.9 39.8h0M31.9 53.9h0M10.6 49.1h0M43.8 29.0h0M26.9 51.1h0M42.6 45.2h0" stroke="#f5cfc8" stroke-width="0.9" stroke-linecap="round" fill="none"/>
<path d="M26.4 10.6h0M27.0 16.3h0M22.2 8.0h0M25.9 12.5h0M27.0 13.2h0M37.7 15.0h0M29.7 7.3h0M13.7 6.6h0M23.1 7.7h0M22.1 9.9h0M32.6 10.7h0M11.4 2.3h0M19.6 8.5h0M18.9 10.4h0M18.2 13.0h0M8.2 6.0h0M13.8 4.8h0M9.7 3.8h0M36.4 19.4h0M12.7 2.3h0M11.7 8.7h0M27.6 10.2h0M39.6 13.2h0M39.7 17.0h0M42.7 22.4h0M46.3 19.2h0M39.0 20.0h0M44.7 23.1h0M32.8 12.9h0M27.5 10.0h0M19.5 12.1h0M29.6 11.9h0M28.6 11.0h0M25.7 9.8h0M26.4 9.7h0M17.3 5.3h0M25.2 7.7h0M31.6 13.9h0M22.4 12.8h0M20.8 13.8h0M14.3 4.2h0M19.8 7.6h0M34.3 7.5h0M27.5 9.3h0M20.0 7.5h0M28.9 11.5h0M20.1 5.2h0M32.5 15.2h0M39.1 14.5h0M27.9 12.6h0M30.0 11.3h0M65.8 36.3h0M58.2 29.9h0M61.0 36.8h0M63.6 39.3h0M65.2 31.7h0M63.9 40.0h0M64.3 38.5h0M64.4 31.6h0M54.3 4.0h0M54.5 8.9h0M55.5 4.3h0M53.7 3.6h0M53.3 3.8h0M54.3 5.5h0M49.6 32.5h0M47.6 23.7h0M51.7 31.1h0M51.8 33.5h0M40.8 35.3h0M53.8 21.4h0M39.3 26.4h0M29.7 26.1h0M40.2 32.7h0M28.8 27.9h0M49.5 24.8h0M53.7 31.4h0M33.8 20.3h0M32.2 21.4h0M49.7 27.3h0M42.1 33.6h0M42.7 21.9h0M39.1 31.0h0M54.7 32.9h0M51.1 37.8h0M42.3 38.3h0M37.8 25.8h0M29.1 26.2h0M55.6 31.1h0M42.8 21.0h0M58.7 34.7h0M43.2 36.8h0M47.1 22.7h0M36.5 19.9h0M44.2 20.0h0M45.6 27.7h0M39.7 23.9h0M30.3 23.6h0M58.9 30.6h0M51.8 30.3h0M50.8 27.1h0M50.5 25.1h0M50.0 37.9h0M48.3 38.0h0M44.8 18.1h0M40.9 29.8h0M33.5 34.8h0M35.5 48.9h0M36.7 48.9h0M49.4 44.5h0M48.9 41.1h0M44.7 49.0h0M41.4 42.7h0M47.5 45.9h0M47.8 42.0h0M44.2 39.6h0M52.2 44.7h0M5.6 30.1h0M4.3 42.0h0M5.9 44.0h0M9.1 39.2h0M6.7 42.3h0M4.3 35.7h0M9.1 49.3h0M7.9 52.3h0M8.3 53.2h0M8.1 40.5h0M9.8 37.1h0M8.7 50.1h0M4.4 34.5h0M4.7 31.7h0M11.5 33.7h0M27.8 56.1h0M15.2 30.6h0M20.9 31.1h0M38.3 33.5h0M33.4 31.9h0M22.5 27.8h0M19.1 46.7h0M44.6 50.4h0M30.2 33.1h0M14.9 32.9h0M28.8 39.5h0M19.2 40.3h0M36.3 52.0h0M47.4 42.9h0M50.9 43.4h0M9.2 37.2h0M17.5 47.5h0M28.1 53.5h0M36.9 37.8h0M46.6 45.0h0M6.9 35.7h0M32.4 26.4h0M22.4 36.5h0M21.2 34.2h0M42.7 53.5h0M23.0 31.5h0M33.0 27.5h0M12.5 42.5h0M5.3 45.5h0M49.2 43.4h0M41.3 27.9h0M30.7 30.9h0M39.8 55.1h0M14.2 33.2h0M17.2 35.8h0M21.0 50.5h0M5.2 41.6h0M46.6 48.5h0M13.0 28.7h0M40.1 37.4h0M29.2 42.2h0M13.1 43.6h0M13.1 38.8h0M40.7 37.4h0" stroke="#f0a898" stroke-width="1.8" stroke-opacity="0.18" stroke-linecap="round" fill="none"/>
<path d="M26.4 10.6h0M27.0 16.3h0M22.2 8.0h0M25.9 12.5h0M27.0 13.2h0M37.7 15.0h0M29.7 7.3h0M13.7 6.6h0M23.1 7.7h0M22.1 9.9h0M32.6 10.7h0M11.4 2.3h0M19.6 8.5h0M18.9 10.4h0M18.2 13.0h0M8.2 6.0h0M13.8 4.8h0M9.7 3.8h0M36.4 19.4h0M12.7 2.3h0M11.7 8.7h0M27.6 10.2h0M39.6 13.2h0M39.7 17.0h0M42.7 22.4h0M46.3 19.2h0M39.0 20.0h0M44.7 23.1h0M32.8 12.9h0M27.5 10.0h0M19.5 12.1h0M29.6 11.9h0M28.6 11.0h0M25.7 9.8h0M26.4 9.7h0M17.3 5.3h0M25.2 7.7h0M31.6 13.9h0M22.4 12.8h0M20.8 13.8h0M14.3 4.2h0M19.8 7.6h0M34.3 7.5h0M27.5 9.3h0M20.0 7.5h0M28.9 11.5h0M20.1 5.2h0M32.5 15.2h0M39.1 14.5h0M27.9 12.6h0M30.0 11.3h0M65.8 36.3h0M58.2 29.9h0M61.0 36.8h0M63.6 39.3h0M65.2 31.7h0M63.9 40.0h0M64.3 38.5h0M64.4 31.6h0M54.3 4.0h0M54.5 8.9h0M55.5 4.3h0M53.7 3.6h0M53.3 3.8h0M54.3 5.5h0M49.6 32.5h0M47.6 23.7h0M51.7 31.1h0M51.8 33.5h0M40.8 35.3h0M53.8 21.4h0M39.3 26.4h0M29.7 26.1h0M40.2 32.7h0M28.8 27.9h0M49.5 24.8h0M53.7 31.4h0M33.8 20.3h0M32.2 21.4h0M49.7 27.3h0M42.1 33.6h0M42.7 21.9h0M39.1 31.0h0M54.7 32.9h0M51.1 37.8h0M42.3 38.3h0M37.8 25.8h0M29.1 26.2h0M55.6 31.1h0M42.8 21.0h0M58.7 34.7h0M43.2 36.8h0M47.1 22.7h0M36.5 19.9h0M44.2 20.0h0M45.6 27.7h0M39.7 23.9h0M30.3 23.6h0M58.9 30.6h0M51.8 30.3h0M50.8 27.1h0M50.5 25.1h0M50.0 37.9h0M48.3 38.0h0M44.8 18.1h0M40.9 29.8h0M33.5 34.8h0M35.5 48.9h0M36.7 48.9h0M49.4 44.5h0M48.9 41.1h0M44.7 49.0h0M41.4 42.7h0M47.5 45.9h0M47.8 42.0h0M44.2 39.6h0M52.2 44.7h0M5.6 30.1h0M4.3 42.0h0M5.9 44.0h0M9.1 39.2h0M6.7 42.3h0M4.3 35.7h0M9.1 49.3h0M7.9 52.3h0M8.3 53.2h0M8.1 40.5h0M9.8 37.1h0M8.7 50.1h0M4.4 34.5h0M4.7 31.7h0M11.5 33.7h0M27.8 56.1h0M15.2 30.6h0M20.9 31.1h0M38.3 33.5h0M33.4 31.9h0M22.5 27.8h0M19.1 46.7h0M44.6 50.4h0M30.2 33.1h0M14.9 32.9h0M28.8 39.5h0M19.2 40.3h0M36.3 52.0h0M47.4 42.9h0M50.9 43.4h0M9.2 37.2h0M17.5 47.5h0M28.1 53.5h0M36.9 37.8h0M46.6 45.0h0M6.9 35.7h0M32.4 26.4h0M22.4 36.5h0M21.2 34.2h0M42.7 53.5h0M23.0 31.5h0M33.0 27.5h0M12.5 42.5h0M5.3 45.5h0M49.2 43.4h0M41.3 27.9h0M30.7 30.9h0M39.8 55.1h0M14.2 33.2h0M17.2 35.8h0M21.0 50.5h0M5.2 41.6h0M46.6 48.5h0M13.0 28.7h0M40.1 37.4h0M29.2 42.2h0M13.1 43.6h0M13.1 38.8h0M40.7 37.4h0" stroke="#f0a898" stroke-width="0.9" stroke-linecap="round" fill="none"/>
<path d="M21.9 6.8h0M32.0 11.1h0M28.8 18.5h0M22.2 9.7h0M37.8 14.9h0M27.8 12.0h0M27.2 7.5h0M37.4 17.4h0M37.3 10.0h0M39.7 20.3h0M40.1 16.5h0M15.2 8.2h0M37.8 12.3h0M34.2 15.2h0M40.9 16.3h0M17.1 6.6h0M26.5 14.2h0M37.6 17.4h0M14.4 6.5h0M26.5 11.9h0M39.5 16.7h0M15.0 2.3h0M35.4 16.2h0M9.8 4.4h0M13.8 3.6h0M53.4 22.5h0M40.9 19.3h0M49.0 20.1h0M54.9 28.7h0M43.3 22.6h0M41.5 19.4h0M56.1 22.6h0M43.8 17.5h0M24.4 16.8h0M24.6 7.4h0M27.0 11.0h0M25.2 6.0h0M24.1 12.3h0M18.7 8.4h0M22.6 7.8h0M26.8 10.5h0M20.9 4.6h0M25.7 14.5h0M28.6 6.3h0M28.9 13.4h0M28.5 4.4h0M22.2 11.0h0M27.1 10.2h0M29.9 12.1h0M27.6 12.2h0M29.6 10.5h0M28.7 13.7h0M30.0 11.6h0M33.8 12.8h0M32.8 12.1h0M34.9 17.6h0M27.9 13.3h0M22.8 6.1h0M32.2 9.3h0M17.0 5.1h0M23.1 11.9h0M21.3 11.2h0M28.0 9.7h0M24.0 11.7h0M29.2 13.3h0M29.7 12.1h0M29.3 7.0h0M31.1 16.1h0M21.8 12.2h0M28.6 7.2h0M62.7 40.8h0M67.3 42.7h0M60.9 36.5h0M61.0 29.3h0M60.6 31.9h0M63.7 33.9h0M57.5 31.2h0M66.5 37.9h0M61.8 31.0h0M56.5 26.2h0M61.6 37.4h0M64.6 36.9h0M62.4 36.0h0M61.1 34.7h0M63.3 33.1h0M62.7 34.1h0M61.6 38.7h0M65.6 37.1h0M62.6 32.1h0M59.6 30.9h0M62.2 41.3h0M62.1 35.4h0M61.4 33.2h0M64.5 32.5h0M60.8 33.1h0M64.5 38.0h0M57.0 8.7h0M52.6 8.8h0M54.8 3.5h0M53.6 15.8h0M54.4 3.9h0M55.5 9.8h0M53.8 5.1h0M54.4 7.0h0M54.2 4.5h0M54.9 28.6h0M30.9 30.1h0M60.7 28.2h0M34.8 28.0h0M36.4 27.2h0M36.9 24.2h0M49.6 22.4h0M49.3 26.0h0M32.0 29.8h0M41.7 34.0h0M36.1 33.6h0M41.7 21.6h0M40.4 31.2h0M35.2 32.5h0M45.0 28.0h0M52.5 30.9h0M39.9 36.3h0M40.8 27.5h0M59.3 30.6h0M49.2 31.0h0M54.0 19.0h0M42.4 19.1h0M40.7 31.4h0M39.7 30.5h0M40.2 45.4h0M36.8 46.1h0M45.8 52.0h0M42.1 40.1h0M36.4 39.7h0M36.8 40.6h0M48.0 43.7h0M47.7 38.4h0M35.1 50.1h0M36.6 49.9h0M7.2 40.2h0M12.5 43.6h0M3.6 41.3h0M5.8 47.3h0M11.8 38.5h0M3.4 37.1h0M10.4 46.5h0M10.6 39.4h0M10.9 49.9h0M7.4 38.9h0M10.2 34.6h0M6.7 35.3h0M7.9 38.6h0M4.2 42.1h0M12.3 35.4h0M6.4 51.9h0M7.0 47.7h0M9.7 32.0h0M25.2 52.3h0M28.6 42.7h0M5.0 35.1h0M44.9 43.6h0M40.4 27.8h0M40.3 52.1h0M39.9 52.1h0M24.4 41.7h0M38.1 51.3h0M16.1 42.8h0M49.7 36.5h0M10.1 43.4h0M12.9 47.9h0M35.6 33.2h0M12.3 45.8h0M21.5 52.2h0M32.0 27.6h0M37.4 30.3h0M25.0 31.2h0M35.3 34.7h0M32.4 27.6h0M23.4 27.3h0M14.9 37.1h0M20.1 50.0h0M8.6 51.2h0M12.3 43.1h0M26.4 43.8h0M36.5 33.9h0M34.6 45.7h0M31.4 34.8h0M18.1 35.0h0M47.9 34.0h0M38.2 32.1h0M52.0 41.3h0M23.5 55.1h0M16.1 39.2h0M40.5 51.9h0M20.0 55.0h0M28.2 32.5h0M18.8 53.7h0M47.1 48.9h0M23.4 43.2h0M37.4 46.3h0M30.2 42.9h0M24.0 56.8h0M23.5 29.6h0M14.8 45.6h0M14.2 45.0h0M49.3 42.3h0M26.0 45.9h0M10.7 33.2h0M8.2 36.6h0M34.8 53.1h0M21.6 26.4h0" stroke="#ea7f6c" stroke-width="1.8" stroke-opacity="0.18" stroke-linecap="round" fill="none"/>
<path d="M21.9 6.8h0M32.0 11.1h0M28.8 18.5h0M22.2 9.7h0M37.8 14.9h0M27.8 12.0h0M27.2 7.5h0M37.4 17.4h0M37.3 10.0h0M39.7 20.3h0M40.1 16.5h0M15.2 8.2h0M37.8 12.3h0M34.2 15.2h0M40.9 16.3h0M17.1 6.6h0M26.5 14.2h0M37.6 17.4h0M14.4 6.5h0M26.5 11.9h0M39.5 16.7h0M15.0 2.3h0M35.4 16.2h0M9.8 4.4h0M13.8 3.6h0M53.4 22.5h0M40.9 19.3h0M49.0 20.1h0M54.9 28.7h0M43.3 22.6h0M41.5 19.4h0M56.1 22.6h0M43.8 17.5h0M24.4 16.8h0M24.6 7.4h0M27.0 11.0h0M25.2 6.0h0M24.1 12.3h0M18.7 8.4h0M22.6 7.8h0M26.8 10.5h0M20.9 4.6h0M25.7 14.5h0M28.6 6.3h0M28.9 13.4h0M28.5 4.4h0M22.2 11.0h0M27.1 10.2h0M29.9 12.1h0M27.6 12.2h0M29.6 10.5h0M28.7 13.7h0M30.0 11.6h0M33.8 12.8h0M32.8 12.1h0M34.9 17.6h0M27.9 13.3h0M22.8 6.1h0M32.2 9.3h0M17.0 5.1h0M23.1 11.9h0M21.3 11.2h0M28.0 9.7h0M24.0 11.7h0M29.2 13.3h0M29.7 12.1h0M29.3 7.0h0M31.1 16.1h0M21.8 12.2h0M28.6 7.2h0M62.7 40.8h0M67.3 42.7h0M60.9 36.5h0M61.0 29.3h0M60.6 31.9h0M63.7 33.9h0M57.5 31.2h0M66.5 37.9h0M61.8 31.0h0M56.5 26.2h0M61.6 37.4h0M64.6 36.9h0M62.4 36.0h0M61.1 34.7h0M63.3 33.1h0M62.7 34.1h0M61.6 38.7h0M65.6 37.1h0M62.6 32.1h0M59.6 30.9h0M62.2 41.3h0M62.1 35.4h0M61.4 33.2h0M64.5 32.5h0M60.8 33.1h0M64.5 38.0h0M57.0 8.7h0M52.6 8.8h0M54.8 3.5h0M53.6 15.8h0M54.4 3.9h0M55.5 9.8h0M53.8 5.1h0M54.4 7.0h0M54.2 4.5h0M54.9 28.6h0M30.9 30.1h0M60.7 28.2h0M34.8 28.0h0M36.4 27.2h0M36.9 24.2h0M49.6 22.4h0M49.3 26.0h0M32.0 29.8h0M41.7 34.0h0M36.1 33.6h0M41.7 21.6h0M40.4 31.2h0M35.2 32.5h0M45.0 28.0h0M52.5 30.9h0M39.9 36.3h0M40.8 27.5h0M59.3 30.6h0M49.2 31.0h0M54.0 19.0h0M42.4 19.1h0M40.7 31.4h0M39.7 30.5h0M40.2 45.4h0M36.8 46.1h0M45.8 52.0h0M42.1 40.1h0M36.4 39.7h0M36.8 40.6h0M48.0 43.7h0M47.7 38.4h0M35.1 50.1h0M36.6 49.9h0M7.2 40.2h0M12.5 43.6h0M3.6 41.3h0M5.8 47.3h0M11.8 38.5h0M3.4 37.1h0M10.4 46.5h0M10.6 39.4h0M10.9 49.9h0M7.4 38.9h0M10.2 34.6h0M6.7 35.3h0M7.9 38.6h0M4.2 42.1h0M12.3 35.4h0M6.4 51.9h0M7.0 47.7h0M9.7 32.0h0M25.2 52.3h0M28.6 42.7h0M5.0 35.1h0M44.9 43.6h0M40.4 27.8h0M40.3 52.1h0M39.9 52.1h0M24.4 41.7h0M38.1 51.3h0M16.1 42.8h0M49.7 36.5h0M10.1 43.4h0M12.9 47.9h0M35.6 33.2h0M12.3 45.8h0M21.5 52.2h0M32.0 27.6h0M37.4 30.3h0M25.0 31.2h0M35.3 34.7h0M32.4 27.6h0M23.4 27.3h0M14.9 37.1h0M20.1 50.0h0M8.6 51.2h0M12.3 43.1h0M26.4 43.8h0M36.5 33.9h0M34.6 45.7h0M31.4 34.8h0M18.1 35.0h0M47.9 34.0h0M38.2 32.1h0M52.0 41.3h0M23.5 55.1h0M16.1 39.2h0M40.5 51.9h0M20.0 55.0h0M28.2 32.5h0M18.8 53.7h0M47.1 48.9h0M23.4 43.2h0M37.4 46.3h0M30.2 42.9h0M24.0 56.8h0M23.5 29.6h0M14.8 45.6h0M14.2 45.0h0M49.3 42.3h0M26.0 45.9h0M10.7 33.2h0M8.2 36.6h0M34.8 53.1h0M21.6 26.4h0" stroke="#ea7f6c" stroke-width="0.9" stroke-linecap="round" fill="none"/>
<path d="M15.1 6.8h0M24.3 8.4h0M25.6 16.5h0M24.3 2.1h0M10.0 5.7h0M36.8 16.6h0M11.9 5.1h0M21.7 6.6h0M40.0 19.2h0M18.1 10.8h0M20.6 13.8h0M22.2 4.9h0M25.0 8.6h0M33.4 11.7h0M31.2 13.4h0M23.8 17.2h0M13.0 4.5h0M26.9 11.0h0M18.5 4.6h0M39.2 21.7h0M55.0 23.7h0M55.7 24.9h0M48.1 23.5h0M41.8 24.4h0M39.7 21.3h0M31.1 11.0h0M25.8 10.0h0M26.3 7.8h0M19.6 9.1h0M37.1 18.3h0M33.4 15.0h0M31.0 10.6h0M20.6 6.7h0M23.3 12.4h0M35.6 8.9h0M23.3 9.1h0M26.7 11.7h0M22.5 10.4h0M28.1 16.9h0M23.0 4.3h0M27.8 12.1h0M30.3 9.5h0M28.6 10.1h0M18.9 3.0h0M26.3 13.2h0M24.4 14.2h0M32.5 10.5h0M26.0 10.6h0M21.7 11.7h0M31.6 15.3h0M38.5 15.6h0M20.2 9.5h0M21.3 11.1h0M64.5 40.9h0M60.2 28.3h0M58.1 36.2h0M63.7 37.4h0M60.9 31.4h0M67.5 32.9h0M68.6 36.4h0M65.1 40.0h0M65.8 34.0h0M63.3 29.3h0M66.0 38.9h0M62.3 32.4h0M65.8 36.1h0M65.6 40.1h0M60.5 33.2h0M60.6 35.4h0M60.8 33.1h0M62.4 31.6h0M66.8 35.8h0M58.3 30.6h0M64.2 39.7h0M64.3 40.2h0M65.2 32.6h0M66.4 36.6h0M61.2 31.0h0M60.7 31.7h0M65.6 40.4h0M58.9 34.3h0M52.3 10.1h0M54.5 11.8h0M51.9 28.1h0M51.8 34.6h0M35.0 23.6h0M35.2 31.2h0M42.6 32.6h0M33.0 34.4h0M50.9 37.0h0M54.9 35.8h0M41.1 26.2h0M47.4 22.6h0M55.6 29.8h0M48.6 23.7h0M40.7 46.4h0M41.7 40.7h0M35.0 48.1h0M37.0 43.8h0M50.3 45.5h0M49.9 46.4h0M39.5 46.5h0M42.4 45.1h0M6.9 30.5h0M11.2 49.3h0M5.3 38.0h0M11.4 43.0h0M8.5 39.8h0M6.4 44.7h0M11.3 40.5h0M8.7 37.9h0M7.2 50.9h0M12.7 39.7h0M8.2 48.4h0M4.5 35.2h0M9.3 27.9h0M11.5 42.3h0M7.9 41.5h0M5.5 43.9h0M29.6 57.6h0M31.7 38.4h0M40.9 28.4h0M38.9 32.2h0M27.2 50.9h0M12.6 34.2h0M17.9 27.1h0M37.9 33.1h0M38.8 33.3h0M51.4 45.8h0M43.9 48.1h0M17.2 46.6h0M23.8 42.3h0M15.7 28.1h0M14.4 43.7h0M25.0 53.2h0M27.1 37.0h0M20.5 29.4h0M24.4 53.4h0M6.5 40.8h0M33.1 53.2h0M36.9 36.0h0M26.8 46.4h0M23.1 53.2h0M14.6 31.6h0M40.9 46.0h0M13.9 43.6h0M46.1 30.9h0M14.8 50.9h0M9.1 40.9h0M16.3 27.2h0M21.9 32.8h0M35.3 42.9h0M34.4 42.7h0M43.6 32.8h0M29.0 32.7h0M21.5 36.1h0" stroke="#e05a48" stroke-width="1.8" stroke-opacity="0.18" stroke-linecap="round" fill="none"/>
<path d="M15.1 6.8h0M24.3 8.4h0M25.6 16.5h0M24.3 2.1h0M10.0 5.7h0M36.8 16.6h0M11.9 5.1h0M21.7 6.6h0M40.0 19.2h0M18.1 10.8h0M20.6 13.8h0M22.2 4.9h0M25.0 8.6h0M33.4 11.7h0M31.2 13.4h0M23.8 17.2h0M13.0 4.5h0M26.9 11.0h0M18.5 4.6h0M39.2 21.7h0M55.0 23.7h0M55.7 24.9h0M48.1 23.5h0M41.8 24.4h0M39.7 21.3h0M31.1 11.0h0M25.8 10.0h0M26.3 7.8h0M19.6 9.1h0M37.1 18.3h0M33.4 15.0h0M31.0 10.6h0M20.6 6.7h0M23.3 12.4h0M35.6 8.9h0M23.3 9.1h0M26.7 11.7h0M22.5 10.4h0M28.1 16.9h0M23.0 4.3h0M27.8 12.1h0M30.3 9.5h0M28.6 10.1h0M18.9 3.0h0M26.3 13.2h0M24.4 14.2h0M32.5 10.5h0M26.0 10.6h0M21.7 11.7h0M31.6 15.3h0M38.5 15.6h0M20.2 9.5h0M21.3 11.1h0M64.5 40.9h0M60.2 28.3h0M58.1 36.2h0M63.7 37.4h0M60.9 31.4h0M67.5 32.9h0M68.6 36.4h0M65.1 40.0h0M65.8 34.0h0M63.3 29.3h0M66.0 38.9h0M62.3 32.4h0M65.8 36.1h0M65.6 40.1h0M60.5 33.2h0M60.6 35.4h0M60.8 33.1h0M62.4 31.6h0M66.8 35.8h0M58.3 30.6h0M64.2 39.7h0M64.3 40.2h0M65.2 32.6h0M66.4 36.6h0M61.2 31.0h0M60.7 31.7h0M65.6 40.4h0M58.9 34.3h0M52.3 10.1h0M54.5 11.8h0M51.9 28.1h0M51.8 34.6h0M35.0 23.6h0M35.2 31.2h0M42.6 32.6h0M33.0 34.4h0M50.9 37.0h0M54.9 35.8h0M41.1 26.2h0M47.4 22.6h0M55.6 29.8h0M48.6 23.7h0M40.7 46.4h0M41.7 40.7h0M35.0 48.1h0M37.0 43.8h0M50.3 45.5h0M49.9 46.4h0M39.5 46.5h0M42.4 45.1h0M6.9 30.5h0M11.2 49.3h0M5.3 38.0h0M11.4 43.0h0M8.5 39.8h0M6.4 44.7h0M11.3 40.5h0M8.7 37.9h0M7.2 50.9h0M12.7 39.7h0M8.2 48.4h0M4.5 35.2h0M9.3 27.9h0M11.5 42.3h0M7.9 41.5h0M5.5 43.9h0M29.6 57.6h0M31.7 38.4h0M40.9 28.4h0M38.9 32.2h0M27.2 50.9h0M12.6 34.2h0M17.9 27.1h0M37.9 33.1h0M38.8 33.3h0M51.4 45.8h0M43.9 48.1h0M17.2 46.6h0M23.8 42.3h0M15.7 28.1h0M14.4 43.7h0M25.0 53.2h0M27.1 37.0h0M20.5 29.4h0M24.4 53.4h0M6.5 40.8h0M33.1 53.2h0M36.9 36.0h0M26.8 46.4h0M23.1 53.2h0M14.6 31.6h0M40.9 46.0h0M13.9 43.6h0M46.1 30.9h0M14.8 50.9h0M9.1 40.9h0M16.3 27.2h0M21.9 32.8h0M35.3 42.9h0M34.4 42.7h0M43.6 32.8h0M29.0 32.7h0M21.5 36.1h0" stroke="#e05a48" stroke-width="0.9" stroke-linecap="round" fill="none"/>
<path d="M17.8 10.7h0M22.0 10.4h0M16.5 5.6h0M38.5 21.1h0M33.3 12.3h0M31.9 12.8h0M23.9 9.6h0M12.8 5.4h0M34.6 16.7h0M27.9 8.7h0M22.8 10.1h0M22.6 7.1h0M23.2 13.1h0M38.4 16.7h0M27.4 13.9h0M34.6 6.2h0M38.1 13.7h0M28.0 13.9h0M28.8 14.9h0M27.9 13.0h0M30.1 9.7h0M30.0 5.1h0M24.7 10.3h0M29.3 13.3h0M26.8 9.7h0M62.0 38.2h0M61.3 35.4h0M64.6 32.2h0M59.3 29.1h0M62.1 32.2h0M59.0 28.0h0M63.1 39.5h0M62.7 35.5h0M61.2 38.4h0M68.6 39.4h0M62.3 33.8h0M56.4 26.9h0M61.1 30.9h0M63.6 32.9h0M60.9 31.8h0M64.1 34.0h0M63.0 38.3h0M64.8 34.2h0M62.0 40.0h0M53.6 3.9h0M54.8 9.7h0M53.5 24.2h0M46.5 40.7h0M7.3 52.8h0M12.6 34.4h0M10.9 49.3h0M9.2 52.0h0M16.5 50.2h0M5.8 47.8h0M8.8 34.4h0M7.3 48.4h0M34.4 55.6h0M12.2 51.7h0M6.1 36.0h0M15.2 32.6h0M11.3 33.7h0M33.7 48.7h0M16.3 54.7h0M23.4 46.2h0" stroke="#d23b2e" stroke-width="1.8" stroke-opacity="0.18" stroke-linecap="round" fill="none"/>
<path d="M17.8 10.7h0M22.0 10.4h0M16.5 5.6h0M38.5 21.1h0M33.3 12.3h0M31.9 12.8h0M23.9 9.6h0M12.8 5.4h0M34.6 16.7h0M27.9 8.7h0M22.8 10.1h0M22.6 7.1h0M23.2 13.1h0M38.4 16.7h0M27.4 13.9h0M34.6 6.2h0M38.1 13.7h0M28.0 13.9h0M28.8 14.9h0M27.9 13.0h0M30.1 9.7h0M30.0 5.1h0M24.7 10.3h0M29.3 13.3h0M26.8 9.7h0M62.0 38.2h0M61.3 35.4h0M64.6 32.2h0M59.3 29.1h0M62.1 32.2h0M59.0 28.0h0M63.1 39.5h0M62.7 35.5h0M61.2 38.4h0M68.6 39.4h0M62.3 33.8h0M56.4 26.9h0M61.1 30.9h0M63.6 32.9h0M60.9 31.8h0M64.1 34.0h0M63.0 38.3h0M64.8 34.2h0M62.0 40.0h0M53.6 3.9h0M54.8 9.7h0M53.5 24.2h0M46.5 40.7h0M7.3 52.8h0M12.6 34.4h0M10.9 49.3h0M9.2 52.0h0M16.5 50.2h0M5.8 47.8h0M8.8 34.4h0M7.3 48.4h0M34.4 55.6h0M12.2 51.7h0M6.1 36.0h0M15.2 32.6h0M11.3 33.7h0M33.7 48.7h0M16.3 54.7h0M23.4 46.2h0" stroke="#d23b2e" stroke-width="0.9" stroke-linecap="round" fill="none"/>
</g>
<rect x="155.10" y="32.10" width="71.20" height="65.00" fill="none" stroke="#1a1a1a" stroke-width="1.25"/>
<text transform="translate(190.70 27.10) scale(0.960 1)" font-size="7.9" text-anchor="middle" font-style="italic" stroke="#151515" stroke-width="0.12" fill="#151515">Ubb</text>
<g transform="translate(6.5 111.7)">
<use href="#base"/>
<path d="M24.7 11.7h0M25.5 8.8h0M25.6 16.5h0M11.5 10.3h0M11.2 8.2h0M26.5 14.2h0M26.5 11.9h0M22.2 11.0h0M64.6 32.2h0M59.3 29.1h0M67.3 42.7h0M62.1 25.4h0M62.3 32.4h0M53.6 14.9h0M54.4 7.0h0M30.9 30.1h0M34.8 28.0h0M36.4 27.2h0M34.3 26.7h0M55.6 31.1h0M42.8 21.0h0M38.7 27.6h0M50.9 37.0h0M47.1 22.7h0M46.6 36.3h0M52.5 30.9h0M38.6 30.1h0M56.0 34.6h0M38.7 26.3h0M49.3 48.3h0M36.8 39.4h0M36.4 39.7h0M34.7 45.0h0M38.2 51.2h0M45.2 48.2h0M25.5 37.6h0M31.1 28.7h0M43.2 30.2h0M45.3 36.5h0M44.2 35.4h0M25.0 31.2h0M28.7 38.7h0M27.5 43.1h0M38.3 38.9h0M47.4 45.3h0M46.7 42.6h0M18.2 49.9h0M35.4 31.4h0M33.0 27.5h0M41.8 32.9h0M50.2 45.5h0M40.9 46.0h0M35.3 42.9h0M45.6 41.7h0" stroke="#f5cfc8" stroke-width="1.8" stroke-opacity="0.18" stroke-linecap="round" fill="none"/>
<path d="M24.7 11.7h0M25.5 8.8h0M25.6 16.5h0M11.5 10.3h0M11.2 8.2h0M26.5 14.2h0M26.5 11.9h0M22.2 11.0h0M64.6 32.2h0M59.3 29.1h0M67.3 42.7h0M62.1 25.4h0M62.3 32.4h0M53.6 14.9h0M54.4 7.0h0M30.9 30.1h0M34.8 28.0h0M36.4 27.2h0M34.3 26.7h0M55.6 31.1h0M42.8 21.0h0M38.7 27.6h0M50.9 37.0h0M47.1 22.7h0M46.6 36.3h0M52.5 30.9h0M38.6 30.1h0M56.0 34.6h0M38.7 26.3h0M49.3 48.3h0M36.8 39.4h0M36.4 39.7h0M34.7 45.0h0M38.2 51.2h0M45.2 48.2h0M25.5 37.6h0M31.1 28.7h0M43.2 30.2h0M45.3 36.5h0M44.2 35.4h0M25.0 31.2h0M28.7 38.7h0M27.5 43.1h0M38.3 38.9h0M47.4 45.3h0M46.7 42.6h0M18.2 49.9h0M35.4 31.4h0M33.0 27.5h0M41.8 32.9h0M50.2 45.5h0M40.9 46.0h0M35.3 42.9h0M45.6 41.7h0" stroke="#f5cfc8" stroke-width="0.9" stroke-linecap="round" fill="none"/>
<path d="M27.0 16.3h0M22.2 8.0h0M17.3 14.3h0M27.8 12.0h0M19.6 8.5h0M18.9 10.4h0M36.6 10.0h0M40.9 16.3h0M20.6 13.8h0M17.7 6.0h0M26.7 3.1h0M18.8 9.9h0M39.4 22.2h0M39.2 21.7h0M46.3 19.2h0M42.5 24.8h0M53.4 19.9h0M43.8 17.5h0M24.6 7.4h0M25.2 6.0h0M24.1 12.3h0M27.4 12.7h0M27.1 10.2h0M33.8 12.8h0M34.9 17.6h0M26.3 13.2h0M24.4 14.2h0M30.0 11.3h0M61.3 35.4h0M61.8 32.4h0M62.2 34.8h0M67.5 32.9h0M60.9 36.5h0M63.5 35.3h0M60.8 33.1h0M64.2 39.7h0M64.3 40.2h0M57.4 33.5h0M67.2 38.9h0M60.8 33.1h0M64.5 38.0h0M55.5 4.1h0M54.3 13.2h0M54.0 4.7h0M55.6 8.4h0M54.5 5.2h0M43.2 34.3h0M28.8 27.9h0M58.1 22.1h0M53.0 26.6h0M35.2 31.2h0M42.7 21.9h0M52.7 36.7h0M34.0 34.5h0M45.7 31.2h0M36.1 33.6h0M36.5 19.9h0M45.0 28.0h0M51.8 30.3h0M54.0 19.0h0M54.4 37.5h0M52.4 36.2h0M38.9 38.8h0M42.0 46.5h0M43.9 50.7h0M44.2 39.6h0M5.7 33.3h0M11.4 43.0h0M33.6 51.4h0M27.8 56.1h0M21.0 31.7h0M39.3 43.0h0M47.9 34.0h0M30.7 46.5h0M41.6 36.8h0M19.2 54.5h0M21.6 46.7h0" stroke="#f0a898" stroke-width="1.8" stroke-opacity="0.18" stroke-linecap="round" fill="none"/>
<path d="M27.0 16.3h0M22.2 8.0h0M17.3 14.3h0M27.8 12.0h0M19.6 8.5h0M18.9 10.4h0M36.6 10.0h0M40.9 16.3h0M20.6 13.8h0M17.7 6.0h0M26.7 3.1h0M18.8 9.9h0M39.4 22.2h0M39.2 21.7h0M46.3 19.2h0M42.5 24.8h0M53.4 19.9h0M43.8 17.5h0M24.6 7.4h0M25.2 6.0h0M24.1 12.3h0M27.4 12.7h0M27.1 10.2h0M33.8 12.8h0M34.9 17.6h0M26.3 13.2h0M24.4 14.2h0M30.0 11.3h0M61.3 35.4h0M61.8 32.4h0M62.2 34.8h0M67.5 32.9h0M60.9 36.5h0M63.5 35.3h0M60.8 33.1h0M64.2 39.7h0M64.3 40.2h0M57.4 33.5h0M67.2 38.9h0M60.8 33.1h0M64.5 38.0h0M55.5 4.1h0M54.3 13.2h0M54.0 4.7h0M55.6 8.4h0M54.5 5.2h0M43.2 34.3h0M28.8 27.9h0M58.1 22.1h0M53.0 26.6h0M35.2 31.2h0M42.7 21.9h0M52.7 36.7h0M34.0 34.5h0M45.7 31.2h0M36.1 33.6h0M36.5 19.9h0M45.0 28.0h0M51.8 30.3h0M54.0 19.0h0M54.4 37.5h0M52.4 36.2h0M38.9 38.8h0M42.0 46.5h0M43.9 50.7h0M44.2 39.6h0M5.7 33.3h0M11.4 43.0h0M33.6 51.4h0M27.8 56.1h0M21.0 31.7h0M39.3 43.0h0M47.9 34.0h0M30.7 46.5h0M41.6 36.8h0M19.2 54.5h0M21.6 46.7h0" stroke="#f0a898" stroke-width="0.9" stroke-linecap="round" fill="none"/>
<path d="M10.2 3.4h0M27.0 13.2h0M13.7 6.6h0M23.1 7.7h0M15.6 1.9h0M27.2 7.5h0M37.4 17.4h0M12.1 4.7h0M20.0 8.0h0M8.2 6.0h0M37.0 15.4h0M38.9 21.0h0M9.7 3.8h0M33.9 12.7h0M19.2 14.0h0M14.8 4.7h0M11.7 8.7h0M20.8 7.1h0M9.2 3.4h0M26.7 12.1h0M30.5 8.8h0M40.7 17.7h0M17.4 7.1h0M46.5 23.3h0M54.9 28.7h0M43.0 20.5h0M39.0 20.0h0M41.8 24.4h0M49.4 23.3h0M46.6 13.8h0M57.5 26.5h0M44.7 23.1h0M24.4 16.8h0M25.8 10.0h0M26.6 10.4h0M21.0 8.3h0M22.8 10.1h0M27.5 10.0h0M23.2 13.1h0M32.3 16.5h0M31.0 10.6h0M34.7 13.1h0M27.0 10.1h0M23.3 9.1h0M26.7 11.7h0M22.5 10.4h0M28.1 16.9h0M27.8 12.1h0M28.0 13.9h0M27.9 13.3h0M30.3 9.5h0M28.6 10.1h0M19.8 7.6h0M28.8 14.9h0M27.9 13.0h0M21.9 7.4h0M29.2 7.9h0M34.3 14.4h0M29.7 12.1h0M29.3 13.3h0M26.5 8.9h0M62.7 40.8h0M63.3 40.7h0M65.8 36.3h0M62.7 35.5h0M61.4 34.5h0M64.9 36.2h0M58.2 29.9h0M66.5 37.9h0M61.1 37.2h0M61.8 31.0h0M63.3 29.3h0M66.0 35.5h0M60.5 33.2h0M60.4 32.6h0M61.1 35.3h0M58.6 35.2h0M62.6 41.2h0M61.6 38.7h0M62.3 32.6h0M62.6 32.1h0M61.2 31.0h0M64.4 40.5h0M59.9 36.7h0M61.4 33.2h0M58.9 34.3h0M52.3 10.1h0M54.7 12.4h0M54.9 11.1h0M54.5 11.8h0M37.3 22.1h0M57.9 24.2h0M36.6 37.3h0M49.7 35.5h0M53.8 21.4h0M39.3 26.4h0M40.9 24.0h0M57.0 30.8h0M42.0 25.7h0M41.3 36.8h0M54.4 32.6h0M54.7 32.9h0M42.7 27.1h0M41.7 34.0h0M55.9 35.3h0M40.2 20.2h0M46.3 33.6h0M50.8 35.8h0M49.8 31.2h0M56.1 23.4h0M49.8 34.5h0M50.5 34.6h0M48.3 38.0h0M53.0 21.0h0M34.2 36.3h0M40.7 31.4h0M41.5 34.6h0M52.0 35.5h0M35.2 40.4h0M4.6 34.9h0M24.4 41.7h0M47.4 42.9h0M19.4 49.5h0" stroke="#ea7f6c" stroke-width="1.8" stroke-opacity="0.18" stroke-linecap="round" fill="none"/>
<path d="M10.2 3.4h0M27.0 13.2h0M13.7 6.6h0M23.1 7.7h0M15.6 1.9h0M27.2 7.5h0M37.4 17.4h0M12.1 4.7h0M20.0 8.0h0M8.2 6.0h0M37.0 15.4h0M38.9 21.0h0M9.7 3.8h0M33.9 12.7h0M19.2 14.0h0M14.8 4.7h0M11.7 8.7h0M20.8 7.1h0M9.2 3.4h0M26.7 12.1h0M30.5 8.8h0M40.7 17.7h0M17.4 7.1h0M46.5 23.3h0M54.9 28.7h0M43.0 20.5h0M39.0 20.0h0M41.8 24.4h0M49.4 23.3h0M46.6 13.8h0M57.5 26.5h0M44.7 23.1h0M24.4 16.8h0M25.8 10.0h0M26.6 10.4h0M21.0 8.3h0M22.8 10.1h0M27.5 10.0h0M23.2 13.1h0M32.3 16.5h0M31.0 10.6h0M34.7 13.1h0M27.0 10.1h0M23.3 9.1h0M26.7 11.7h0M22.5 10.4h0M28.1 16.9h0M27.8 12.1h0M28.0 13.9h0M27.9 13.3h0M30.3 9.5h0M28.6 10.1h0M19.8 7.6h0M28.8 14.9h0M27.9 13.0h0M21.9 7.4h0M29.2 7.9h0M34.3 14.4h0M29.7 12.1h0M29.3 13.3h0M26.5 8.9h0M62.7 40.8h0M63.3 40.7h0M65.8 36.3h0M62.7 35.5h0M61.4 34.5h0M64.9 36.2h0M58.2 29.9h0M66.5 37.9h0M61.1 37.2h0M61.8 31.0h0M63.3 29.3h0M66.0 35.5h0M60.5 33.2h0M60.4 32.6h0M61.1 35.3h0M58.6 35.2h0M62.6 41.2h0M61.6 38.7h0M62.3 32.6h0M62.6 32.1h0M61.2 31.0h0M64.4 40.5h0M59.9 36.7h0M61.4 33.2h0M58.9 34.3h0M52.3 10.1h0M54.7 12.4h0M54.9 11.1h0M54.5 11.8h0M37.3 22.1h0M57.9 24.2h0M36.6 37.3h0M49.7 35.5h0M53.8 21.4h0M39.3 26.4h0M40.9 24.0h0M57.0 30.8h0M42.0 25.7h0M41.3 36.8h0M54.4 32.6h0M54.7 32.9h0M42.7 27.1h0M41.7 34.0h0M55.9 35.3h0M40.2 20.2h0M46.3 33.6h0M50.8 35.8h0M49.8 31.2h0M56.1 23.4h0M49.8 34.5h0M50.5 34.6h0M48.3 38.0h0M53.0 21.0h0M34.2 36.3h0M40.7 31.4h0M41.5 34.6h0M52.0 35.5h0M35.2 40.4h0M4.6 34.9h0M24.4 41.7h0M47.4 42.9h0M19.4 49.5h0" stroke="#ea7f6c" stroke-width="0.9" stroke-linecap="round" fill="none"/>
<path d="M34.4 16.8h0M16.1 3.1h0M24.3 8.4h0M37.8 14.9h0M38.8 18.2h0M31.9 12.8h0M26.7 18.4h0M18.0 7.4h0M21.3 8.8h0M34.6 16.7h0M14.2 6.3h0M32.6 10.7h0M37.3 10.0h0M36.8 16.6h0M11.9 5.1h0M35.7 11.6h0M18.9 9.2h0M35.5 17.4h0M33.9 5.7h0M40.0 15.1h0M17.1 6.6h0M8.6 3.9h0M27.6 10.2h0M19.5 2.7h0M23.8 17.2h0M39.7 17.0h0M9.8 4.4h0M19.8 14.5h0M18.5 4.6h0M43.3 22.6h0M48.1 23.5h0M47.3 21.1h0M41.1 18.5h0M39.7 21.3h0M54.5 19.3h0M27.9 8.7h0M28.9 10.9h0M26.3 12.7h0M26.3 7.8h0M19.6 9.1h0M19.8 3.9h0M22.9 5.9h0M23.1 4.6h0M26.9 8.2h0M20.9 4.6h0M34.1 12.6h0M27.4 13.9h0M28.5 4.4h0M25.2 7.7h0M25.4 9.5h0M28.7 13.7h0M14.3 4.2h0M32.8 12.1h0M18.7 7.3h0M27.5 9.3h0M32.5 10.5h0M17.0 5.1h0M26.0 10.6h0M23.1 11.9h0M24.1 9.9h0M30.0 5.1h0M31.1 9.0h0M21.3 11.2h0M25.8 11.0h0M29.3 7.0h0M33.4 19.0h0M64.5 40.9h0M60.2 28.3h0M62.1 32.2h0M60.9 31.4h0M59.0 28.0h0M60.6 31.9h0M65.0 38.8h0M61.7 34.4h0M61.6 37.4h0M61.8 35.6h0M64.6 36.9h0M63.9 34.4h0M61.1 30.9h0M61.8 38.0h0M65.2 32.6h0M66.4 36.6h0M65.6 37.1h0M60.7 31.7h0M59.6 30.9h0M63.0 38.3h0M61.2 40.8h0M63.6 41.3h0M62.5 38.1h0M60.2 37.3h0M65.0 33.1h0M53.3 6.7h0M55.5 4.3h0M53.6 15.8h0M55.4 6.2h0M55.4 15.9h0M53.5 24.2h0M55.9 20.6h0M45.0 34.8h0M58.8 26.5h0M47.7 33.7h0M39.1 31.0h0M36.0 34.9h0M43.2 36.8h0M44.2 20.0h0M45.4 22.9h0M30.3 23.6h0M43.3 32.1h0M48.6 23.7h0M35.1 50.1h0M39.7 48.9h0" stroke="#e05a48" stroke-width="1.8" stroke-opacity="0.18" stroke-linecap="round" fill="none"/>
<path d="M34.4 16.8h0M16.1 3.1h0M24.3 8.4h0M37.8 14.9h0M38.8 18.2h0M31.9 12.8h0M26.7 18.4h0M18.0 7.4h0M21.3 8.8h0M34.6 16.7h0M14.2 6.3h0M32.6 10.7h0M37.3 10.0h0M36.8 16.6h0M11.9 5.1h0M35.7 11.6h0M18.9 9.2h0M35.5 17.4h0M33.9 5.7h0M40.0 15.1h0M17.1 6.6h0M8.6 3.9h0M27.6 10.2h0M19.5 2.7h0M23.8 17.2h0M39.7 17.0h0M9.8 4.4h0M19.8 14.5h0M18.5 4.6h0M43.3 22.6h0M48.1 23.5h0M47.3 21.1h0M41.1 18.5h0M39.7 21.3h0M54.5 19.3h0M27.9 8.7h0M28.9 10.9h0M26.3 12.7h0M26.3 7.8h0M19.6 9.1h0M19.8 3.9h0M22.9 5.9h0M23.1 4.6h0M26.9 8.2h0M20.9 4.6h0M34.1 12.6h0M27.4 13.9h0M28.5 4.4h0M25.2 7.7h0M25.4 9.5h0M28.7 13.7h0M14.3 4.2h0M32.8 12.1h0M18.7 7.3h0M27.5 9.3h0M32.5 10.5h0M17.0 5.1h0M26.0 10.6h0M23.1 11.9h0M24.1 9.9h0M30.0 5.1h0M31.1 9.0h0M21.3 11.2h0M25.8 11.0h0M29.3 7.0h0M33.4 19.0h0M64.5 40.9h0M60.2 28.3h0M62.1 32.2h0M60.9 31.4h0M59.0 28.0h0M60.6 31.9h0M65.0 38.8h0M61.7 34.4h0M61.6 37.4h0M61.8 35.6h0M64.6 36.9h0M63.9 34.4h0M61.1 30.9h0M61.8 38.0h0M65.2 32.6h0M66.4 36.6h0M65.6 37.1h0M60.7 31.7h0M59.6 30.9h0M63.0 38.3h0M61.2 40.8h0M63.6 41.3h0M62.5 38.1h0M60.2 37.3h0M65.0 33.1h0M53.3 6.7h0M55.5 4.3h0M53.6 15.8h0M55.4 6.2h0M55.4 15.9h0M53.5 24.2h0M55.9 20.6h0M45.0 34.8h0M58.8 26.5h0M47.7 33.7h0M39.1 31.0h0M36.0 34.9h0M43.2 36.8h0M44.2 20.0h0M45.4 22.9h0M30.3 23.6h0M43.3 32.1h0M48.6 23.7h0M35.1 50.1h0M39.7 48.9h0" stroke="#e05a48" stroke-width="0.9" stroke-linecap="round" fill="none"/>
<path d="M26.4 10.6h0M25.9 12.5h0M32.0 11.1h0M9.2 11.2h0M10.7 2.5h0M29.7 7.3h0M12.6 2.2h0M28.8 13.5h0M10.0 5.7h0M27.8 13.8h0M24.3 15.1h0M40.2 18.1h0M37.8 12.3h0M18.1 10.8h0M32.5 19.6h0M17.3 3.1h0M14.4 6.5h0M25.0 8.6h0M25.2 6.6h0M28.7 18.5h0M15.0 2.3h0M15.9 4.7h0M19.3 8.5h0M29.5 11.5h0M40.8 22.1h0M42.7 22.4h0M31.1 11.0h0M27.0 11.0h0M34.8 9.7h0M37.1 18.3h0M22.6 7.1h0M27.9 10.9h0M20.6 6.7h0M33.4 10.6h0M25.7 14.5h0M26.2 8.9h0M26.4 9.7h0M28.1 8.1h0M34.4 12.8h0M23.3 10.4h0M30.9 8.0h0M29.6 10.5h0M30.9 11.2h0M25.9 11.3h0M28.5 11.2h0M37.3 18.0h0M30.1 12.2h0M34.3 7.5h0M18.9 3.0h0M17.0 5.8h0M23.7 8.5h0M28.9 11.5h0M33.3 13.3h0M31.6 15.3h0M20.1 5.2h0M22.5 8.2h0M24.0 11.7h0M29.2 13.3h0M34.4 14.0h0M31.3 9.1h0M27.9 12.6h0M27.2 15.1h0M28.9 9.6h0M28.6 7.2h0M62.0 38.2h0M58.0 28.7h0M68.6 36.4h0M60.9 35.3h0M64.1 34.1h0M65.1 34.3h0M68.6 39.4h0M62.3 33.8h0M60.4 34.6h0M61.8 38.6h0M61.1 34.7h0M60.9 31.8h0M63.2 38.9h0M57.5 35.4h0M65.2 35.9h0M63.1 37.4h0M63.9 40.0h0M64.0 33.1h0M65.6 40.4h0M64.3 38.5h0M64.4 31.6h0M53.5 11.5h0M54.3 5.5h0M29.9 29.1h0M46.9 19.6h0M42.9 31.2h0M35.7 26.6h0M50.9 43.4h0" stroke="#d23b2e" stroke-width="1.8" stroke-opacity="0.18" stroke-linecap="round" fill="none"/>
<path d="M26.4 10.6h0M25.9 12.5h0M32.0 11.1h0M9.2 11.2h0M10.7 2.5h0M29.7 7.3h0M12.6 2.2h0M28.8 13.5h0M10.0 5.7h0M27.8 13.8h0M24.3 15.1h0M40.2 18.1h0M37.8 12.3h0M18.1 10.8h0M32.5 19.6h0M17.3 3.1h0M14.4 6.5h0M25.0 8.6h0M25.2 6.6h0M28.7 18.5h0M15.0 2.3h0M15.9 4.7h0M19.3 8.5h0M29.5 11.5h0M40.8 22.1h0M42.7 22.4h0M31.1 11.0h0M27.0 11.0h0M34.8 9.7h0M37.1 18.3h0M22.6 7.1h0M27.9 10.9h0M20.6 6.7h0M33.4 10.6h0M25.7 14.5h0M26.2 8.9h0M26.4 9.7h0M28.1 8.1h0M34.4 12.8h0M23.3 10.4h0M30.9 8.0h0M29.6 10.5h0M30.9 11.2h0M25.9 11.3h0M28.5 11.2h0M37.3 18.0h0M30.1 12.2h0M34.3 7.5h0M18.9 3.0h0M17.0 5.8h0M23.7 8.5h0M28.9 11.5h0M33.3 13.3h0M31.6 15.3h0M20.1 5.2h0M22.5 8.2h0M24.0 11.7h0M29.2 13.3h0M34.4 14.0h0M31.3 9.1h0M27.9 12.6h0M27.2 15.1h0M28.9 9.6h0M28.6 7.2h0M62.0 38.2h0M58.0 28.7h0M68.6 36.4h0M60.9 35.3h0M64.1 34.1h0M65.1 34.3h0M68.6 39.4h0M62.3 33.8h0M60.4 34.6h0M61.8 38.6h0M61.1 34.7h0M60.9 31.8h0M63.2 38.9h0M57.5 35.4h0M65.2 35.9h0M63.1 37.4h0M63.9 40.0h0M64.0 33.1h0M65.6 40.4h0M64.3 38.5h0M64.4 31.6h0M53.5 11.5h0M54.3 5.5h0M29.9 29.1h0M46.9 19.6h0M42.9 31.2h0M35.7 26.6h0M50.9 43.4h0" stroke="#d23b2e" stroke-width="0.9" stroke-linecap="round" fill="none"/>
</g>
<rect x="6.50" y="111.70" width="71.20" height="65.00" fill="none" stroke="#1a1a1a" stroke-width="1.25"/>
<text transform="translate(42.10 106.70) scale(0.960 1)" font-size="7.9" text-anchor="middle" font-style="italic" stroke="#151515" stroke-width="0.12" fill="#151515">Rpl32</text>
<g transform="translate(80.8 111.7)">
<use href="#base"/>
<path d="M18.0 7.4h0M27.2 7.5h0M13.5 6.5h0M19.6 8.5h0M18.9 10.4h0M13.8 4.8h0M13.8 6.3h0M36.6 10.0h0M19.2 14.0h0M8.6 3.9h0M26.5 11.9h0M26.7 3.1h0M30.5 8.8h0M39.7 17.0h0M40.9 19.3h0M53.4 19.9h0M44.8 20.6h0M31.1 11.0h0M37.1 18.3h0M32.8 12.9h0M18.7 8.4h0M27.1 10.2h0M34.9 17.6h0M26.2 9.7h0M17.0 5.1h0M29.2 13.3h0M31.3 9.1h0M29.3 7.0h0M61.8 33.4h0M68.6 36.4h0M62.4 36.0h0M63.6 32.9h0M62.4 31.6h0M59.9 36.7h0M60.2 37.3h0M57.0 8.7h0M54.8 3.5h0M54.8 9.7h0M53.7 3.6h0M56.8 35.2h0M28.8 27.9h0M50.7 33.6h0M54.4 29.9h0M32.2 21.4h0M41.6 17.5h0M42.7 21.9h0M37.8 25.8h0M42.9 31.2h0M44.2 29.5h0M52.5 30.9h0M39.7 23.9h0M30.3 23.6h0M48.3 38.0h0M61.3 27.5h0M53.0 21.0h0M44.0 37.9h0M42.9 36.9h0M49.8 41.8h0M41.7 40.7h0M49.1 44.0h0M36.8 46.1h0M47.5 45.9h0M42.0 41.9h0M49.8 42.6h0M42.4 37.8h0M9.3 42.8h0M20.9 31.1h0M31.1 28.7h0M29.7 37.6h0M28.6 42.7h0M38.8 33.3h0M10.1 43.4h0M12.9 47.9h0M51.9 43.4h0M44.4 49.3h0M32.0 27.6h0M37.4 30.3h0M22.6 30.6h0M26.4 43.8h0M20.9 50.3h0M29.9 44.2h0M30.2 42.9h0M14.2 45.0h0M8.2 36.6h0" stroke="#f5cfc8" stroke-width="1.8" stroke-opacity="0.18" stroke-linecap="round" fill="none"/>
<path d="M18.0 7.4h0M27.2 7.5h0M13.5 6.5h0M19.6 8.5h0M18.9 10.4h0M13.8 4.8h0M13.8 6.3h0M36.6 10.0h0M19.2 14.0h0M8.6 3.9h0M26.5 11.9h0M26.7 3.1h0M30.5 8.8h0M39.7 17.0h0M40.9 19.3h0M53.4 19.9h0M44.8 20.6h0M31.1 11.0h0M37.1 18.3h0M32.8 12.9h0M18.7 8.4h0M27.1 10.2h0M34.9 17.6h0M26.2 9.7h0M17.0 5.1h0M29.2 13.3h0M31.3 9.1h0M29.3 7.0h0M61.8 33.4h0M68.6 36.4h0M62.4 36.0h0M63.6 32.9h0M62.4 31.6h0M59.9 36.7h0M60.2 37.3h0M57.0 8.7h0M54.8 3.5h0M54.8 9.7h0M53.7 3.6h0M56.8 35.2h0M28.8 27.9h0M50.7 33.6h0M54.4 29.9h0M32.2 21.4h0M41.6 17.5h0M42.7 21.9h0M37.8 25.8h0M42.9 31.2h0M44.2 29.5h0M52.5 30.9h0M39.7 23.9h0M30.3 23.6h0M48.3 38.0h0M61.3 27.5h0M53.0 21.0h0M44.0 37.9h0M42.9 36.9h0M49.8 41.8h0M41.7 40.7h0M49.1 44.0h0M36.8 46.1h0M47.5 45.9h0M42.0 41.9h0M49.8 42.6h0M42.4 37.8h0M9.3 42.8h0M20.9 31.1h0M31.1 28.7h0M29.7 37.6h0M28.6 42.7h0M38.8 33.3h0M10.1 43.4h0M12.9 47.9h0M51.9 43.4h0M44.4 49.3h0M32.0 27.6h0M37.4 30.3h0M22.6 30.6h0M26.4 43.8h0M20.9 50.3h0M29.9 44.2h0M30.2 42.9h0M14.2 45.0h0M8.2 36.6h0" stroke="#f5cfc8" stroke-width="0.9" stroke-linecap="round" fill="none"/>
<path d="M26.4 10.6h0M27.8 13.8h0M37.0 15.4h0M21.7 6.6h0M38.9 21.0h0M30.0 15.7h0M18.1 10.8h0M25.6 1.9h0M9.2 3.4h0M39.5 16.7h0M23.8 17.2h0M40.7 17.7h0M33.6 16.1h0M19.8 14.5h0M43.3 22.6h0M25.2 6.0h0M26.8 10.5h0M25.7 14.5h0M28.5 4.4h0M23.3 9.1h0M22.5 10.4h0M18.0 12.1h0M30.9 8.0h0M29.6 10.5h0M28.5 11.2h0M17.0 5.8h0M28.9 11.5h0M22.5 8.2h0M27.2 15.1h0M64.5 40.9h0M63.1 39.5h0M65.1 34.3h0M58.2 29.9h0M68.6 39.4h0M63.5 35.3h0M61.6 38.7h0M62.5 38.1h0M58.9 34.3h0M52.6 8.8h0M54.9 28.6h0M30.9 30.1h0M55.9 20.6h0M51.8 34.6h0M32.9 27.2h0M35.0 23.6h0M33.8 20.3h0M53.0 26.6h0M57.0 32.2h0M41.7 34.0h0M42.6 32.6h0M40.4 22.8h0M38.0 22.3h0M38.7 27.6h0M48.9 34.5h0M46.3 33.6h0M45.0 28.0h0M42.7 29.3h0M50.8 27.1h0M34.2 36.3h0M52.0 35.5h0M46.9 51.4h0M42.0 46.5h0M46.7 42.1h0M36.4 39.7h0M44.2 39.6h0M30.9 45.4h0M43.4 37.9h0M21.4 33.0h0M40.3 52.1h0M49.4 47.6h0M39.9 52.1h0M18.5 29.4h0M24.7 31.2h0M48.9 46.1h0M43.9 48.1h0M27.7 41.3h0M45.0 53.0h0M40.8 28.7h0M50.9 43.4h0M28.1 53.5h0M31.0 50.2h0M49.8 36.1h0M32.0 57.3h0M11.3 33.7h0M41.3 27.9h0M25.7 34.1h0M49.9 36.9h0M20.7 41.2h0M22.4 37.6h0M23.5 29.6h0M45.1 50.6h0M37.7 39.7h0M34.8 53.1h0M22.3 43.9h0" stroke="#f0a898" stroke-width="1.8" stroke-opacity="0.18" stroke-linecap="round" fill="none"/>
<path d="M26.4 10.6h0M27.8 13.8h0M37.0 15.4h0M21.7 6.6h0M38.9 21.0h0M30.0 15.7h0M18.1 10.8h0M25.6 1.9h0M9.2 3.4h0M39.5 16.7h0M23.8 17.2h0M40.7 17.7h0M33.6 16.1h0M19.8 14.5h0M43.3 22.6h0M25.2 6.0h0M26.8 10.5h0M25.7 14.5h0M28.5 4.4h0M23.3 9.1h0M22.5 10.4h0M18.0 12.1h0M30.9 8.0h0M29.6 10.5h0M28.5 11.2h0M17.0 5.8h0M28.9 11.5h0M22.5 8.2h0M27.2 15.1h0M64.5 40.9h0M63.1 39.5h0M65.1 34.3h0M58.2 29.9h0M68.6 39.4h0M63.5 35.3h0M61.6 38.7h0M62.5 38.1h0M58.9 34.3h0M52.6 8.8h0M54.9 28.6h0M30.9 30.1h0M55.9 20.6h0M51.8 34.6h0M32.9 27.2h0M35.0 23.6h0M33.8 20.3h0M53.0 26.6h0M57.0 32.2h0M41.7 34.0h0M42.6 32.6h0M40.4 22.8h0M38.0 22.3h0M38.7 27.6h0M48.9 34.5h0M46.3 33.6h0M45.0 28.0h0M42.7 29.3h0M50.8 27.1h0M34.2 36.3h0M52.0 35.5h0M46.9 51.4h0M42.0 46.5h0M46.7 42.1h0M36.4 39.7h0M44.2 39.6h0M30.9 45.4h0M43.4 37.9h0M21.4 33.0h0M40.3 52.1h0M49.4 47.6h0M39.9 52.1h0M18.5 29.4h0M24.7 31.2h0M48.9 46.1h0M43.9 48.1h0M27.7 41.3h0M45.0 53.0h0M40.8 28.7h0M50.9 43.4h0M28.1 53.5h0M31.0 50.2h0M49.8 36.1h0M32.0 57.3h0M11.3 33.7h0M41.3 27.9h0M25.7 34.1h0M49.9 36.9h0M20.7 41.2h0M22.4 37.6h0M23.5 29.6h0M45.1 50.6h0M37.7 39.7h0M34.8 53.1h0M22.3 43.9h0" stroke="#f0a898" stroke-width="0.9" stroke-linecap="round" fill="none"/>
<path d="M16.5 5.6h0M27.0 16.3h0M34.4 16.8h0M9.2 11.2h0M24.3 9.8h0M23.2 12.8h0M13.5 5.7h0M9.7 3.8h0M14.0 5.0h0M15.0 2.3h0M24.6 12.1h0M22.6 7.1h0M31.7 13.9h0M27.0 10.1h0M20.6 6.7h0M25.9 11.3h0M28.8 14.9h0M21.7 11.7h0M30.0 5.1h0M64.4 34.1h0M61.3 35.4h0M61.2 35.6h0M67.3 42.7h0M61.8 32.4h0M62.1 25.4h0M62.7 35.5h0M65.8 34.0h0M63.7 33.9h0M64.9 36.2h0M63.3 29.3h0M66.0 38.9h0M65.8 36.1h0M63.9 34.4h0M66.0 35.5h0M61.1 30.9h0M65.2 31.7h0M61.1 34.7h0M60.4 32.6h0M63.3 33.1h0M66.8 35.8h0M59.2 29.2h0M64.1 36.6h0M64.1 34.0h0M60.7 31.7h0M60.1 36.9h0M61.6 34.4h0M60.8 33.1h0M52.3 22.8h0M47.1 26.6h0M51.9 36.2h0M40.1 20.0h0M51.7 31.1h0M40.2 32.7h0M46.5 21.7h0M45.0 34.8h0M38.1 21.6h0M51.9 28.1h0M36.9 24.2h0M32.1 25.5h0M47.7 33.7h0M54.4 32.6h0M34.8 31.6h0M54.5 25.6h0M29.9 29.1h0M40.5 18.0h0M36.1 33.6h0M59.9 28.7h0M44.3 29.5h0M42.8 21.0h0M50.5 22.4h0M40.2 20.2h0M49.8 31.2h0M35.7 26.6h0M56.1 23.4h0M45.5 38.9h0M56.0 34.6h0M50.0 37.9h0M55.6 29.8h0M44.8 18.1h0M43.3 32.1h0M40.7 46.4h0M50.8 49.7h0M38.9 38.8h0M45.0 47.8h0M45.8 52.0h0M50.1 44.8h0M35.1 44.1h0M37.2 40.7h0M50.6 50.6h0M39.4 40.0h0M38.3 48.3h0M42.8 45.6h0M7.3 46.3h0M29.6 57.6h0M38.7 36.5h0M43.2 30.2h0M28.2 32.4h0M22.2 46.5h0M18.6 32.4h0M37.9 33.1h0M34.4 30.9h0M39.6 48.3h0M24.4 41.7h0M28.8 39.5h0M19.2 40.3h0M8.5 41.0h0M21.4 43.0h0M31.3 45.5h0M41.7 29.4h0M38.3 38.9h0M37.4 51.4h0M36.9 37.8h0M36.5 33.9h0M39.3 43.0h0M49.0 44.1h0M35.4 31.4h0M20.1 29.4h0M29.2 55.8h0M19.2 54.5h0M46.6 48.5h0M29.3 45.0h0M29.2 42.2h0M43.6 32.8h0M26.0 45.9h0M43.1 42.0h0M40.7 37.4h0" stroke="#ea7f6c" stroke-width="1.8" stroke-opacity="0.18" stroke-linecap="round" fill="none"/>
<path d="M16.5 5.6h0M27.0 16.3h0M34.4 16.8h0M9.2 11.2h0M24.3 9.8h0M23.2 12.8h0M13.5 5.7h0M9.7 3.8h0M14.0 5.0h0M15.0 2.3h0M24.6 12.1h0M22.6 7.1h0M31.7 13.9h0M27.0 10.1h0M20.6 6.7h0M25.9 11.3h0M28.8 14.9h0M21.7 11.7h0M30.0 5.1h0M64.4 34.1h0M61.3 35.4h0M61.2 35.6h0M67.3 42.7h0M61.8 32.4h0M62.1 25.4h0M62.7 35.5h0M65.8 34.0h0M63.7 33.9h0M64.9 36.2h0M63.3 29.3h0M66.0 38.9h0M65.8 36.1h0M63.9 34.4h0M66.0 35.5h0M61.1 30.9h0M65.2 31.7h0M61.1 34.7h0M60.4 32.6h0M63.3 33.1h0M66.8 35.8h0M59.2 29.2h0M64.1 36.6h0M64.1 34.0h0M60.7 31.7h0M60.1 36.9h0M61.6 34.4h0M60.8 33.1h0M52.3 22.8h0M47.1 26.6h0M51.9 36.2h0M40.1 20.0h0M51.7 31.1h0M40.2 32.7h0M46.5 21.7h0M45.0 34.8h0M38.1 21.6h0M51.9 28.1h0M36.9 24.2h0M32.1 25.5h0M47.7 33.7h0M54.4 32.6h0M34.8 31.6h0M54.5 25.6h0M29.9 29.1h0M40.5 18.0h0M36.1 33.6h0M59.9 28.7h0M44.3 29.5h0M42.8 21.0h0M50.5 22.4h0M40.2 20.2h0M49.8 31.2h0M35.7 26.6h0M56.1 23.4h0M45.5 38.9h0M56.0 34.6h0M50.0 37.9h0M55.6 29.8h0M44.8 18.1h0M43.3 32.1h0M40.7 46.4h0M50.8 49.7h0M38.9 38.8h0M45.0 47.8h0M45.8 52.0h0M50.1 44.8h0M35.1 44.1h0M37.2 40.7h0M50.6 50.6h0M39.4 40.0h0M38.3 48.3h0M42.8 45.6h0M7.3 46.3h0M29.6 57.6h0M38.7 36.5h0M43.2 30.2h0M28.2 32.4h0M22.2 46.5h0M18.6 32.4h0M37.9 33.1h0M34.4 30.9h0M39.6 48.3h0M24.4 41.7h0M28.8 39.5h0M19.2 40.3h0M8.5 41.0h0M21.4 43.0h0M31.3 45.5h0M41.7 29.4h0M38.3 38.9h0M37.4 51.4h0M36.9 37.8h0M36.5 33.9h0M39.3 43.0h0M49.0 44.1h0M35.4 31.4h0M20.1 29.4h0M29.2 55.8h0M19.2 54.5h0M46.6 48.5h0M29.3 45.0h0M29.2 42.2h0M43.6 32.8h0M26.0 45.9h0M43.1 42.0h0M40.7 37.4h0" stroke="#ea7f6c" stroke-width="0.9" stroke-linecap="round" fill="none"/>
<path d="M29.7 7.3h0M40.0 19.2h0M19.5 12.1h0M26.9 8.2h0M20.9 4.6h0M20.1 5.2h0M62.7 40.8h0M59.0 28.0h0M61.6 37.4h0M65.6 32.3h0M60.9 36.7h0M66.4 36.6h0M61.2 31.0h0M58.1 31.1h0M64.3 38.5h0M65.0 33.1h0M57.9 24.2h0M35.5 22.7h0M52.0 35.9h0M54.7 32.9h0M59.9 28.5h0M45.7 31.2h0M56.9 22.8h0M50.6 25.0h0M43.2 36.8h0M40.8 27.5h0M51.3 21.6h0M54.0 19.0h0M39.3 26.5h0M39.0 33.3h0M41.2 32.3h0M49.3 48.3h0M42.1 40.1h0M31.7 38.4h0M25.5 37.6h0M18.8 54.4h0M36.2 36.1h0M38.3 46.9h0M21.6 44.0h0M47.4 42.9h0M27.5 43.1h0M36.9 36.0h0M33.0 35.8h0M40.0 33.4h0M38.5 49.9h0M46.1 30.9h0M23.4 46.2h0M21.6 46.7h0" stroke="#e05a48" stroke-width="1.8" stroke-opacity="0.18" stroke-linecap="round" fill="none"/>
<path d="M29.7 7.3h0M40.0 19.2h0M19.5 12.1h0M26.9 8.2h0M20.9 4.6h0M20.1 5.2h0M62.7 40.8h0M59.0 28.0h0M61.6 37.4h0M65.6 32.3h0M60.9 36.7h0M66.4 36.6h0M61.2 31.0h0M58.1 31.1h0M64.3 38.5h0M65.0 33.1h0M57.9 24.2h0M35.5 22.7h0M52.0 35.9h0M54.7 32.9h0M59.9 28.5h0M45.7 31.2h0M56.9 22.8h0M50.6 25.0h0M43.2 36.8h0M40.8 27.5h0M51.3 21.6h0M54.0 19.0h0M39.3 26.5h0M39.0 33.3h0M41.2 32.3h0M49.3 48.3h0M42.1 40.1h0M31.7 38.4h0M25.5 37.6h0M18.8 54.4h0M36.2 36.1h0M38.3 46.9h0M21.6 44.0h0M47.4 42.9h0M27.5 43.1h0M36.9 36.0h0M33.0 35.8h0M40.0 33.4h0M38.5 49.9h0M46.1 30.9h0M23.4 46.2h0M21.6 46.7h0" stroke="#e05a48" stroke-width="0.9" stroke-linecap="round" fill="none"/>
<path d="M64.6 32.2h0M59.3 29.1h0M58.1 36.2h0M63.3 40.7h0M60.9 31.4h0M58.0 28.7h0M60.9 36.5h0M60.9 35.3h0M65.1 40.0h0M69.2 41.6h0M62.3 32.4h0M61.8 38.0h0M59.1 31.8h0M67.2 38.3h0M63.6 35.2h0M63.1 37.4h0M66.5 34.4h0M57.6 35.5h0M44.3 35.8h0M38.1 33.0h0M34.3 26.7h0M58.1 22.1h0M41.9 34.7h0M33.4 30.4h0M56.2 28.6h0M36.4 34.4h0M54.9 35.8h0M50.8 35.8h0M46.1 34.2h0M45.4 22.9h0M49.2 31.0h0M33.5 34.8h0M40.7 31.4h0M47.5 23.4h0M34.4 41.6h0M24.4 53.4h0M39.8 55.1h0M52.0 41.3h0M27.3 54.1h0M24.5 28.4h0" stroke="#d23b2e" stroke-width="1.8" stroke-opacity="0.18" stroke-linecap="round" fill="none"/>
<path d="M64.6 32.2h0M59.3 29.1h0M58.1 36.2h0M63.3 40.7h0M60.9 31.4h0M58.0 28.7h0M60.9 36.5h0M60.9 35.3h0M65.1 40.0h0M69.2 41.6h0M62.3 32.4h0M61.8 38.0h0M59.1 31.8h0M67.2 38.3h0M63.6 35.2h0M63.1 37.4h0M66.5 34.4h0M57.6 35.5h0M44.3 35.8h0M38.1 33.0h0M34.3 26.7h0M58.1 22.1h0M41.9 34.7h0M33.4 30.4h0M56.2 28.6h0M36.4 34.4h0M54.9 35.8h0M50.8 35.8h0M46.1 34.2h0M45.4 22.9h0M49.2 31.0h0M33.5 34.8h0M40.7 31.4h0M47.5 23.4h0M34.4 41.6h0M24.4 53.4h0M39.8 55.1h0M52.0 41.3h0M27.3 54.1h0M24.5 28.4h0" stroke="#d23b2e" stroke-width="0.9" stroke-linecap="round" fill="none"/>
</g>
<rect x="80.80" y="111.70" width="71.20" height="65.00" fill="none" stroke="#1a1a1a" stroke-width="1.25"/>
<text transform="translate(116.40 106.70) scale(0.960 1)" font-size="7.9" text-anchor="middle" font-style="italic" stroke="#151515" stroke-width="0.12" fill="#151515">Cdk1</text>
<g transform="translate(155.1 111.7)">
<use href="#base"/>
<path d="M17.8 10.7h0M38.5 21.1h0M37.8 14.9h0M21.3 8.8h0M15.6 1.9h0M27.8 12.0h0M11.4 2.3h0M37.3 10.0h0M22.0 8.1h0M27.8 13.8h0M18.9 10.4h0M11.9 5.1h0M40.2 18.1h0M21.7 6.6h0M35.2 9.5h0M19.2 14.0h0M20.8 7.1h0M40.0 15.1h0M20.6 13.8h0M8.6 3.9h0M33.4 11.7h0M28.7 18.5h0M14.0 5.0h0M26.9 11.0h0M41.5 19.4h0M24.6 7.4h0M26.7 10.2h0M27.0 11.0h0M19.8 3.9h0M21.0 8.3h0M27.4 12.7h0M26.9 8.2h0M33.4 10.6h0M28.1 8.1h0M26.4 10.4h0M15.7 9.9h0M34.4 12.8h0M25.4 9.5h0M30.9 8.0h0M23.1 9.9h0M30.9 16.1h0M22.8 6.1h0M34.3 7.5h0M27.5 9.3h0M21.9 7.4h0M26.0 10.6h0M38.5 15.6h0M22.5 8.2h0M29.3 13.3h0M28.9 9.6h0M64.5 40.9h0M64.6 32.2h0M63.3 40.7h0M62.2 34.8h0M65.8 36.3h0M60.6 31.9h0M60.2 34.1h0M63.6 38.7h0M61.1 37.2h0M61.8 35.6h0M63.6 32.9h0M60.6 35.4h0M63.2 38.9h0M67.2 38.3h0M62.7 35.6h0M63.0 38.3h0M63.1 37.4h0M63.6 41.3h0M60.3 32.7h0M54.3 4.0h0M54.3 5.7h0M54.3 3.7h0M54.7 7.6h0M56.0 11.7h0M54.2 4.5h0M40.1 20.0h0M49.7 35.5h0M51.9 28.1h0M32.3 31.2h0M49.5 24.8h0M53.7 31.4h0M50.7 33.6h0M58.1 22.1h0M52.0 35.9h0M33.8 20.3h0M54.5 25.6h0M36.1 33.6h0M41.7 21.6h0M33.0 34.4h0M56.4 24.8h0M36.4 34.4h0M46.3 33.6h0M41.1 26.2h0M56.2 25.9h0M49.2 31.0h0M51.8 30.3h0M55.6 29.8h0M53.0 21.0h0M52.4 36.2h0M50.0 51.0h0M44.4 51.1h0M35.0 48.1h0M36.8 39.4h0M35.0 49.2h0M49.9 46.4h0M5.6 30.1h0M11.4 40.7h0M5.9 44.0h0M3.4 37.1h0M7.9 52.3h0M8.8 29.2h0M8.6 40.0h0M3.8 36.7h0M29.1 51.9h0M32.1 36.4h0M33.1 56.4h0M28.2 32.4h0M19.1 46.7h0M21.1 41.3h0M50.2 38.8h0M51.4 45.8h0M11.5 46.8h0M41.2 52.2h0M21.0 31.7h0M12.3 45.8h0M21.5 52.2h0M37.4 30.3h0M36.8 44.9h0M17.9 43.7h0M23.4 27.3h0M37.4 51.4h0M49.8 36.1h0M19.4 49.5h0M41.6 36.8h0M49.9 36.9h0M13.5 53.9h0M12.0 47.4h0M47.1 48.9h0M5.2 41.6h0M23.5 29.6h0M36.8 35.5h0M11.7 51.9h0M21.5 36.1h0M34.8 53.1h0M42.6 45.2h0" stroke="#f5cfc8" stroke-width="1.8" stroke-opacity="0.18" stroke-linecap="round" fill="none"/>
<path d="M17.8 10.7h0M38.5 21.1h0M37.8 14.9h0M21.3 8.8h0M15.6 1.9h0M27.8 12.0h0M11.4 2.3h0M37.3 10.0h0M22.0 8.1h0M27.8 13.8h0M18.9 10.4h0M11.9 5.1h0M40.2 18.1h0M21.7 6.6h0M35.2 9.5h0M19.2 14.0h0M20.8 7.1h0M40.0 15.1h0M20.6 13.8h0M8.6 3.9h0M33.4 11.7h0M28.7 18.5h0M14.0 5.0h0M26.9 11.0h0M41.5 19.4h0M24.6 7.4h0M26.7 10.2h0M27.0 11.0h0M19.8 3.9h0M21.0 8.3h0M27.4 12.7h0M26.9 8.2h0M33.4 10.6h0M28.1 8.1h0M26.4 10.4h0M15.7 9.9h0M34.4 12.8h0M25.4 9.5h0M30.9 8.0h0M23.1 9.9h0M30.9 16.1h0M22.8 6.1h0M34.3 7.5h0M27.5 9.3h0M21.9 7.4h0M26.0 10.6h0M38.5 15.6h0M22.5 8.2h0M29.3 13.3h0M28.9 9.6h0M64.5 40.9h0M64.6 32.2h0M63.3 40.7h0M62.2 34.8h0M65.8 36.3h0M60.6 31.9h0M60.2 34.1h0M63.6 38.7h0M61.1 37.2h0M61.8 35.6h0M63.6 32.9h0M60.6 35.4h0M63.2 38.9h0M67.2 38.3h0M62.7 35.6h0M63.0 38.3h0M63.1 37.4h0M63.6 41.3h0M60.3 32.7h0M54.3 4.0h0M54.3 5.7h0M54.3 3.7h0M54.7 7.6h0M56.0 11.7h0M54.2 4.5h0M40.1 20.0h0M49.7 35.5h0M51.9 28.1h0M32.3 31.2h0M49.5 24.8h0M53.7 31.4h0M50.7 33.6h0M58.1 22.1h0M52.0 35.9h0M33.8 20.3h0M54.5 25.6h0M36.1 33.6h0M41.7 21.6h0M33.0 34.4h0M56.4 24.8h0M36.4 34.4h0M46.3 33.6h0M41.1 26.2h0M56.2 25.9h0M49.2 31.0h0M51.8 30.3h0M55.6 29.8h0M53.0 21.0h0M52.4 36.2h0M50.0 51.0h0M44.4 51.1h0M35.0 48.1h0M36.8 39.4h0M35.0 49.2h0M49.9 46.4h0M5.6 30.1h0M11.4 40.7h0M5.9 44.0h0M3.4 37.1h0M7.9 52.3h0M8.8 29.2h0M8.6 40.0h0M3.8 36.7h0M29.1 51.9h0M32.1 36.4h0M33.1 56.4h0M28.2 32.4h0M19.1 46.7h0M21.1 41.3h0M50.2 38.8h0M51.4 45.8h0M11.5 46.8h0M41.2 52.2h0M21.0 31.7h0M12.3 45.8h0M21.5 52.2h0M37.4 30.3h0M36.8 44.9h0M17.9 43.7h0M23.4 27.3h0M37.4 51.4h0M49.8 36.1h0M19.4 49.5h0M41.6 36.8h0M49.9 36.9h0M13.5 53.9h0M12.0 47.4h0M47.1 48.9h0M5.2 41.6h0M23.5 29.6h0M36.8 35.5h0M11.7 51.9h0M21.5 36.1h0M34.8 53.1h0M42.6 45.2h0" stroke="#f5cfc8" stroke-width="0.9" stroke-linecap="round" fill="none"/>
<path d="M11.4 5.2h0M26.7 18.4h0M30.0 15.7h0M26.5 14.2h0M20.6 12.8h0M39.5 16.7h0M40.7 17.7h0M39.2 21.7h0M41.1 19.8h0M49.3 17.3h0M31.1 11.0h0M31.0 10.7h0M28.9 10.9h0M34.8 9.7h0M26.8 10.5h0M27.9 10.9h0M28.5 4.4h0M23.3 9.1h0M28.0 13.9h0M34.9 17.6h0M23.1 11.9h0M61.3 35.4h0M59.3 29.1h0M58.1 36.2h0M58.0 28.7h0M67.5 32.9h0M64.1 34.1h0M61.4 34.5h0M62.3 33.8h0M66.0 38.9h0M60.8 31.4h0M63.9 34.4h0M65.3 33.9h0M60.8 33.1h0M61.1 35.3h0M58.6 35.2h0M65.2 35.9h0M64.1 34.0h0M59.6 30.9h0M64.8 34.2h0M59.9 36.7h0M66.5 34.4h0M61.6 34.4h0M58.9 33.2h0M64.4 31.6h0M60.8 33.1h0M52.6 8.8h0M54.3 3.6h0M53.7 3.6h0M54.3 5.5h0M37.3 22.1h0M44.3 35.8h0M38.1 21.6h0M51.7 28.1h0M34.0 34.5h0M59.9 28.5h0M29.1 26.2h0M38.7 26.3h0M59.2 26.9h0M47.5 23.4h0M52.0 35.5h0M45.0 47.8h0M43.9 50.7h0M33.2 42.4h0M36.8 40.6h0M37.2 40.7h0M41.2 45.3h0M50.0 50.6h0M6.8 38.0h0M6.8 51.7h0M8.2 28.7h0M4.0 42.6h0M5.0 40.4h0M5.8 47.3h0M11.3 40.5h0M10.6 39.4h0M10.9 49.3h0M7.9 38.6h0M8.2 48.4h0M8.1 29.8h0M40.9 28.4h0M11.5 33.7h0M18.5 53.6h0M15.2 30.6h0M10.8 48.1h0M43.2 30.2h0M21.4 33.0h0M33.4 31.9h0M5.0 35.1h0M38.8 33.3h0M40.3 52.1h0M23.6 31.5h0M14.9 32.9h0M19.7 51.7h0M12.9 47.9h0M7.3 48.4h0M11.4 49.4h0M36.9 37.8h0M22.4 36.5h0M29.4 56.3h0M39.9 41.6h0M27.1 37.0h0M39.3 43.0h0M5.3 45.5h0M26.8 46.4h0M10.5 30.8h0M6.1 43.4h0M46.4 33.7h0M10.6 49.1h0M9.1 40.9h0M16.7 30.7h0M23.0 35.4h0M29.3 45.0h0M29.1 40.6h0M29.2 42.2h0M22.1 52.2h0M37.0 37.0h0" stroke="#f0a898" stroke-width="1.8" stroke-opacity="0.18" stroke-linecap="round" fill="none"/>
<path d="M11.4 5.2h0M26.7 18.4h0M30.0 15.7h0M26.5 14.2h0M20.6 12.8h0M39.5 16.7h0M40.7 17.7h0M39.2 21.7h0M41.1 19.8h0M49.3 17.3h0M31.1 11.0h0M31.0 10.7h0M28.9 10.9h0M34.8 9.7h0M26.8 10.5h0M27.9 10.9h0M28.5 4.4h0M23.3 9.1h0M28.0 13.9h0M34.9 17.6h0M23.1 11.9h0M61.3 35.4h0M59.3 29.1h0M58.1 36.2h0M58.0 28.7h0M67.5 32.9h0M64.1 34.1h0M61.4 34.5h0M62.3 33.8h0M66.0 38.9h0M60.8 31.4h0M63.9 34.4h0M65.3 33.9h0M60.8 33.1h0M61.1 35.3h0M58.6 35.2h0M65.2 35.9h0M64.1 34.0h0M59.6 30.9h0M64.8 34.2h0M59.9 36.7h0M66.5 34.4h0M61.6 34.4h0M58.9 33.2h0M64.4 31.6h0M60.8 33.1h0M52.6 8.8h0M54.3 3.6h0M53.7 3.6h0M54.3 5.5h0M37.3 22.1h0M44.3 35.8h0M38.1 21.6h0M51.7 28.1h0M34.0 34.5h0M59.9 28.5h0M29.1 26.2h0M38.7 26.3h0M59.2 26.9h0M47.5 23.4h0M52.0 35.5h0M45.0 47.8h0M43.9 50.7h0M33.2 42.4h0M36.8 40.6h0M37.2 40.7h0M41.2 45.3h0M50.0 50.6h0M6.8 38.0h0M6.8 51.7h0M8.2 28.7h0M4.0 42.6h0M5.0 40.4h0M5.8 47.3h0M11.3 40.5h0M10.6 39.4h0M10.9 49.3h0M7.9 38.6h0M8.2 48.4h0M8.1 29.8h0M40.9 28.4h0M11.5 33.7h0M18.5 53.6h0M15.2 30.6h0M10.8 48.1h0M43.2 30.2h0M21.4 33.0h0M33.4 31.9h0M5.0 35.1h0M38.8 33.3h0M40.3 52.1h0M23.6 31.5h0M14.9 32.9h0M19.7 51.7h0M12.9 47.9h0M7.3 48.4h0M11.4 49.4h0M36.9 37.8h0M22.4 36.5h0M29.4 56.3h0M39.9 41.6h0M27.1 37.0h0M39.3 43.0h0M5.3 45.5h0M26.8 46.4h0M10.5 30.8h0M6.1 43.4h0M46.4 33.7h0M10.6 49.1h0M9.1 40.9h0M16.7 30.7h0M23.0 35.4h0M29.3 45.0h0M29.1 40.6h0M29.2 42.2h0M22.1 52.2h0M37.0 37.0h0" stroke="#f0a898" stroke-width="0.9" stroke-linecap="round" fill="none"/>
<path d="M26.4 10.6h0M13.7 6.6h0M34.6 16.7h0M9.7 3.8h0M14.5 7.4h0M34.2 15.2h0M11.7 8.7h0M22.3 16.2h0M26.7 3.1h0M23.8 17.2h0M7.9 6.4h0M33.6 16.1h0M17.4 7.1h0M40.8 22.1h0M43.3 22.6h0M39.0 20.0h0M53.4 19.9h0M24.1 12.3h0M24.6 12.1h0M22.9 5.9h0M27.0 10.1h0M26.4 9.7h0M32.8 12.1h0M30.1 12.2h0M26.3 13.2h0M23.7 8.5h0M28.9 11.5h0M31.1 9.0h0M24.7 10.3h0M26.5 8.9h0M61.8 33.4h0M63.1 39.5h0M65.1 34.3h0M65.8 36.1h0M64.2 39.7h0M61.6 38.7h0M65.2 32.6h0M65.6 37.1h0M64.4 40.5h0M61.4 33.2h0M55.5 4.1h0M54.8 9.7h0M55.6 8.4h0M56.2 8.0h0M49.6 32.5h0M51.9 36.2h0M54.4 32.6h0M41.7 34.0h0M40.5 18.0h0M51.4 37.9h0M49.8 34.5h0M42.9 36.9h0M43.0 37.9h0M44.8 43.5h0M36.8 42.9h0M46.7 42.1h0M42.0 41.9h0M47.5 40.5h0M42.4 37.8h0M33.6 48.3h0M42.4 45.1h0M5.3 38.0h0M9.3 36.5h0M7.2 40.2h0M12.5 43.6h0M11.1 50.2h0M9.2 33.5h0M8.3 30.8h0M11.4 43.0h0M4.8 45.6h0M6.7 42.3h0M9.1 49.3h0M8.7 37.9h0M9.0 36.9h0M10.2 34.6h0M6.7 35.3h0M4.6 34.9h0M6.4 51.9h0M9.8 40.7h0M6.9 41.7h0M12.7 39.7h0M7.3 43.4h0M8.0 40.2h0M9.7 32.0h0M7.9 41.5h0M5.5 43.9h0M18.8 54.4h0M31.1 28.7h0M12.6 34.2h0M7.7 33.8h0M8.5 43.4h0M8.6 50.9h0M17.1 27.9h0M6.0 36.7h0M11.5 50.6h0M31.3 45.5h0M45.0 53.0h0M17.2 46.6h0M17.8 39.5h0M32.4 27.6h0M14.9 37.1h0M12.3 43.1h0M13.9 54.2h0M15.2 32.6h0M24.4 53.4h0M52.0 41.3h0M13.9 43.6h0M40.5 51.9h0M46.1 30.9h0M14.8 50.9h0M13.0 28.7h0M40.1 37.4h0M16.3 54.7h0M8.2 36.6h0M43.1 42.0h0M13.1 43.6h0M19.2 32.9h0M38.6 34.6h0" stroke="#ea7f6c" stroke-width="1.8" stroke-opacity="0.18" stroke-linecap="round" fill="none"/>
<path d="M26.4 10.6h0M13.7 6.6h0M34.6 16.7h0M9.7 3.8h0M14.5 7.4h0M34.2 15.2h0M11.7 8.7h0M22.3 16.2h0M26.7 3.1h0M23.8 17.2h0M7.9 6.4h0M33.6 16.1h0M17.4 7.1h0M40.8 22.1h0M43.3 22.6h0M39.0 20.0h0M53.4 19.9h0M24.1 12.3h0M24.6 12.1h0M22.9 5.9h0M27.0 10.1h0M26.4 9.7h0M32.8 12.1h0M30.1 12.2h0M26.3 13.2h0M23.7 8.5h0M28.9 11.5h0M31.1 9.0h0M24.7 10.3h0M26.5 8.9h0M61.8 33.4h0M63.1 39.5h0M65.1 34.3h0M65.8 36.1h0M64.2 39.7h0M61.6 38.7h0M65.2 32.6h0M65.6 37.1h0M64.4 40.5h0M61.4 33.2h0M55.5 4.1h0M54.8 9.7h0M55.6 8.4h0M56.2 8.0h0M49.6 32.5h0M51.9 36.2h0M54.4 32.6h0M41.7 34.0h0M40.5 18.0h0M51.4 37.9h0M49.8 34.5h0M42.9 36.9h0M43.0 37.9h0M44.8 43.5h0M36.8 42.9h0M46.7 42.1h0M42.0 41.9h0M47.5 40.5h0M42.4 37.8h0M33.6 48.3h0M42.4 45.1h0M5.3 38.0h0M9.3 36.5h0M7.2 40.2h0M12.5 43.6h0M11.1 50.2h0M9.2 33.5h0M8.3 30.8h0M11.4 43.0h0M4.8 45.6h0M6.7 42.3h0M9.1 49.3h0M8.7 37.9h0M9.0 36.9h0M10.2 34.6h0M6.7 35.3h0M4.6 34.9h0M6.4 51.9h0M9.8 40.7h0M6.9 41.7h0M12.7 39.7h0M7.3 43.4h0M8.0 40.2h0M9.7 32.0h0M7.9 41.5h0M5.5 43.9h0M18.8 54.4h0M31.1 28.7h0M12.6 34.2h0M7.7 33.8h0M8.5 43.4h0M8.6 50.9h0M17.1 27.9h0M6.0 36.7h0M11.5 50.6h0M31.3 45.5h0M45.0 53.0h0M17.2 46.6h0M17.8 39.5h0M32.4 27.6h0M14.9 37.1h0M12.3 43.1h0M13.9 54.2h0M15.2 32.6h0M24.4 53.4h0M52.0 41.3h0M13.9 43.6h0M40.5 51.9h0M46.1 30.9h0M14.8 50.9h0M13.0 28.7h0M40.1 37.4h0M16.3 54.7h0M8.2 36.6h0M43.1 42.0h0M13.1 43.6h0M19.2 32.9h0M38.6 34.6h0" stroke="#ea7f6c" stroke-width="0.9" stroke-linecap="round" fill="none"/>
<path d="M32.6 10.7h0M13.0 4.5h0M36.5 17.8h0M9.8 4.4h0M25.8 10.0h0M29.6 11.9h0M20.9 4.6h0M22.2 11.0h0M30.0 11.3h0M28.0 13.4h0M62.0 38.2h0M60.9 36.7h0M53.3 6.7h0M54.0 19.0h0M41.7 40.7h0M41.5 51.9h0M6.9 30.5h0M10.5 31.2h0M7.3 52.8h0M9.8 34.1h0M8.6 44.0h0M6.4 44.7h0M10.4 46.5h0M6.4 42.6h0M12.0 45.1h0M4.4 34.5h0M9.2 52.0h0M16.5 50.2h0M22.5 27.8h0M9.4 48.4h0M9.7 34.0h0M18.2 37.4h0M34.4 39.8h0M15.7 28.1h0M12.7 39.6h0M12.2 51.7h0M32.4 26.4h0M6.1 36.0h0M25.7 39.5h0M11.3 33.7h0M35.4 31.4h0M41.8 32.9h0M14.2 45.0h0M10.7 33.2h0" stroke="#e05a48" stroke-width="1.8" stroke-opacity="0.18" stroke-linecap="round" fill="none"/>
<path d="M32.6 10.7h0M13.0 4.5h0M36.5 17.8h0M9.8 4.4h0M25.8 10.0h0M29.6 11.9h0M20.9 4.6h0M22.2 11.0h0M30.0 11.3h0M28.0 13.4h0M62.0 38.2h0M60.9 36.7h0M53.3 6.7h0M54.0 19.0h0M41.7 40.7h0M41.5 51.9h0M6.9 30.5h0M10.5 31.2h0M7.3 52.8h0M9.8 34.1h0M8.6 44.0h0M6.4 44.7h0M10.4 46.5h0M6.4 42.6h0M12.0 45.1h0M4.4 34.5h0M9.2 52.0h0M16.5 50.2h0M22.5 27.8h0M9.4 48.4h0M9.7 34.0h0M18.2 37.4h0M34.4 39.8h0M15.7 28.1h0M12.7 39.6h0M12.2 51.7h0M32.4 26.4h0M6.1 36.0h0M25.7 39.5h0M11.3 33.7h0M35.4 31.4h0M41.8 32.9h0M14.2 45.0h0M10.7 33.2h0" stroke="#e05a48" stroke-width="0.9" stroke-linecap="round" fill="none"/>
<path d="M26.3 12.7h0M29.3 7.0h0M54.8 3.5h0M12.7 40.4h0M3.9 32.8h0M9.3 42.8h0M25.0 45.3h0M16.1 42.8h0M18.0 53.9h0M21.2 30.4h0M6.9 35.7h0M9.8 39.0h0" stroke="#d23b2e" stroke-width="1.8" stroke-opacity="0.18" stroke-linecap="round" fill="none"/>
<path d="M26.3 12.7h0M29.3 7.0h0M54.8 3.5h0M12.7 40.4h0M3.9 32.8h0M9.3 42.8h0M25.0 45.3h0M16.1 42.8h0M18.0 53.9h0M21.2 30.4h0M6.9 35.7h0M9.8 39.0h0" stroke="#d23b2e" stroke-width="0.9" stroke-linecap="round" fill="none"/>
</g>
<rect x="155.10" y="111.70" width="71.20" height="65.00" fill="none" stroke="#1a1a1a" stroke-width="1.25"/>
<text transform="translate(190.70 106.70) scale(0.960 1)" font-size="7.9" text-anchor="middle" font-style="italic" stroke="#151515" stroke-width="0.12" fill="#151515">Ube2b</text>
<g transform="translate(6.5 191.6)">
<use href="#base"/>
<path d="M17.2 9.3h0M27.8 12.0h0M22.0 8.1h0M11.9 5.1h0M40.9 16.3h0M26.5 1.9h0M48.1 23.5h0M53.4 19.9h0M33.8 12.8h0M27.8 12.1h0M34.9 17.6h0M26.2 9.7h0M63.6 39.3h0M65.2 32.6h0M67.2 38.9h0M53.6 7.7h0M56.0 11.7h0M49.7 35.5h0M43.2 34.3h0M28.8 27.9h0M51.9 28.1h0M53.0 26.6h0M47.7 33.7h0M31.9 26.3h0M51.1 37.8h0M32.0 29.8h0M56.2 28.6h0M33.0 34.4h0M55.9 35.3h0M56.9 22.8h0M50.6 25.0h0M36.4 34.4h0M45.1 18.1h0M52.5 30.9h0M50.4 34.7h0M49.6 32.8h0M40.9 29.8h0M45.0 47.8h0M43.9 50.7h0M50.1 44.8h0M44.2 39.6h0M47.3 39.1h0M9.8 37.1h0M33.6 51.4h0M20.9 31.1h0M9.4 48.4h0M48.4 50.3h0M45.3 36.5h0M25.2 56.7h0M28.7 38.7h0M36.8 44.9h0M29.5 33.2h0M27.5 43.1h0M46.5 43.4h0M36.7 33.3h0M8.6 51.2h0M26.4 43.8h0M24.4 53.4h0M33.1 53.2h0M19.4 49.5h0M33.7 48.7h0M20.7 41.2h0M37.7 35.6h0M35.3 42.9h0M45.6 41.7h0M34.4 42.7h0M37.0 37.0h0M25.1 37.0h0" stroke="#f5cfc8" stroke-width="1.8" stroke-opacity="0.18" stroke-linecap="round" fill="none"/>
<path d="M17.2 9.3h0M27.8 12.0h0M22.0 8.1h0M11.9 5.1h0M40.9 16.3h0M26.5 1.9h0M48.1 23.5h0M53.4 19.9h0M33.8 12.8h0M27.8 12.1h0M34.9 17.6h0M26.2 9.7h0M63.6 39.3h0M65.2 32.6h0M67.2 38.9h0M53.6 7.7h0M56.0 11.7h0M49.7 35.5h0M43.2 34.3h0M28.8 27.9h0M51.9 28.1h0M53.0 26.6h0M47.7 33.7h0M31.9 26.3h0M51.1 37.8h0M32.0 29.8h0M56.2 28.6h0M33.0 34.4h0M55.9 35.3h0M56.9 22.8h0M50.6 25.0h0M36.4 34.4h0M45.1 18.1h0M52.5 30.9h0M50.4 34.7h0M49.6 32.8h0M40.9 29.8h0M45.0 47.8h0M43.9 50.7h0M50.1 44.8h0M44.2 39.6h0M47.3 39.1h0M9.8 37.1h0M33.6 51.4h0M20.9 31.1h0M9.4 48.4h0M48.4 50.3h0M45.3 36.5h0M25.2 56.7h0M28.7 38.7h0M36.8 44.9h0M29.5 33.2h0M27.5 43.1h0M46.5 43.4h0M36.7 33.3h0M8.6 51.2h0M26.4 43.8h0M24.4 53.4h0M33.1 53.2h0M19.4 49.5h0M33.7 48.7h0M20.7 41.2h0M37.7 35.6h0M35.3 42.9h0M45.6 41.7h0M34.4 42.7h0M37.0 37.0h0M25.1 37.0h0" stroke="#f5cfc8" stroke-width="0.9" stroke-linecap="round" fill="none"/>
<path d="M10.2 3.4h0M22.0 10.4h0M16.1 3.1h0M27.0 13.2h0M22.2 9.7h0M17.3 14.3h0M13.5 5.7h0M20.0 8.0h0M12.7 2.3h0M33.9 12.7h0M9.2 3.4h0M20.6 13.8h0M26.0 10.1h0M26.5 11.9h0M26.7 12.1h0M30.5 8.8h0M39.6 13.2h0M46.3 19.2h0M39.0 20.0h0M43.8 17.5h0M31.1 11.0h0M26.6 10.4h0M22.8 10.1h0M33.4 15.0h0M31.0 10.6h0M34.1 12.6h0M23.3 12.4h0M35.6 8.9h0M17.3 5.3h0M25.4 9.5h0M30.1 12.2h0M31.6 15.3h0M28.9 9.6h0M68.6 36.4h0M59.0 28.0h0M69.2 41.6h0M63.3 29.3h0M65.8 36.1h0M62.4 37.6h0M61.1 30.9h0M61.8 38.6h0M64.6 39.8h0M62.7 34.1h0M64.1 36.6h0M57.4 33.5h0M66.4 36.6h0M61.6 34.4h0M60.8 33.1h0M52.3 10.1h0M55.6 8.4h0M53.7 15.9h0M55.5 9.8h0M36.6 37.3h0M49.6 32.5h0M43.2 33.2h0M35.7 30.9h0M39.3 26.4h0M57.0 30.8h0M46.5 21.7h0M34.8 28.0h0M49.5 24.8h0M58.1 22.1h0M33.8 20.3h0M32.1 25.5h0M51.7 28.1h0M33.4 30.4h0M49.6 22.4h0M42.3 38.3h0M40.4 22.8h0M36.0 34.9h0M55.6 31.1h0M40.4 31.2h0M54.9 35.8h0M40.8 27.5h0M56.1 23.4h0M49.2 31.0h0M51.3 21.6h0M59.2 26.9h0M48.3 38.0h0M44.0 37.9h0M42.9 36.9h0M49.3 39.9h0M34.7 45.0h0M47.5 40.5h0M36.6 49.9h0M7.3 43.4h0M36.3 52.0h0M23.8 42.3h0M22.4 36.5h0M49.8 36.1h0M20.1 29.4h0M49.9 36.9h0M34.8 36.2h0M24.0 56.8h0M40.1 37.4h0M29.0 32.7h0M38.9 33.9h0" stroke="#f0a898" stroke-width="1.8" stroke-opacity="0.18" stroke-linecap="round" fill="none"/>
<path d="M10.2 3.4h0M22.0 10.4h0M16.1 3.1h0M27.0 13.2h0M22.2 9.7h0M17.3 14.3h0M13.5 5.7h0M20.0 8.0h0M12.7 2.3h0M33.9 12.7h0M9.2 3.4h0M20.6 13.8h0M26.0 10.1h0M26.5 11.9h0M26.7 12.1h0M30.5 8.8h0M39.6 13.2h0M46.3 19.2h0M39.0 20.0h0M43.8 17.5h0M31.1 11.0h0M26.6 10.4h0M22.8 10.1h0M33.4 15.0h0M31.0 10.6h0M34.1 12.6h0M23.3 12.4h0M35.6 8.9h0M17.3 5.3h0M25.4 9.5h0M30.1 12.2h0M31.6 15.3h0M28.9 9.6h0M68.6 36.4h0M59.0 28.0h0M69.2 41.6h0M63.3 29.3h0M65.8 36.1h0M62.4 37.6h0M61.1 30.9h0M61.8 38.6h0M64.6 39.8h0M62.7 34.1h0M64.1 36.6h0M57.4 33.5h0M66.4 36.6h0M61.6 34.4h0M60.8 33.1h0M52.3 10.1h0M55.6 8.4h0M53.7 15.9h0M55.5 9.8h0M36.6 37.3h0M49.6 32.5h0M43.2 33.2h0M35.7 30.9h0M39.3 26.4h0M57.0 30.8h0M46.5 21.7h0M34.8 28.0h0M49.5 24.8h0M58.1 22.1h0M33.8 20.3h0M32.1 25.5h0M51.7 28.1h0M33.4 30.4h0M49.6 22.4h0M42.3 38.3h0M40.4 22.8h0M36.0 34.9h0M55.6 31.1h0M40.4 31.2h0M54.9 35.8h0M40.8 27.5h0M56.1 23.4h0M49.2 31.0h0M51.3 21.6h0M59.2 26.9h0M48.3 38.0h0M44.0 37.9h0M42.9 36.9h0M49.3 39.9h0M34.7 45.0h0M47.5 40.5h0M36.6 49.9h0M7.3 43.4h0M36.3 52.0h0M23.8 42.3h0M22.4 36.5h0M49.8 36.1h0M20.1 29.4h0M49.9 36.9h0M34.8 36.2h0M24.0 56.8h0M40.1 37.4h0M29.0 32.7h0M38.9 33.9h0" stroke="#f0a898" stroke-width="0.9" stroke-linecap="round" fill="none"/>
<path d="M25.9 12.5h0M25.5 8.8h0M29.7 7.3h0M30.5 6.3h0M31.9 12.8h0M26.7 18.4h0M13.7 6.6h0M15.6 1.9h0M32.6 10.7h0M19.6 8.5h0M39.7 20.3h0M8.2 6.0h0M35.5 17.4h0M17.3 4.4h0M9.7 3.8h0M40.0 19.2h0M37.8 12.3h0M14.8 4.7h0M40.0 15.1h0M26.5 14.2h0M37.9 17.2h0M14.4 6.5h0M33.4 11.7h0M23.8 17.2h0M15.3 3.2h0M15.9 4.7h0M26.9 11.0h0M19.8 14.5h0M40.9 19.3h0M43.3 22.6h0M43.0 20.5h0M42.5 24.8h0M56.1 22.6h0M44.8 20.6h0M31.0 10.7h0M27.0 11.0h0M34.8 9.7h0M26.3 7.8h0M37.1 18.3h0M24.1 12.3h0M29.6 11.9h0M27.9 10.9h0M27.4 13.9h0M29.9 12.1h0M26.4 10.4h0M38.1 13.7h0M26.7 11.7h0M31.6 13.9h0M28.6 10.1h0M37.3 18.0h0M28.8 14.9h0M18.7 7.3h0M24.4 14.2h0M29.2 13.3h0M34.4 14.0h0M39.1 14.5h0M27.9 12.6h0M29.3 7.0h0M31.1 16.1h0M21.8 12.2h0M64.5 40.9h0M60.9 31.4h0M62.1 25.4h0M58.0 28.7h0M60.9 35.3h0M65.8 36.3h0M61.4 34.5h0M65.8 34.0h0M66.5 37.9h0M62.3 33.8h0M66.0 38.9h0M56.4 26.9h0M65.6 40.1h0M66.0 35.5h0M60.5 33.2h0M65.2 31.7h0M59.1 31.8h0M61.1 35.3h0M62.7 35.6h0M60.9 36.7h0M64.4 40.5h0M61.2 40.8h0M63.9 40.0h0M65.6 40.4h0M62.5 38.1h0M62.1 35.4h0M60.2 37.3h0M60.3 32.7h0M55.5 4.1h0M54.3 13.2h0M54.0 4.7h0M54.8 9.7h0M55.4 15.9h0M54.5 5.2h0M54.4 7.0h0M40.2 35.6h0M32.3 31.2h0M46.3 33.9h0M32.9 27.2h0M32.2 21.4h0M41.9 34.7h0M39.1 31.0h0M34.8 31.6h0M41.7 34.0h0M38.7 27.6h0M43.2 36.8h0M45.0 28.0h0M50.8 35.8h0M46.1 34.2h0M29.1 25.5h0M52.6 22.2h0M52.9 18.7h0M33.5 34.8h0M41.5 34.6h0M34.0 44.3h0M42.0 41.9h0M35.1 50.1h0M31.2 46.6h0M10.9 49.3h0M25.6 29.2h0M40.3 52.1h0M27.7 41.3h0M36.9 39.6h0M37.0 52.0h0M33.2 28.2h0M46.7 42.6h0M49.8 47.3h0M38.5 49.9h0" stroke="#ea7f6c" stroke-width="1.8" stroke-opacity="0.18" stroke-linecap="round" fill="none"/>
<path d="M25.9 12.5h0M25.5 8.8h0M29.7 7.3h0M30.5 6.3h0M31.9 12.8h0M26.7 18.4h0M13.7 6.6h0M15.6 1.9h0M32.6 10.7h0M19.6 8.5h0M39.7 20.3h0M8.2 6.0h0M35.5 17.4h0M17.3 4.4h0M9.7 3.8h0M40.0 19.2h0M37.8 12.3h0M14.8 4.7h0M40.0 15.1h0M26.5 14.2h0M37.9 17.2h0M14.4 6.5h0M33.4 11.7h0M23.8 17.2h0M15.3 3.2h0M15.9 4.7h0M26.9 11.0h0M19.8 14.5h0M40.9 19.3h0M43.3 22.6h0M43.0 20.5h0M42.5 24.8h0M56.1 22.6h0M44.8 20.6h0M31.0 10.7h0M27.0 11.0h0M34.8 9.7h0M26.3 7.8h0M37.1 18.3h0M24.1 12.3h0M29.6 11.9h0M27.9 10.9h0M27.4 13.9h0M29.9 12.1h0M26.4 10.4h0M38.1 13.7h0M26.7 11.7h0M31.6 13.9h0M28.6 10.1h0M37.3 18.0h0M28.8 14.9h0M18.7 7.3h0M24.4 14.2h0M29.2 13.3h0M34.4 14.0h0M39.1 14.5h0M27.9 12.6h0M29.3 7.0h0M31.1 16.1h0M21.8 12.2h0M64.5 40.9h0M60.9 31.4h0M62.1 25.4h0M58.0 28.7h0M60.9 35.3h0M65.8 36.3h0M61.4 34.5h0M65.8 34.0h0M66.5 37.9h0M62.3 33.8h0M66.0 38.9h0M56.4 26.9h0M65.6 40.1h0M66.0 35.5h0M60.5 33.2h0M65.2 31.7h0M59.1 31.8h0M61.1 35.3h0M62.7 35.6h0M60.9 36.7h0M64.4 40.5h0M61.2 40.8h0M63.9 40.0h0M65.6 40.4h0M62.5 38.1h0M62.1 35.4h0M60.2 37.3h0M60.3 32.7h0M55.5 4.1h0M54.3 13.2h0M54.0 4.7h0M54.8 9.7h0M55.4 15.9h0M54.5 5.2h0M54.4 7.0h0M40.2 35.6h0M32.3 31.2h0M46.3 33.9h0M32.9 27.2h0M32.2 21.4h0M41.9 34.7h0M39.1 31.0h0M34.8 31.6h0M41.7 34.0h0M38.7 27.6h0M43.2 36.8h0M45.0 28.0h0M50.8 35.8h0M46.1 34.2h0M29.1 25.5h0M52.6 22.2h0M52.9 18.7h0M33.5 34.8h0M41.5 34.6h0M34.0 44.3h0M42.0 41.9h0M35.1 50.1h0M31.2 46.6h0M10.9 49.3h0M25.6 29.2h0M40.3 52.1h0M27.7 41.3h0M36.9 39.6h0M37.0 52.0h0M33.2 28.2h0M46.7 42.6h0M49.8 47.3h0M38.5 49.9h0" stroke="#ea7f6c" stroke-width="0.9" stroke-linecap="round" fill="none"/>
<path d="M21.9 6.8h0M32.0 11.1h0M37.7 15.0h0M9.2 11.2h0M24.3 9.8h0M35.7 18.4h0M12.6 2.2h0M22.1 9.9h0M24.3 2.1h0M11.4 2.3h0M13.5 6.5h0M18.9 10.4h0M24.5 9.0h0M38.9 21.0h0M15.2 8.2h0M11.2 8.2h0M17.1 6.6h0M8.6 3.9h0M25.0 8.6h0M27.6 10.2h0M17.1 6.3h0M22.3 16.2h0M26.7 3.1h0M39.5 16.7h0M28.7 18.5h0M19.5 2.7h0M15.0 2.3h0M36.5 17.8h0M39.7 17.0h0M35.4 16.2h0M19.3 8.5h0M29.5 11.5h0M40.7 17.7h0M18.5 4.6h0M39.2 21.7h0M49.0 20.1h0M41.1 19.8h0M54.1 26.6h0M49.3 17.3h0M41.1 18.5h0M39.7 21.3h0M24.5 11.8h0M27.9 8.7h0M28.9 10.9h0M32.8 12.9h0M26.8 10.5h0M32.0 15.6h0M38.4 16.7h0M15.7 9.9h0M27.6 12.2h0M23.3 10.4h0M22.4 12.8h0M30.9 8.0h0M29.6 10.5h0M30.9 11.2h0M30.0 11.6h0M14.3 4.2h0M28.0 13.9h0M30.3 9.5h0M19.8 7.6h0M20.0 7.5h0M23.1 11.9h0M30.0 5.1h0M21.3 11.2h0M24.0 11.7h0M29.2 7.9h0M62.0 38.2h0M64.6 32.2h0M61.2 35.6h0M61.8 32.4h0M60.9 36.5h0M61.8 33.4h0M65.1 40.0h0M63.1 39.5h0M60.6 31.9h0M60.2 34.1h0M57.5 31.2h0M65.0 38.8h0M61.2 38.4h0M62.3 32.4h0M60.4 34.6h0M63.3 33.1h0M66.8 35.8h0M65.2 35.9h0M62.3 32.6h0M59.6 30.9h0M63.6 35.2h0M63.1 37.4h0M62.0 40.0h0M54.3 4.0h0M54.4 3.9h0M54.5 11.8h0M57.9 24.2h0M60.7 28.2h0M33.8 35.9h0M58.8 26.5h0M29.9 29.1h0M42.6 32.6h0M41.7 21.6h0M42.9 31.2h0M48.9 34.5h0M42.7 29.3h0M58.1 29.1h0M56.0 34.6h0M50.8 49.7h0M38.9 38.8h0M48.9 41.1h0M47.6 40.5h0M21.4 43.0h0M43.9 48.1h0M32.0 27.6h0M19.9 39.3h0M21.6 44.0h0M50.9 43.4h0" stroke="#e05a48" stroke-width="1.8" stroke-opacity="0.18" stroke-linecap="round" fill="none"/>
<path d="M21.9 6.8h0M32.0 11.1h0M37.7 15.0h0M9.2 11.2h0M24.3 9.8h0M35.7 18.4h0M12.6 2.2h0M22.1 9.9h0M24.3 2.1h0M11.4 2.3h0M13.5 6.5h0M18.9 10.4h0M24.5 9.0h0M38.9 21.0h0M15.2 8.2h0M11.2 8.2h0M17.1 6.6h0M8.6 3.9h0M25.0 8.6h0M27.6 10.2h0M17.1 6.3h0M22.3 16.2h0M26.7 3.1h0M39.5 16.7h0M28.7 18.5h0M19.5 2.7h0M15.0 2.3h0M36.5 17.8h0M39.7 17.0h0M35.4 16.2h0M19.3 8.5h0M29.5 11.5h0M40.7 17.7h0M18.5 4.6h0M39.2 21.7h0M49.0 20.1h0M41.1 19.8h0M54.1 26.6h0M49.3 17.3h0M41.1 18.5h0M39.7 21.3h0M24.5 11.8h0M27.9 8.7h0M28.9 10.9h0M32.8 12.9h0M26.8 10.5h0M32.0 15.6h0M38.4 16.7h0M15.7 9.9h0M27.6 12.2h0M23.3 10.4h0M22.4 12.8h0M30.9 8.0h0M29.6 10.5h0M30.9 11.2h0M30.0 11.6h0M14.3 4.2h0M28.0 13.9h0M30.3 9.5h0M19.8 7.6h0M20.0 7.5h0M23.1 11.9h0M30.0 5.1h0M21.3 11.2h0M24.0 11.7h0M29.2 7.9h0M62.0 38.2h0M64.6 32.2h0M61.2 35.6h0M61.8 32.4h0M60.9 36.5h0M61.8 33.4h0M65.1 40.0h0M63.1 39.5h0M60.6 31.9h0M60.2 34.1h0M57.5 31.2h0M65.0 38.8h0M61.2 38.4h0M62.3 32.4h0M60.4 34.6h0M63.3 33.1h0M66.8 35.8h0M65.2 35.9h0M62.3 32.6h0M59.6 30.9h0M63.6 35.2h0M63.1 37.4h0M62.0 40.0h0M54.3 4.0h0M54.4 3.9h0M54.5 11.8h0M57.9 24.2h0M60.7 28.2h0M33.8 35.9h0M58.8 26.5h0M29.9 29.1h0M42.6 32.6h0M41.7 21.6h0M42.9 31.2h0M48.9 34.5h0M42.7 29.3h0M58.1 29.1h0M56.0 34.6h0M50.8 49.7h0M38.9 38.8h0M48.9 41.1h0M47.6 40.5h0M21.4 43.0h0M43.9 48.1h0M32.0 27.6h0M19.9 39.3h0M21.6 44.0h0M50.9 43.4h0" stroke="#e05a48" stroke-width="0.9" stroke-linecap="round" fill="none"/>
<path d="M26.4 10.6h0M22.2 8.0h0M38.5 21.1h0M33.3 12.3h0M33.3 15.3h0M12.8 5.4h0M28.8 13.5h0M18.2 13.0h0M13.8 4.8h0M24.3 15.1h0M34.4 15.6h0M33.9 5.7h0M17.3 3.1h0M31.2 13.4h0M13.0 4.5h0M33.6 16.1h0M40.8 22.1h0M39.4 22.2h0M55.0 23.7h0M54.9 28.7h0M42.7 22.4h0M41.7 19.8h0M24.6 7.4h0M25.8 10.0h0M25.8 6.7h0M22.6 7.8h0M27.5 10.0h0M23.1 4.6h0M32.3 16.5h0M26.9 8.2h0M21.6 9.4h0M34.7 13.1h0M27.0 10.1h0M20.6 6.7h0M28.6 6.3h0M26.2 8.9h0M29.6 10.5h0M34.6 6.2h0M25.2 7.7h0M22.5 10.4h0M23.0 4.3h0M28.5 11.2h0M30.9 16.1h0M18.9 3.0h0M26.3 13.2h0M17.0 5.1h0M21.9 7.4h0M28.9 11.5h0M33.3 13.3h0M30.1 9.7h0M38.5 15.6h0M28.0 9.7h0M32.5 15.2h0M20.2 9.5h0M24.7 10.3h0M31.3 9.1h0M25.8 11.0h0M18.6 13.2h0M27.2 15.1h0M28.6 7.2h0M61.3 35.4h0M62.2 34.8h0M61.0 29.3h0M64.9 36.2h0M61.8 31.0h0M61.7 34.4h0M62.4 36.0h0M60.8 31.4h0M63.5 35.3h0M63.6 32.9h0M60.4 32.6h0M65.3 33.9h0M65.6 32.3h0M57.5 35.4h0M62.6 32.1h0M64.1 34.0h0M64.8 34.2h0M58.9 33.2h0M57.6 35.5h0M59.5 33.0h0M65.0 33.1h0M57.0 8.7h0M54.3 3.7h0M53.5 11.5h0M54.9 11.1h0M54.3 5.5h0M53.5 24.2h0M53.7 31.4h0M59.9 28.5h0M42.8 21.0h0M51.4 37.9h0M56.2 25.9h0M39.0 33.3h0" stroke="#d23b2e" stroke-width="1.8" stroke-opacity="0.18" stroke-linecap="round" fill="none"/>
<path d="M26.4 10.6h0M22.2 8.0h0M38.5 21.1h0M33.3 12.3h0M33.3 15.3h0M12.8 5.4h0M28.8 13.5h0M18.2 13.0h0M13.8 4.8h0M24.3 15.1h0M34.4 15.6h0M33.9 5.7h0M17.3 3.1h0M31.2 13.4h0M13.0 4.5h0M33.6 16.1h0M40.8 22.1h0M39.4 22.2h0M55.0 23.7h0M54.9 28.7h0M42.7 22.4h0M41.7 19.8h0M24.6 7.4h0M25.8 10.0h0M25.8 6.7h0M22.6 7.8h0M27.5 10.0h0M23.1 4.6h0M32.3 16.5h0M26.9 8.2h0M21.6 9.4h0M34.7 13.1h0M27.0 10.1h0M20.6 6.7h0M28.6 6.3h0M26.2 8.9h0M29.6 10.5h0M34.6 6.2h0M25.2 7.7h0M22.5 10.4h0M23.0 4.3h0M28.5 11.2h0M30.9 16.1h0M18.9 3.0h0M26.3 13.2h0M17.0 5.1h0M21.9 7.4h0M28.9 11.5h0M33.3 13.3h0M30.1 9.7h0M38.5 15.6h0M28.0 9.7h0M32.5 15.2h0M20.2 9.5h0M24.7 10.3h0M31.3 9.1h0M25.8 11.0h0M18.6 13.2h0M27.2 15.1h0M28.6 7.2h0M61.3 35.4h0M62.2 34.8h0M61.0 29.3h0M64.9 36.2h0M61.8 31.0h0M61.7 34.4h0M62.4 36.0h0M60.8 31.4h0M63.5 35.3h0M63.6 32.9h0M60.4 32.6h0M65.3 33.9h0M65.6 32.3h0M57.5 35.4h0M62.6 32.1h0M64.1 34.0h0M64.8 34.2h0M58.9 33.2h0M57.6 35.5h0M59.5 33.0h0M65.0 33.1h0M57.0 8.7h0M54.3 3.7h0M53.5 11.5h0M54.9 11.1h0M54.3 5.5h0M53.5 24.2h0M53.7 31.4h0M59.9 28.5h0M42.8 21.0h0M51.4 37.9h0M56.2 25.9h0M39.0 33.3h0" stroke="#d23b2e" stroke-width="0.9" stroke-linecap="round" fill="none"/>
</g>
<rect x="6.50" y="191.60" width="71.20" height="65.00" fill="none" stroke="#1a1a1a" stroke-width="1.25"/>
<text transform="translate(42.10 186.60) scale(0.960 1)" font-size="7.9" text-anchor="middle" font-style="italic" stroke="#151515" stroke-width="0.12" fill="#151515">Eif4a1</text>
<g transform="translate(80.8 191.6)">
<use href="#base"/>
<path d="M38.5 21.1h0M15.1 6.8h0M24.3 8.4h0M37.7 15.0h0M9.2 11.2h0M10.7 2.5h0M18.0 7.4h0M23.9 9.6h0M23.1 7.7h0M27.8 12.0h0M24.3 2.1h0M32.6 10.7h0M12.1 4.7h0M18.9 10.4h0M35.7 11.6h0M35.2 9.5h0M9.7 3.7h0M36.4 19.4h0M34.4 15.6h0M20.6 13.8h0M26.5 14.2h0M40.7 17.7h0M55.0 23.7h0M42.7 22.4h0M43.0 20.5h0M48.1 23.5h0M37.1 18.3h0M19.8 3.9h0M25.8 6.7h0M18.7 8.4h0M19.7 10.5h0M26.8 10.5h0M33.4 15.0h0M34.7 13.1h0M30.9 16.1h0M17.0 5.8h0M31.6 15.3h0M28.0 9.7h0M22.5 8.2h0M32.5 15.2h0M20.2 9.5h0M26.5 8.9h0M28.6 7.2h0M61.0 29.3h0M63.5 35.3h0M61.1 34.7h0M65.6 32.3h0M59.2 29.2h0M62.7 35.6h0M63.6 35.2h0M61.4 33.2h0M56.1 12.4h0M51.8 35.9h0M54.9 28.6h0M51.8 33.5h0M46.3 33.9h0M32.9 27.2h0M52.0 35.9h0M33.4 30.4h0M47.7 33.7h0M42.7 21.9h0M32.0 29.8h0M46.7 33.0h0M42.3 38.3h0M36.0 34.9h0M41.7 21.6h0M56.9 22.8h0M33.3 35.6h0M48.9 34.5h0M54.9 35.8h0M44.2 20.0h0M35.7 26.6h0M45.5 38.9h0M50.4 34.7h0M51.3 21.6h0M47.4 22.6h0M40.9 29.8h0M40.7 31.4h0M35.5 40.3h0M41.5 51.9h0M47.6 40.5h0M34.0 44.3h0M35.0 49.2h0M45.2 48.2h0M48.0 43.7h0M38.3 48.3h0M47.2 40.5h0M31.2 46.6h0M11.1 50.2h0M40.9 28.4h0M38.7 36.5h0M29.7 37.6h0M20.7 48.6h0M24.7 47.4h0M50.2 38.8h0M32.9 40.0h0M12.9 47.9h0M48.9 46.1h0M44.4 49.3h0M42.3 38.9h0M19.2 40.0h0M51.0 45.2h0M47.4 42.9h0M41.6 36.8h0M30.7 30.9h0M40.5 51.9h0M27.3 54.1h0M37.4 26.2h0M28.0 28.6h0M47.1 48.9h0M37.7 39.7h0M23.4 46.2h0M19.5 27.3h0" stroke="#f5cfc8" stroke-width="1.8" stroke-opacity="0.18" stroke-linecap="round" fill="none"/>
<path d="M38.5 21.1h0M15.1 6.8h0M24.3 8.4h0M37.7 15.0h0M9.2 11.2h0M10.7 2.5h0M18.0 7.4h0M23.9 9.6h0M23.1 7.7h0M27.8 12.0h0M24.3 2.1h0M32.6 10.7h0M12.1 4.7h0M18.9 10.4h0M35.7 11.6h0M35.2 9.5h0M9.7 3.7h0M36.4 19.4h0M34.4 15.6h0M20.6 13.8h0M26.5 14.2h0M40.7 17.7h0M55.0 23.7h0M42.7 22.4h0M43.0 20.5h0M48.1 23.5h0M37.1 18.3h0M19.8 3.9h0M25.8 6.7h0M18.7 8.4h0M19.7 10.5h0M26.8 10.5h0M33.4 15.0h0M34.7 13.1h0M30.9 16.1h0M17.0 5.8h0M31.6 15.3h0M28.0 9.7h0M22.5 8.2h0M32.5 15.2h0M20.2 9.5h0M26.5 8.9h0M28.6 7.2h0M61.0 29.3h0M63.5 35.3h0M61.1 34.7h0M65.6 32.3h0M59.2 29.2h0M62.7 35.6h0M63.6 35.2h0M61.4 33.2h0M56.1 12.4h0M51.8 35.9h0M54.9 28.6h0M51.8 33.5h0M46.3 33.9h0M32.9 27.2h0M52.0 35.9h0M33.4 30.4h0M47.7 33.7h0M42.7 21.9h0M32.0 29.8h0M46.7 33.0h0M42.3 38.3h0M36.0 34.9h0M41.7 21.6h0M56.9 22.8h0M33.3 35.6h0M48.9 34.5h0M54.9 35.8h0M44.2 20.0h0M35.7 26.6h0M45.5 38.9h0M50.4 34.7h0M51.3 21.6h0M47.4 22.6h0M40.9 29.8h0M40.7 31.4h0M35.5 40.3h0M41.5 51.9h0M47.6 40.5h0M34.0 44.3h0M35.0 49.2h0M45.2 48.2h0M48.0 43.7h0M38.3 48.3h0M47.2 40.5h0M31.2 46.6h0M11.1 50.2h0M40.9 28.4h0M38.7 36.5h0M29.7 37.6h0M20.7 48.6h0M24.7 47.4h0M50.2 38.8h0M32.9 40.0h0M12.9 47.9h0M48.9 46.1h0M44.4 49.3h0M42.3 38.9h0M19.2 40.0h0M51.0 45.2h0M47.4 42.9h0M41.6 36.8h0M30.7 30.9h0M40.5 51.9h0M27.3 54.1h0M37.4 26.2h0M28.0 28.6h0M47.1 48.9h0M37.7 39.7h0M23.4 46.2h0M19.5 27.3h0" stroke="#f5cfc8" stroke-width="0.9" stroke-linecap="round" fill="none"/>
<path d="M32.0 11.1h0M17.3 14.3h0M9.7 3.8h0M37.9 17.2h0M19.5 2.7h0M23.8 17.2h0M15.3 3.2h0M29.5 11.5h0M13.8 3.6h0M46.5 23.3h0M42.5 24.8h0M46.6 13.8h0M41.1 19.8h0M41.7 19.8h0M54.5 19.3h0M24.5 11.8h0M26.7 10.2h0M19.5 12.1h0M23.1 4.6h0M29.6 11.9h0M33.4 10.6h0M28.5 4.4h0M27.6 12.2h0M22.5 10.4h0M20.8 13.8h0M30.9 11.2h0M28.1 12.9h0M30.3 9.5h0M21.7 11.7h0M30.0 5.1h0M31.1 9.0h0M27.1 10.8h0M34.4 14.0h0M39.1 14.5h0M27.9 12.6h0M62.0 38.2h0M58.1 36.2h0M62.1 25.4h0M58.0 28.7h0M67.5 32.9h0M60.9 36.5h0M61.8 33.4h0M68.6 36.4h0M65.8 36.3h0M60.2 34.1h0M61.7 34.4h0M62.4 37.6h0M60.5 33.2h0M61.8 38.6h0M60.6 35.4h0M60.4 32.6h0M65.3 33.9h0M58.6 35.2h0M66.4 36.6h0M60.1 36.9h0M62.2 41.3h0M58.9 33.2h0M63.6 41.3h0M60.2 37.3h0M58.9 34.3h0M53.6 14.9h0M54.8 3.5h0M54.8 9.7h0M53.1 4.8h0M54.4 7.0h0M47.1 26.6h0M37.3 22.1h0M53.5 24.2h0M57.9 24.2h0M51.7 31.1h0M32.2 21.4h0M28.8 27.9h0M32.3 31.2h0M33.8 35.9h0M46.0 20.4h0M41.9 34.7h0M39.1 31.0h0M35.7 32.3h0M40.4 22.8h0M56.4 24.8h0M38.7 27.6h0M58.8 34.5h0M43.2 36.8h0M47.1 22.7h0M46.6 36.3h0M56.2 25.9h0M49.8 34.5h0M50.5 34.6h0M50.8 27.1h0M42.4 19.1h0M44.8 18.1h0M50.8 49.7h0M44.4 51.1h0M35.0 48.1h0M39.3 46.1h0M36.8 39.4h0M34.7 45.0h0M46.5 40.7h0M42.0 41.9h0M38.9 32.2h0M20.6 33.0h0M28.6 42.7h0M19.1 46.7h0M36.1 36.5h0M30.2 33.1h0M23.6 31.5h0M38.3 46.9h0M24.7 31.2h0M34.4 55.6h0M25.2 56.7h0M45.0 53.0h0M30.4 51.2h0M45.2 37.8h0M34.7 36.4h0M33.1 53.2h0M46.7 45.9h0M33.0 35.8h0M41.7 35.1h0M40.9 46.0h0M46.4 33.7h0M21.0 50.5h0M22.4 37.6h0M33.4 55.3h0M45.6 41.7h0M26.7 48.6h0M22.1 25.5h0M21.6 26.4h0M40.7 37.4h0" stroke="#f0a898" stroke-width="1.8" stroke-opacity="0.18" stroke-linecap="round" fill="none"/>
<path d="M32.0 11.1h0M17.3 14.3h0M9.7 3.8h0M37.9 17.2h0M19.5 2.7h0M23.8 17.2h0M15.3 3.2h0M29.5 11.5h0M13.8 3.6h0M46.5 23.3h0M42.5 24.8h0M46.6 13.8h0M41.1 19.8h0M41.7 19.8h0M54.5 19.3h0M24.5 11.8h0M26.7 10.2h0M19.5 12.1h0M23.1 4.6h0M29.6 11.9h0M33.4 10.6h0M28.5 4.4h0M27.6 12.2h0M22.5 10.4h0M20.8 13.8h0M30.9 11.2h0M28.1 12.9h0M30.3 9.5h0M21.7 11.7h0M30.0 5.1h0M31.1 9.0h0M27.1 10.8h0M34.4 14.0h0M39.1 14.5h0M27.9 12.6h0M62.0 38.2h0M58.1 36.2h0M62.1 25.4h0M58.0 28.7h0M67.5 32.9h0M60.9 36.5h0M61.8 33.4h0M68.6 36.4h0M65.8 36.3h0M60.2 34.1h0M61.7 34.4h0M62.4 37.6h0M60.5 33.2h0M61.8 38.6h0M60.6 35.4h0M60.4 32.6h0M65.3 33.9h0M58.6 35.2h0M66.4 36.6h0M60.1 36.9h0M62.2 41.3h0M58.9 33.2h0M63.6 41.3h0M60.2 37.3h0M58.9 34.3h0M53.6 14.9h0M54.8 3.5h0M54.8 9.7h0M53.1 4.8h0M54.4 7.0h0M47.1 26.6h0M37.3 22.1h0M53.5 24.2h0M57.9 24.2h0M51.7 31.1h0M32.2 21.4h0M28.8 27.9h0M32.3 31.2h0M33.8 35.9h0M46.0 20.4h0M41.9 34.7h0M39.1 31.0h0M35.7 32.3h0M40.4 22.8h0M56.4 24.8h0M38.7 27.6h0M58.8 34.5h0M43.2 36.8h0M47.1 22.7h0M46.6 36.3h0M56.2 25.9h0M49.8 34.5h0M50.5 34.6h0M50.8 27.1h0M42.4 19.1h0M44.8 18.1h0M50.8 49.7h0M44.4 51.1h0M35.0 48.1h0M39.3 46.1h0M36.8 39.4h0M34.7 45.0h0M46.5 40.7h0M42.0 41.9h0M38.9 32.2h0M20.6 33.0h0M28.6 42.7h0M19.1 46.7h0M36.1 36.5h0M30.2 33.1h0M23.6 31.5h0M38.3 46.9h0M24.7 31.2h0M34.4 55.6h0M25.2 56.7h0M45.0 53.0h0M30.4 51.2h0M45.2 37.8h0M34.7 36.4h0M33.1 53.2h0M46.7 45.9h0M33.0 35.8h0M41.7 35.1h0M40.9 46.0h0M46.4 33.7h0M21.0 50.5h0M22.4 37.6h0M33.4 55.3h0M45.6 41.7h0M26.7 48.6h0M22.1 25.5h0M21.6 26.4h0M40.7 37.4h0" stroke="#f0a898" stroke-width="0.9" stroke-linecap="round" fill="none"/>
<path d="M27.0 16.3h0M17.2 9.3h0M25.9 12.5h0M33.3 12.3h0M21.3 8.8h0M12.6 2.2h0M27.2 7.5h0M37.4 17.4h0M22.0 8.1h0M28.8 13.5h0M19.6 8.5h0M40.1 16.5h0M25.6 1.9h0M20.8 7.1h0M40.0 15.1h0M26.7 12.1h0M25.2 6.6h0M19.3 8.5h0M18.5 4.6h0M39.2 21.7h0M21.0 8.3h0M27.4 12.7h0M22.9 5.9h0M26.9 8.2h0M20.9 4.6h0M20.6 6.7h0M26.4 9.7h0M22.4 12.8h0M28.7 13.7h0M14.3 4.2h0M32.8 12.1h0M25.9 11.3h0M32.2 9.3h0M18.7 7.3h0M23.1 11.9h0M29.2 7.9h0M64.5 40.9h0M59.3 29.1h0M67.3 42.7h0M65.0 38.8h0M68.6 39.4h0M61.6 37.4h0M59.0 28.5h0M69.2 41.6h0M61.8 35.6h0M65.6 40.1h0M64.6 39.8h0M60.9 31.8h0M62.7 34.1h0M64.1 36.6h0M57.4 33.5h0M62.6 32.1h0M64.8 34.2h0M61.2 40.8h0M61.6 34.4h0M64.0 33.1h0M64.3 38.5h0M64.4 31.6h0M67.2 38.9h0M64.5 38.0h0M53.3 6.7h0M40.1 20.0h0M49.7 35.5h0M45.0 34.8h0M50.7 33.6h0M32.1 25.5h0M54.5 25.6h0M56.2 28.6h0M40.5 18.0h0M37.8 25.8h0M42.9 31.2h0M50.9 37.0h0M35.2 32.5h0M36.5 19.9h0M45.1 18.1h0M49.8 31.2h0M39.7 23.9h0M50.0 37.9h0M53.0 21.0h0M49.6 32.8h0M47.5 23.4h0M44.9 51.1h0M40.7 46.4h0M38.9 38.8h0M36.7 48.9h0M51.6 45.4h0M49.3 48.3h0M50.3 45.5h0M51.3 41.6h0M42.4 45.1h0M11.8 38.5h0M27.2 50.9h0M41.2 52.2h0M36.3 52.0h0M36.9 39.6h0M40.8 28.7h0M47.4 45.3h0M20.1 29.9h0M49.8 47.3h0M25.7 39.5h0M39.3 43.0h0M33.0 27.5h0M43.4 53.6h0M43.0 40.0h0M46.1 30.9h0M23.4 43.2h0M21.6 46.7h0" stroke="#ea7f6c" stroke-width="1.8" stroke-opacity="0.18" stroke-linecap="round" fill="none"/>
<path d="M27.0 16.3h0M17.2 9.3h0M25.9 12.5h0M33.3 12.3h0M21.3 8.8h0M12.6 2.2h0M27.2 7.5h0M37.4 17.4h0M22.0 8.1h0M28.8 13.5h0M19.6 8.5h0M40.1 16.5h0M25.6 1.9h0M20.8 7.1h0M40.0 15.1h0M26.7 12.1h0M25.2 6.6h0M19.3 8.5h0M18.5 4.6h0M39.2 21.7h0M21.0 8.3h0M27.4 12.7h0M22.9 5.9h0M26.9 8.2h0M20.9 4.6h0M20.6 6.7h0M26.4 9.7h0M22.4 12.8h0M28.7 13.7h0M14.3 4.2h0M32.8 12.1h0M25.9 11.3h0M32.2 9.3h0M18.7 7.3h0M23.1 11.9h0M29.2 7.9h0M64.5 40.9h0M59.3 29.1h0M67.3 42.7h0M65.0 38.8h0M68.6 39.4h0M61.6 37.4h0M59.0 28.5h0M69.2 41.6h0M61.8 35.6h0M65.6 40.1h0M64.6 39.8h0M60.9 31.8h0M62.7 34.1h0M64.1 36.6h0M57.4 33.5h0M62.6 32.1h0M64.8 34.2h0M61.2 40.8h0M61.6 34.4h0M64.0 33.1h0M64.3 38.5h0M64.4 31.6h0M67.2 38.9h0M64.5 38.0h0M53.3 6.7h0M40.1 20.0h0M49.7 35.5h0M45.0 34.8h0M50.7 33.6h0M32.1 25.5h0M54.5 25.6h0M56.2 28.6h0M40.5 18.0h0M37.8 25.8h0M42.9 31.2h0M50.9 37.0h0M35.2 32.5h0M36.5 19.9h0M45.1 18.1h0M49.8 31.2h0M39.7 23.9h0M50.0 37.9h0M53.0 21.0h0M49.6 32.8h0M47.5 23.4h0M44.9 51.1h0M40.7 46.4h0M38.9 38.8h0M36.7 48.9h0M51.6 45.4h0M49.3 48.3h0M50.3 45.5h0M51.3 41.6h0M42.4 45.1h0M11.8 38.5h0M27.2 50.9h0M41.2 52.2h0M36.3 52.0h0M36.9 39.6h0M40.8 28.7h0M47.4 45.3h0M20.1 29.9h0M49.8 47.3h0M25.7 39.5h0M39.3 43.0h0M33.0 27.5h0M43.4 53.6h0M43.0 40.0h0M46.1 30.9h0M23.4 43.2h0M21.6 46.7h0" stroke="#ea7f6c" stroke-width="0.9" stroke-linecap="round" fill="none"/>
<path d="M26.7 18.4h0M42.0 13.2h0M33.4 11.7h0M16.2 7.4h0M53.4 22.5h0M43.3 22.6h0M28.9 10.9h0M32.8 12.9h0M27.8 12.1h0M30.1 12.2h0M28.8 14.9h0M28.9 11.5h0M61.3 35.4h0M62.7 40.8h0M63.7 33.9h0M66.5 37.9h0M63.3 36.9h0M62.3 33.8h0M56.4 26.9h0M62.3 32.4h0M61.1 30.9h0M63.6 32.9h0M62.4 31.6h0M63.2 38.9h0M61.1 35.3h0M58.3 30.6h0M61.6 38.7h0M60.9 36.7h0M61.2 31.0h0M66.5 34.4h0M62.5 38.1h0M61.9 33.2h0M60.8 33.1h0M65.0 33.1h0M40.8 35.3h0M38.1 33.0h0M34.8 28.0h0M58.1 22.1h0M49.6 22.4h0M59.9 28.7h0M41.1 26.2h0M42.7 29.3h0M56.1 23.4h0M49.2 31.0h0M56.0 34.6h0M38.7 26.3h0M52.9 18.7h0M41.2 32.3h0M49.3 39.9h0M50.6 50.6h0M29.6 57.6h0M33.4 31.9h0M31.4 35.1h0M43.9 48.1h0M29.5 33.2h0M32.4 26.4h0M46.5 50.3h0M47.9 34.0h0M36.9 36.0h0" stroke="#e05a48" stroke-width="1.8" stroke-opacity="0.18" stroke-linecap="round" fill="none"/>
<path d="M26.7 18.4h0M42.0 13.2h0M33.4 11.7h0M16.2 7.4h0M53.4 22.5h0M43.3 22.6h0M28.9 10.9h0M32.8 12.9h0M27.8 12.1h0M30.1 12.2h0M28.8 14.9h0M28.9 11.5h0M61.3 35.4h0M62.7 40.8h0M63.7 33.9h0M66.5 37.9h0M63.3 36.9h0M62.3 33.8h0M56.4 26.9h0M62.3 32.4h0M61.1 30.9h0M63.6 32.9h0M62.4 31.6h0M63.2 38.9h0M61.1 35.3h0M58.3 30.6h0M61.6 38.7h0M60.9 36.7h0M61.2 31.0h0M66.5 34.4h0M62.5 38.1h0M61.9 33.2h0M60.8 33.1h0M65.0 33.1h0M40.8 35.3h0M38.1 33.0h0M34.8 28.0h0M58.1 22.1h0M49.6 22.4h0M59.9 28.7h0M41.1 26.2h0M42.7 29.3h0M56.1 23.4h0M49.2 31.0h0M56.0 34.6h0M38.7 26.3h0M52.9 18.7h0M41.2 32.3h0M49.3 39.9h0M50.6 50.6h0M29.6 57.6h0M33.4 31.9h0M31.4 35.1h0M43.9 48.1h0M29.5 33.2h0M32.4 26.4h0M46.5 50.3h0M47.9 34.0h0M36.9 36.0h0" stroke="#e05a48" stroke-width="0.9" stroke-linecap="round" fill="none"/>
<path d="M18.2 13.0h0M17.3 4.4h0M19.8 14.5h0M40.9 19.3h0M62.1 32.2h0M60.6 31.9h0M64.1 34.1h0M61.8 31.0h0M66.0 38.9h0M64.6 36.9h0M66.0 35.5h0M64.3 40.2h0M65.2 32.6h0M43.2 33.2h0M51.7 28.1h0M59.9 28.5h0M41.7 34.0h0M29.1 26.2h0M55.6 31.1h0M46.3 33.6h0M45.0 28.0h0M59.3 30.6h0M52.0 41.3h0M23.1 53.2h0M48.0 49.7h0" stroke="#d23b2e" stroke-width="1.8" stroke-opacity="0.18" stroke-linecap="round" fill="none"/>
<path d="M18.2 13.0h0M17.3 4.4h0M19.8 14.5h0M40.9 19.3h0M62.1 32.2h0M60.6 31.9h0M64.1 34.1h0M61.8 31.0h0M66.0 38.9h0M64.6 36.9h0M66.0 35.5h0M64.3 40.2h0M65.2 32.6h0M43.2 33.2h0M51.7 28.1h0M59.9 28.5h0M41.7 34.0h0M29.1 26.2h0M55.6 31.1h0M46.3 33.6h0M45.0 28.0h0M59.3 30.6h0M52.0 41.3h0M23.1 53.2h0M48.0 49.7h0" stroke="#d23b2e" stroke-width="0.9" stroke-linecap="round" fill="none"/>
</g>
<rect x="80.80" y="191.60" width="71.20" height="65.00" fill="none" stroke="#1a1a1a" stroke-width="1.25"/>
<text transform="translate(116.40 186.60) scale(0.960 1)" font-size="7.9" text-anchor="middle" font-style="italic" stroke="#151515" stroke-width="0.12" fill="#151515">Smc2</text>
<g transform="translate(155.1 191.6)">
<use href="#base"/>
<path d="M25.5 8.8h0M10.7 2.5h0M38.8 18.2h0M24.3 9.8h0M23.2 12.8h0M18.9 9.2h0M30.0 15.7h0M42.0 13.2h0M36.4 19.4h0M12.7 2.3h0M19.2 14.0h0M26.0 10.1h0M13.9 4.0h0M17.4 7.1h0M9.8 4.4h0M40.9 19.3h0M47.3 21.1h0M26.3 12.7h0M19.6 9.1h0M25.2 6.0h0M23.2 13.1h0M34.7 13.1h0M25.7 14.5h0M32.0 15.6h0M28.5 4.4h0M34.6 6.2h0M31.6 13.9h0M26.2 9.7h0M37.3 18.0h0M28.9 11.5h0M34.3 14.4h0M21.3 11.1h0M62.0 38.2h0M64.4 34.1h0M61.8 32.4h0M58.0 28.7h0M60.9 35.3h0M63.1 39.5h0M57.5 31.2h0M65.0 38.8h0M65.8 36.1h0M61.8 38.0h0M65.2 31.7h0M61.8 38.6h0M60.4 32.6h0M65.3 33.9h0M62.4 31.6h0M58.6 35.2h0M59.2 29.2h0M65.2 35.9h0M61.6 34.4h0M59.5 33.0h0M58.9 34.3h0M52.3 10.1h0M54.8 9.7h0M54.4 3.9h0M40.1 20.0h0M51.8 33.5h0M49.7 35.5h0M43.2 34.3h0M58.6 28.1h0M50.7 33.6h0M41.6 17.5h0M34.0 34.5h0M59.9 28.5h0M45.7 31.2h0M42.6 32.6h0M33.0 34.4h0M35.7 26.6h0M49.8 34.5h0M59.3 30.6h0M50.5 34.6h0M40.9 29.8h0M43.3 32.1h0M42.9 36.9h0M44.9 51.1h0M35.5 48.9h0M46.7 42.1h0M50.6 47.0h0M38.2 51.2h0M47.7 38.4h0M50.6 50.6h0M41.2 45.3h0M36.6 49.9h0M51.2 48.4h0M6.8 38.0h0M7.2 40.2h0M12.3 35.4h0M31.7 38.4h0M15.2 37.7h0M20.7 48.6h0M28.6 42.7h0M40.4 27.8h0M23.6 31.5h0M18.5 29.4h0M28.8 39.5h0M49.7 36.5h0M21.2 30.4h0M34.4 55.6h0M31.3 45.5h0M25.0 31.2h0M36.3 52.0h0M21.6 44.0h0M47.4 42.9h0M46.5 43.4h0M22.1 29.7h0M28.1 53.5h0M32.4 26.4h0M31.0 50.2h0M19.5 28.0h0M40.0 33.4h0M29.2 55.8h0M10.9 53.2h0M38.8 53.8h0M28.2 32.5h0M30.2 42.9h0M24.0 56.8h0M36.8 35.5h0M22.1 52.2h0" stroke="#f5cfc8" stroke-width="1.8" stroke-opacity="0.18" stroke-linecap="round" fill="none"/>
<path d="M25.5 8.8h0M10.7 2.5h0M38.8 18.2h0M24.3 9.8h0M23.2 12.8h0M18.9 9.2h0M30.0 15.7h0M42.0 13.2h0M36.4 19.4h0M12.7 2.3h0M19.2 14.0h0M26.0 10.1h0M13.9 4.0h0M17.4 7.1h0M9.8 4.4h0M40.9 19.3h0M47.3 21.1h0M26.3 12.7h0M19.6 9.1h0M25.2 6.0h0M23.2 13.1h0M34.7 13.1h0M25.7 14.5h0M32.0 15.6h0M28.5 4.4h0M34.6 6.2h0M31.6 13.9h0M26.2 9.7h0M37.3 18.0h0M28.9 11.5h0M34.3 14.4h0M21.3 11.1h0M62.0 38.2h0M64.4 34.1h0M61.8 32.4h0M58.0 28.7h0M60.9 35.3h0M63.1 39.5h0M57.5 31.2h0M65.0 38.8h0M65.8 36.1h0M61.8 38.0h0M65.2 31.7h0M61.8 38.6h0M60.4 32.6h0M65.3 33.9h0M62.4 31.6h0M58.6 35.2h0M59.2 29.2h0M65.2 35.9h0M61.6 34.4h0M59.5 33.0h0M58.9 34.3h0M52.3 10.1h0M54.8 9.7h0M54.4 3.9h0M40.1 20.0h0M51.8 33.5h0M49.7 35.5h0M43.2 34.3h0M58.6 28.1h0M50.7 33.6h0M41.6 17.5h0M34.0 34.5h0M59.9 28.5h0M45.7 31.2h0M42.6 32.6h0M33.0 34.4h0M35.7 26.6h0M49.8 34.5h0M59.3 30.6h0M50.5 34.6h0M40.9 29.8h0M43.3 32.1h0M42.9 36.9h0M44.9 51.1h0M35.5 48.9h0M46.7 42.1h0M50.6 47.0h0M38.2 51.2h0M47.7 38.4h0M50.6 50.6h0M41.2 45.3h0M36.6 49.9h0M51.2 48.4h0M6.8 38.0h0M7.2 40.2h0M12.3 35.4h0M31.7 38.4h0M15.2 37.7h0M20.7 48.6h0M28.6 42.7h0M40.4 27.8h0M23.6 31.5h0M18.5 29.4h0M28.8 39.5h0M49.7 36.5h0M21.2 30.4h0M34.4 55.6h0M31.3 45.5h0M25.0 31.2h0M36.3 52.0h0M21.6 44.0h0M47.4 42.9h0M46.5 43.4h0M22.1 29.7h0M28.1 53.5h0M32.4 26.4h0M31.0 50.2h0M19.5 28.0h0M40.0 33.4h0M29.2 55.8h0M10.9 53.2h0M38.8 53.8h0M28.2 32.5h0M30.2 42.9h0M24.0 56.8h0M36.8 35.5h0M22.1 52.2h0" stroke="#f5cfc8" stroke-width="0.9" stroke-linecap="round" fill="none"/>
<path d="M25.9 12.5h0M28.8 18.5h0M9.2 11.2h0M37.8 14.9h0M22.1 9.9h0M27.6 10.2h0M15.9 4.7h0M29.5 11.5h0M24.1 12.3h0M27.4 12.7h0M22.9 5.9h0M33.4 10.6h0M28.1 8.1h0M29.9 12.1h0M34.4 12.8h0M27.6 12.2h0M28.5 11.2h0M30.1 12.2h0M18.7 7.3h0M62.7 40.8h0M65.8 34.0h0M63.3 36.9h0M61.7 34.4h0M56.5 26.2h0M61.8 35.6h0M62.4 36.0h0M60.9 31.8h0M65.6 32.3h0M63.6 35.2h0M58.9 33.2h0M65.6 40.4h0M63.6 41.3h0M55.6 8.4h0M55.5 9.8h0M56.0 11.7h0M54.4 7.0h0M37.5 31.3h0M37.3 22.1h0M51.9 28.1h0M32.2 21.4h0M47.7 33.7h0M52.7 36.7h0M55.6 31.1h0M42.8 21.0h0M38.0 22.3h0M50.5 22.4h0M54.9 35.8h0M56.2 25.9h0M48.3 38.0h0M52.4 36.2h0M44.8 18.1h0M41.2 32.3h0M44.1 41.5h0M41.5 51.9h0M47.6 40.5h0M49.8 42.6h0M12.5 43.6h0M5.8 47.3h0M9.8 37.1h0M6.9 41.7h0M12.7 39.7h0M4.4 34.5h0M7.9 41.5h0M5.5 43.9h0M18.8 54.4h0M27.8 56.1h0M31.1 28.7h0M10.8 48.1h0M33.4 31.9h0M17.9 27.1h0M11.5 46.8h0M11.5 50.6h0M19.4 31.0h0M19.9 39.3h0M14.9 37.1h0M30.4 51.2h0M17.5 47.5h0M13.9 54.2h0M11.3 33.7h0M5.3 45.5h0M26.8 46.4h0M21.0 50.5h0M14.8 50.9h0M23.0 35.4h0M25.6 27.8h0M37.7 39.7h0" stroke="#f0a898" stroke-width="1.8" stroke-opacity="0.18" stroke-linecap="round" fill="none"/>
<path d="M25.9 12.5h0M28.8 18.5h0M9.2 11.2h0M37.8 14.9h0M22.1 9.9h0M27.6 10.2h0M15.9 4.7h0M29.5 11.5h0M24.1 12.3h0M27.4 12.7h0M22.9 5.9h0M33.4 10.6h0M28.1 8.1h0M29.9 12.1h0M34.4 12.8h0M27.6 12.2h0M28.5 11.2h0M30.1 12.2h0M18.7 7.3h0M62.7 40.8h0M65.8 34.0h0M63.3 36.9h0M61.7 34.4h0M56.5 26.2h0M61.8 35.6h0M62.4 36.0h0M60.9 31.8h0M65.6 32.3h0M63.6 35.2h0M58.9 33.2h0M65.6 40.4h0M63.6 41.3h0M55.6 8.4h0M55.5 9.8h0M56.0 11.7h0M54.4 7.0h0M37.5 31.3h0M37.3 22.1h0M51.9 28.1h0M32.2 21.4h0M47.7 33.7h0M52.7 36.7h0M55.6 31.1h0M42.8 21.0h0M38.0 22.3h0M50.5 22.4h0M54.9 35.8h0M56.2 25.9h0M48.3 38.0h0M52.4 36.2h0M44.8 18.1h0M41.2 32.3h0M44.1 41.5h0M41.5 51.9h0M47.6 40.5h0M49.8 42.6h0M12.5 43.6h0M5.8 47.3h0M9.8 37.1h0M6.9 41.7h0M12.7 39.7h0M4.4 34.5h0M7.9 41.5h0M5.5 43.9h0M18.8 54.4h0M27.8 56.1h0M31.1 28.7h0M10.8 48.1h0M33.4 31.9h0M17.9 27.1h0M11.5 46.8h0M11.5 50.6h0M19.4 31.0h0M19.9 39.3h0M14.9 37.1h0M30.4 51.2h0M17.5 47.5h0M13.9 54.2h0M11.3 33.7h0M5.3 45.5h0M26.8 46.4h0M21.0 50.5h0M14.8 50.9h0M23.0 35.4h0M25.6 27.8h0M37.7 39.7h0" stroke="#f0a898" stroke-width="0.9" stroke-linecap="round" fill="none"/>
<path d="M15.6 1.9h0M12.1 4.7h0M23.9 14.4h0M28.7 18.5h0M14.0 5.0h0M40.8 22.1h0M54.5 19.3h0M24.4 16.8h0M31.7 13.9h0M29.6 10.5h0M15.7 9.9h0M30.9 16.1h0M21.7 11.7h0M24.1 9.9h0M21.3 11.2h0M63.3 40.7h0M65.8 36.3h0M64.1 34.1h0M63.7 33.9h0M66.5 37.9h0M61.6 37.4h0M59.1 31.8h0M64.2 39.7h0M65.2 32.6h0M65.6 37.1h0M62.0 40.0h0M62.5 38.1h0M54.7 10.0h0M54.5 8.9h0M54.3 3.7h0M53.7 3.6h0M54.7 12.4h0M53.8 5.1h0M53.3 3.8h0M51.8 34.6h0M35.0 23.6h0M40.5 18.0h0M38.7 27.6h0M50.1 21.6h0M52.2 40.8h0M45.2 48.2h0M48.0 43.7h0M38.3 48.3h0M10.5 31.2h0M11.2 49.3h0M11.1 50.2h0M4.0 42.6h0M8.6 44.0h0M11.7 33.1h0M10.9 49.3h0M7.2 50.9h0M9.8 40.7h0M29.6 57.6h0M23.2 27.1h0M22.2 46.5h0M17.1 38.2h0M9.7 34.0h0M37.9 33.1h0M38.3 46.9h0M37.4 30.3h0M3.8 44.4h0M38.3 38.9h0M47.4 45.3h0M11.5 36.8h0M16.1 43.6h0M46.5 50.3h0M6.1 36.0h0M15.2 32.6h0M6.1 41.4h0M10.5 30.8h0M8.4 49.0h0M14.2 33.2h0M17.2 35.8h0M13.5 53.9h0M35.3 42.9h0M14.8 45.6h0M34.4 42.7h0M16.3 54.7h0M43.6 32.8h0M13.1 43.6h0" stroke="#ea7f6c" stroke-width="1.8" stroke-opacity="0.18" stroke-linecap="round" fill="none"/>
<path d="M15.6 1.9h0M12.1 4.7h0M23.9 14.4h0M28.7 18.5h0M14.0 5.0h0M40.8 22.1h0M54.5 19.3h0M24.4 16.8h0M31.7 13.9h0M29.6 10.5h0M15.7 9.9h0M30.9 16.1h0M21.7 11.7h0M24.1 9.9h0M21.3 11.2h0M63.3 40.7h0M65.8 36.3h0M64.1 34.1h0M63.7 33.9h0M66.5 37.9h0M61.6 37.4h0M59.1 31.8h0M64.2 39.7h0M65.2 32.6h0M65.6 37.1h0M62.0 40.0h0M62.5 38.1h0M54.7 10.0h0M54.5 8.9h0M54.3 3.7h0M53.7 3.6h0M54.7 12.4h0M53.8 5.1h0M53.3 3.8h0M51.8 34.6h0M35.0 23.6h0M40.5 18.0h0M38.7 27.6h0M50.1 21.6h0M52.2 40.8h0M45.2 48.2h0M48.0 43.7h0M38.3 48.3h0M10.5 31.2h0M11.2 49.3h0M11.1 50.2h0M4.0 42.6h0M8.6 44.0h0M11.7 33.1h0M10.9 49.3h0M7.2 50.9h0M9.8 40.7h0M29.6 57.6h0M23.2 27.1h0M22.2 46.5h0M17.1 38.2h0M9.7 34.0h0M37.9 33.1h0M38.3 46.9h0M37.4 30.3h0M3.8 44.4h0M38.3 38.9h0M47.4 45.3h0M11.5 36.8h0M16.1 43.6h0M46.5 50.3h0M6.1 36.0h0M15.2 32.6h0M6.1 41.4h0M10.5 30.8h0M8.4 49.0h0M14.2 33.2h0M17.2 35.8h0M13.5 53.9h0M35.3 42.9h0M14.8 45.6h0M34.4 42.7h0M16.3 54.7h0M43.6 32.8h0M13.1 43.6h0" stroke="#ea7f6c" stroke-width="0.9" stroke-linecap="round" fill="none"/>
<path d="M40.2 18.1h0M22.6 7.8h0M35.6 8.9h0M61.4 34.5h0M64.3 40.2h0M60.1 36.9h0M64.5 32.5h0M54.7 7.6h0M33.8 20.3h0M38.9 38.8h0M36.8 46.1h0M33.6 48.3h0M5.6 30.1h0M8.9 49.6h0M6.8 51.7h0M5.2 35.7h0M8.3 30.8h0M5.8 37.6h0M5.7 33.3h0M3.4 37.1h0M3.9 32.8h0M8.7 37.9h0M10.9 49.9h0M9.0 36.9h0M10.2 34.6h0M6.8 41.5h0M4.2 42.1h0M8.1 40.5h0M6.4 51.9h0M12.0 45.1h0M11.9 38.0h0M9.3 27.9h0M5.9 45.1h0M11.5 42.3h0M15.2 30.6h0M11.1 31.4h0M17.1 27.9h0M18.0 53.9h0M10.1 43.4h0M15.3 29.5h0M15.7 28.1h0M6.9 35.7h0M16.7 41.3h0M18.1 35.0h0M10.9 29.6h0M52.0 41.3h0M6.3 46.1h0M16.1 39.2h0M16.7 30.7h0M23.5 29.6h0M13.0 28.7h0M4.4 44.4h0" stroke="#e05a48" stroke-width="1.8" stroke-opacity="0.18" stroke-linecap="round" fill="none"/>
<path d="M40.2 18.1h0M22.6 7.8h0M35.6 8.9h0M61.4 34.5h0M64.3 40.2h0M60.1 36.9h0M64.5 32.5h0M54.7 7.6h0M33.8 20.3h0M38.9 38.8h0M36.8 46.1h0M33.6 48.3h0M5.6 30.1h0M8.9 49.6h0M6.8 51.7h0M5.2 35.7h0M8.3 30.8h0M5.8 37.6h0M5.7 33.3h0M3.4 37.1h0M3.9 32.8h0M8.7 37.9h0M10.9 49.9h0M9.0 36.9h0M10.2 34.6h0M6.8 41.5h0M4.2 42.1h0M8.1 40.5h0M6.4 51.9h0M12.0 45.1h0M11.9 38.0h0M9.3 27.9h0M5.9 45.1h0M11.5 42.3h0M15.2 30.6h0M11.1 31.4h0M17.1 27.9h0M18.0 53.9h0M10.1 43.4h0M15.3 29.5h0M15.7 28.1h0M6.9 35.7h0M16.7 41.3h0M18.1 35.0h0M10.9 29.6h0M52.0 41.3h0M6.3 46.1h0M16.1 39.2h0M16.7 30.7h0M23.5 29.6h0M13.0 28.7h0M4.4 44.4h0" stroke="#e05a48" stroke-width="0.9" stroke-linecap="round" fill="none"/>
<path d="M60.5 33.2h0M63.5 35.3h0M54.3 5.7h0M44.2 39.6h0M10.8 35.8h0M3.3 40.5h0M5.3 38.0h0M9.3 36.5h0M8.4 51.3h0M12.7 40.4h0M5.5 39.2h0M3.6 41.3h0M11.4 43.0h0M4.8 45.6h0M5.0 40.4h0M6.7 42.3h0M6.4 44.7h0M9.1 49.3h0M11.3 40.5h0M10.7 42.3h0M7.4 38.9h0M4.6 34.9h0M11.5 49.0h0M7.3 43.4h0M8.2 48.4h0M4.5 35.2h0M4.7 31.7h0M9.3 42.8h0M9.7 32.0h0M12.6 34.2h0M11.9 52.8h0M5.0 35.1h0M6.0 36.7h0M12.9 47.9h0M7.3 48.4h0M8.5 41.0h0M12.3 45.8h0M10.9 34.8h0M17.2 46.6h0M17.8 39.5h0M14.4 43.7h0M11.4 49.4h0M9.2 37.2h0M12.7 39.6h0M8.6 51.2h0M12.5 42.5h0M5.9 38.5h0M13.9 43.6h0M11.1 47.3h0M10.6 49.1h0M9.8 39.0h0M15.8 45.0h0M14.1 29.6h0" stroke="#d23b2e" stroke-width="1.8" stroke-opacity="0.18" stroke-linecap="round" fill="none"/>
<path d="M60.5 33.2h0M63.5 35.3h0M54.3 5.7h0M44.2 39.6h0M10.8 35.8h0M3.3 40.5h0M5.3 38.0h0M9.3 36.5h0M8.4 51.3h0M12.7 40.4h0M5.5 39.2h0M3.6 41.3h0M11.4 43.0h0M4.8 45.6h0M5.0 40.4h0M6.7 42.3h0M6.4 44.7h0M9.1 49.3h0M11.3 40.5h0M10.7 42.3h0M7.4 38.9h0M4.6 34.9h0M11.5 49.0h0M7.3 43.4h0M8.2 48.4h0M4.5 35.2h0M4.7 31.7h0M9.3 42.8h0M9.7 32.0h0M12.6 34.2h0M11.9 52.8h0M5.0 35.1h0M6.0 36.7h0M12.9 47.9h0M7.3 48.4h0M8.5 41.0h0M12.3 45.8h0M10.9 34.8h0M17.2 46.6h0M17.8 39.5h0M14.4 43.7h0M11.4 49.4h0M9.2 37.2h0M12.7 39.6h0M8.6 51.2h0M12.5 42.5h0M5.9 38.5h0M13.9 43.6h0M11.1 47.3h0M10.6 49.1h0M9.8 39.0h0M15.8 45.0h0M14.1 29.6h0" stroke="#d23b2e" stroke-width="0.9" stroke-linecap="round" fill="none"/>
</g>
<rect x="155.10" y="191.60" width="71.20" height="65.00" fill="none" stroke="#1a1a1a" stroke-width="1.25"/>
<text transform="translate(190.70 186.60) scale(0.960 1)" font-size="7.9" text-anchor="middle" font-style="italic" stroke="#151515" stroke-width="0.12" fill="#151515">Ube2h</text>
<text transform="translate(235.00 118.00)" font-size="5.9" stroke="#333" stroke-width="0.15" fill="#333">Log norm.</text><text transform="translate(235.00 125.40)" font-size="5.9" stroke="#333" stroke-width="0.15" fill="#333">counts</text>
<rect x="234.8" y="129.8" width="10" height="42.6" fill="url(#cb)"/>
<text transform="translate(247.60 173.80)" font-size="5.9" stroke="#333" stroke-width="0.15" fill="#333">0</text>
<text transform="translate(247.60 166.26)" font-size="5.9" stroke="#333" stroke-width="0.15" fill="#333">1</text>
<text transform="translate(247.60 158.72)" font-size="5.9" stroke="#333" stroke-width="0.15" fill="#333">2</text>
<text transform="translate(247.60 151.18)" font-size="5.9" stroke="#333" stroke-width="0.15" fill="#333">3</text>
<text transform="translate(247.60 143.64)" font-size="5.9" stroke="#333" stroke-width="0.15" fill="#333">4</text>
<text transform="translate(247.60 136.10)" font-size="5.9" stroke="#333" stroke-width="0.15" fill="#333">5</text>
<text transform="translate(283.10 137.00) rotate(-90) scale(0.770 1)" font-size="7.2" text-anchor="middle" stroke="#333" stroke-width="0.15" fill="#333">Log norm. counts</text>
<path d="M312.50 69.30 L316.00 70.30 L318.50 71.50 L320.20 73.30 L318.00 75.50 L314.50 77.50 L313.00 79.00 L312.75 98.50 L312.25 98.50 L312.00 79.00 L310.50 77.50 L307.00 75.50 L304.80 73.30 L306.50 71.50 L309.00 70.30 L312.50 69.30Z" fill="#f3f9f1" stroke="#63b05a" stroke-width="0.85" stroke-linejoin="round"/><rect x="311.10" y="71.00" width="2.8" height="7.50" fill="white" stroke="#63b05a" stroke-width="1.0"/>
<path d="M330.70 72.00 L334.70 74.00 L337.70 76.50 L338.00 79.50 L335.70 83.00 L333.70 87.00 L333.20 90.00 L334.70 93.00 L337.70 95.50 L338.20 98.50 L323.20 98.50 L323.70 95.50 L326.70 93.00 L328.20 90.00 L327.70 87.00 L325.70 83.00 L323.40 79.50 L323.70 76.50 L326.70 74.00 L330.70 72.00Z" fill="#fef6f7" stroke="#de2d48" stroke-width="0.85" stroke-linejoin="round"/><rect x="329.30" y="79.30" width="2.8" height="17.70" fill="white" stroke="#de2d48" stroke-width="1.0"/>
<path d="M348.40 74.70 L348.65 76.00 L348.70 90.50 L349.60 92.00 L349.60 93.50 L352.40 95.00 L355.60 97.00 L356.10 98.50 L340.70 98.50 L341.20 97.00 L344.40 95.00 L347.20 93.50 L347.20 92.00 L348.10 90.50 L348.15 76.00 L348.40 74.70Z" fill="#f1f6fb" stroke="#5c8fcb" stroke-width="0.85" stroke-linejoin="round"/>
<path d="M312.50 74.00 L330.70 87.00 L348.40 97.00" fill="none" stroke="#111" stroke-width="1.25" stroke-dasharray="2.8 2.2"/>
<circle cx="312.50" cy="74.00" r="1.1" fill="#111"/>
<circle cx="330.70" cy="87.00" r="1.1" fill="#111"/>
<circle cx="348.40" cy="97.00" r="1.1" fill="#111"/>
<path d="M301.90 68.20 V99.10 H359.00" fill="none" stroke="#222" stroke-width="1.1"/>
<line x1="299.40" y1="81.40" x2="301.90" y2="81.40" stroke="#222" stroke-width="0.9"/>
<text transform="translate(296.70 83.50)" font-size="5.9" text-anchor="end" stroke="#333" stroke-width="0.15" fill="#333">2</text>
<line x1="299.40" y1="97.60" x2="301.90" y2="97.60" stroke="#222" stroke-width="0.9"/>
<text transform="translate(296.70 99.70)" font-size="5.9" text-anchor="end" stroke="#333" stroke-width="0.15" fill="#333">0</text>
<text transform="translate(330.45 63.60) scale(0.960 1)" font-size="7.9" text-anchor="middle" font-style="italic" stroke="#151515" stroke-width="0.12" fill="#151515">Ybx1</text>
<path d="M390.00 76.00 L393.00 80.00 L397.70 84.70 L397.70 90.00 L395.50 95.00 L393.50 98.50 L386.50 98.50 L384.50 95.00 L382.30 90.00 L382.30 84.70 L387.00 80.00 L390.00 76.00Z" fill="#f3f9f1" stroke="#63b05a" stroke-width="0.85" stroke-linejoin="round"/><rect x="388.60" y="84.70" width="2.8" height="7.30" fill="white" stroke="#63b05a" stroke-width="1.0"/>
<path d="M407.70 70.00 L408.40 76.00 L412.20 80.00 L416.00 84.00 L412.20 88.00 L409.20 92.00 L409.20 96.00 L410.70 97.00 L410.70 98.50 L404.70 98.50 L404.70 97.00 L406.20 96.00 L406.20 92.00 L403.20 88.00 L399.40 84.00 L403.20 80.00 L407.00 76.00 L407.70 70.00Z" fill="#fef6f7" stroke="#de2d48" stroke-width="0.85" stroke-linejoin="round"/><rect x="406.30" y="80.00" width="2.8" height="8.00" fill="white" stroke="#de2d48" stroke-width="1.0"/>
<path d="M425.40 73.30 L427.40 78.00 L428.90 84.00 L430.40 90.00 L432.90 95.00 L432.40 98.50 L418.40 98.50 L417.90 95.00 L420.40 90.00 L421.90 84.00 L423.40 78.00 L425.40 73.30Z" fill="#f1f6fb" stroke="#5c8fcb" stroke-width="0.85" stroke-linejoin="round"/><rect x="424.00" y="84.00" width="2.8" height="12.00" fill="white" stroke="#5c8fcb" stroke-width="1.0"/>
<path d="M390.00 88.50 L407.70 83.00 L425.40 91.00" fill="none" stroke="#111" stroke-width="1.25" stroke-dasharray="2.8 2.2"/>
<circle cx="390.00" cy="88.50" r="1.1" fill="#111"/>
<circle cx="407.70" cy="83.00" r="1.1" fill="#111"/>
<circle cx="425.40" cy="91.00" r="1.1" fill="#111"/>
<path d="M379.20 68.80 V99.10 H435.50" fill="none" stroke="#222" stroke-width="1.1"/>
<line x1="376.70" y1="69.90" x2="379.20" y2="69.90" stroke="#222" stroke-width="0.9"/>
<text transform="translate(374.00 72.00)" font-size="5.9" text-anchor="end" stroke="#333" stroke-width="0.15" fill="#333">5.0</text>
<line x1="376.70" y1="83.80" x2="379.20" y2="83.80" stroke="#222" stroke-width="0.9"/>
<text transform="translate(374.00 85.90)" font-size="5.9" text-anchor="end" stroke="#333" stroke-width="0.15" fill="#333">2.5</text>
<line x1="376.70" y1="97.60" x2="379.20" y2="97.60" stroke="#222" stroke-width="0.9"/>
<text transform="translate(374.00 99.70)" font-size="5.9" text-anchor="end" stroke="#333" stroke-width="0.15" fill="#333">0.0</text>
<text transform="translate(407.35 64.20) scale(0.960 1)" font-size="7.9" text-anchor="middle" font-style="italic" stroke="#151515" stroke-width="0.12" fill="#151515">Mki67</text>
<path d="M467.00 72.00 L469.00 73.50 L471.50 75.50 L474.00 77.50 L474.70 79.30 L473.50 81.50 L470.50 84.00 L468.20 87.00 L467.40 89.00 L467.25 98.50 L466.75 98.50 L466.60 89.00 L465.80 87.00 L463.50 84.00 L460.50 81.50 L459.30 79.30 L460.00 77.50 L462.50 75.50 L465.00 73.50 L467.00 72.00Z" fill="#f3f9f1" stroke="#63b05a" stroke-width="0.85" stroke-linejoin="round"/><rect x="465.60" y="76.50" width="2.8" height="5.50" fill="white" stroke="#63b05a" stroke-width="1.0"/>
<path d="M485.00 69.70 L485.80 72.00 L490.00 76.00 L493.00 80.00 L489.50 84.00 L486.50 88.00 L486.30 96.00 L487.50 98.50 L482.50 98.50 L483.70 96.00 L483.50 88.00 L480.50 84.00 L477.00 80.00 L480.00 76.00 L484.20 72.00 L485.00 69.70Z" fill="#fef6f7" stroke="#de2d48" stroke-width="0.85" stroke-linejoin="round"/><rect x="483.60" y="75.00" width="2.8" height="8.00" fill="white" stroke="#de2d48" stroke-width="1.0"/>
<path d="M503.00 71.00 L505.00 71.30 L507.50 72.00 L510.00 73.50 L511.70 76.00 L510.50 79.00 L508.00 82.00 L505.50 86.00 L504.20 89.00 L503.70 91.00 L503.60 98.50 L502.40 98.50 L502.30 91.00 L501.80 89.00 L500.50 86.00 L498.00 82.00 L495.50 79.00 L494.30 76.00 L496.00 73.50 L498.50 72.00 L501.00 71.30 L503.00 71.00Z" fill="#f1f6fb" stroke="#5c8fcb" stroke-width="0.85" stroke-linejoin="round"/><rect x="501.60" y="72.50" width="2.8" height="8.50" fill="white" stroke="#5c8fcb" stroke-width="1.0"/>
<path d="M467.00 79.50 L485.00 79.00 L503.00 77.00" fill="none" stroke="#111" stroke-width="1.25" stroke-dasharray="2.8 2.2"/>
<circle cx="467.00" cy="79.50" r="1.1" fill="#111"/>
<circle cx="485.00" cy="79.00" r="1.1" fill="#111"/>
<circle cx="503.00" cy="77.00" r="1.1" fill="#111"/>
<path d="M456.60 68.40 V99.10 H513.00" fill="none" stroke="#222" stroke-width="1.1"/>
<line x1="454.10" y1="81.60" x2="456.60" y2="81.60" stroke="#222" stroke-width="0.9"/>
<text transform="translate(451.40 83.70)" font-size="5.9" text-anchor="end" stroke="#333" stroke-width="0.15" fill="#333">2.5</text>
<line x1="454.10" y1="97.60" x2="456.60" y2="97.60" stroke="#222" stroke-width="0.9"/>
<text transform="translate(451.40 99.70)" font-size="5.9" text-anchor="end" stroke="#333" stroke-width="0.15" fill="#333">0.0</text>
<text transform="translate(484.80 63.80) scale(0.960 1)" font-size="7.9" text-anchor="middle" font-style="italic" stroke="#151515" stroke-width="0.12" fill="#151515">Ubb</text>
<path d="M312.50 123.30 L316.50 124.50 L320.80 126.30 L315.50 128.00 L313.00 129.50 L312.75 151.00 L312.25 151.00 L312.00 129.50 L309.50 128.00 L304.20 126.30 L308.50 124.50 L312.50 123.30Z" fill="#f3f9f1" stroke="#63b05a" stroke-width="0.85" stroke-linejoin="round"/><rect x="311.10" y="124.00" width="2.8" height="6.00" fill="white" stroke="#63b05a" stroke-width="1.0"/>
<path d="M330.70 124.00 L334.70 125.50 L338.40 129.30 L335.70 134.00 L333.70 140.00 L333.70 151.00 L327.70 151.00 L327.70 140.00 L325.70 134.00 L323.00 129.30 L326.70 125.50 L330.70 124.00Z" fill="#fef6f7" stroke="#de2d48" stroke-width="0.85" stroke-linejoin="round"/><rect x="329.30" y="130.00" width="2.8" height="20.00" fill="white" stroke="#de2d48" stroke-width="1.0"/>
<path d="M348.40 128.00 L348.65 130.00 L348.75 144.00 L349.90 145.50 L350.90 147.00 L353.90 149.00 L356.60 151.00 L340.20 151.00 L342.90 149.00 L345.90 147.00 L346.90 145.50 L348.05 144.00 L348.15 130.00 L348.40 128.00Z" fill="#f1f6fb" stroke="#5c8fcb" stroke-width="0.85" stroke-linejoin="round"/>
<path d="M312.50 126.00 L330.70 139.00 L348.40 148.50" fill="none" stroke="#111" stroke-width="1.25" stroke-dasharray="2.8 2.2"/>
<circle cx="312.50" cy="126.00" r="1.1" fill="#111"/>
<circle cx="330.70" cy="139.00" r="1.1" fill="#111"/>
<circle cx="348.40" cy="148.50" r="1.1" fill="#111"/>
<path d="M301.90 122.00 V151.60 H359.00" fill="none" stroke="#222" stroke-width="1.1"/>
<line x1="299.40" y1="135.00" x2="301.90" y2="135.00" stroke="#222" stroke-width="0.9"/>
<text transform="translate(296.70 137.10)" font-size="5.9" text-anchor="end" stroke="#333" stroke-width="0.15" fill="#333">2.5</text>
<line x1="299.40" y1="150.70" x2="301.90" y2="150.70" stroke="#222" stroke-width="0.9"/>
<text transform="translate(296.70 152.80)" font-size="5.9" text-anchor="end" stroke="#333" stroke-width="0.15" fill="#333">0.0</text>
<text transform="translate(330.45 117.40) scale(0.960 1)" font-size="7.9" text-anchor="middle" font-style="italic" stroke="#151515" stroke-width="0.12" fill="#151515">Rpl32</text>
<path d="M390.00 128.00 L393.00 130.00 L395.00 133.00 L395.50 137.00 L397.50 140.00 L397.50 146.00 L396.00 149.00 L396.00 151.00 L384.00 151.00 L384.00 149.00 L382.50 146.00 L382.50 140.00 L384.50 137.00 L385.00 133.00 L387.00 130.00 L390.00 128.00Z" fill="#f3f9f1" stroke="#63b05a" stroke-width="0.85" stroke-linejoin="round"/><rect x="388.60" y="138.00" width="2.8" height="10.00" fill="white" stroke="#63b05a" stroke-width="1.0"/>
<path d="M407.70 123.30 L410.20 125.00 L413.70 128.00 L416.00 132.60 L414.20 137.00 L410.70 141.00 L409.20 143.90 L410.20 147.00 L412.70 150.00 L412.70 151.00 L402.70 151.00 L402.70 150.00 L405.20 147.00 L406.20 143.90 L404.70 141.00 L401.20 137.00 L399.40 132.60 L401.70 128.00 L405.20 125.00 L407.70 123.30Z" fill="#fef6f7" stroke="#de2d48" stroke-width="0.85" stroke-linejoin="round"/><rect x="406.30" y="131.00" width="2.8" height="10.00" fill="white" stroke="#de2d48" stroke-width="1.0"/>
<path d="M425.40 124.00 L425.65 126.00 L425.80 143.00 L427.90 145.00 L431.40 148.00 L432.90 151.00 L417.90 151.00 L419.40 148.00 L422.90 145.00 L425.00 143.00 L425.15 126.00 L425.40 124.00Z" fill="#f1f6fb" stroke="#5c8fcb" stroke-width="0.85" stroke-linejoin="round"/>
<path d="M390.00 142.50 L407.70 138.50 L425.40 148.00" fill="none" stroke="#111" stroke-width="1.25" stroke-dasharray="2.8 2.2"/>
<circle cx="390.00" cy="142.50" r="1.1" fill="#111"/>
<circle cx="407.70" cy="138.50" r="1.1" fill="#111"/>
<circle cx="425.40" cy="148.00" r="1.1" fill="#111"/>
<path d="M379.20 122.00 V151.60 H435.50" fill="none" stroke="#222" stroke-width="1.1"/>
<line x1="376.70" y1="131.20" x2="379.20" y2="131.20" stroke="#222" stroke-width="0.9"/>
<text transform="translate(374.00 133.30)" font-size="5.9" text-anchor="end" stroke="#333" stroke-width="0.15" fill="#333">2</text>
<line x1="376.70" y1="141.00" x2="379.20" y2="141.00" stroke="#222" stroke-width="0.9"/>
<text transform="translate(374.00 143.10)" font-size="5.9" text-anchor="end" stroke="#333" stroke-width="0.15" fill="#333">1</text>
<line x1="376.70" y1="150.80" x2="379.20" y2="150.80" stroke="#222" stroke-width="0.9"/>
<text transform="translate(374.00 152.90)" font-size="5.9" text-anchor="end" stroke="#333" stroke-width="0.15" fill="#333">0</text>
<text transform="translate(407.35 117.40) scale(0.960 1)" font-size="7.9" text-anchor="middle" font-style="italic" stroke="#151515" stroke-width="0.12" fill="#151515">Cdk1</text>
<path d="M467.00 137.00 L468.20 140.50 L471.00 143.00 L474.70 146.00 L471.00 148.50 L469.00 151.00 L465.00 151.00 L463.00 148.50 L459.30 146.00 L463.00 143.00 L465.80 140.50 L467.00 137.00Z" fill="#f3f9f1" stroke="#63b05a" stroke-width="0.85" stroke-linejoin="round"/><rect x="465.60" y="143.00" width="2.8" height="6.00" fill="white" stroke="#63b05a" stroke-width="1.0"/>
<path d="M485.00 129.30 L486.00 136.00 L489.00 140.00 L493.00 145.00 L489.00 149.00 L488.00 151.00 L482.00 151.00 L481.00 149.00 L477.00 145.00 L481.00 140.00 L484.00 136.00 L485.00 129.30Z" fill="#fef6f7" stroke="#de2d48" stroke-width="0.85" stroke-linejoin="round"/><rect x="483.60" y="142.00" width="2.8" height="8.00" fill="white" stroke="#de2d48" stroke-width="1.0"/>
<path d="M503.00 123.30 L503.50 126.00 L504.00 129.30 L507.50 131.00 L510.50 133.00 L511.70 135.30 L511.00 138.00 L508.50 142.00 L506.00 146.00 L504.50 149.00 L504.20 151.00 L501.80 151.00 L501.50 149.00 L500.00 146.00 L497.50 142.00 L495.00 138.00 L494.30 135.30 L495.50 133.00 L498.50 131.00 L502.00 129.30 L502.50 126.00 L503.00 123.30Z" fill="#f1f6fb" stroke="#5c8fcb" stroke-width="0.85" stroke-linejoin="round"/><rect x="501.60" y="134.00" width="2.8" height="6.70" fill="white" stroke="#5c8fcb" stroke-width="1.0"/>
<path d="M467.00 146.00 L485.00 146.00 L503.00 138.00" fill="none" stroke="#111" stroke-width="1.25" stroke-dasharray="2.8 2.2"/>
<circle cx="467.00" cy="146.00" r="1.1" fill="#111"/>
<circle cx="485.00" cy="146.00" r="1.1" fill="#111"/>
<circle cx="503.00" cy="138.00" r="1.1" fill="#111"/>
<path d="M456.40 122.70 V151.60 H513.00" fill="none" stroke="#222" stroke-width="1.1"/>
<line x1="453.90" y1="123.00" x2="456.40" y2="123.00" stroke="#222" stroke-width="0.9"/>
<text transform="translate(451.20 125.10)" font-size="5.9" text-anchor="end" stroke="#333" stroke-width="0.15" fill="#333">4</text>
<line x1="453.90" y1="137.20" x2="456.40" y2="137.20" stroke="#222" stroke-width="0.9"/>
<text transform="translate(451.20 139.30)" font-size="5.9" text-anchor="end" stroke="#333" stroke-width="0.15" fill="#333">2</text>
<line x1="453.90" y1="151.00" x2="456.40" y2="151.00" stroke="#222" stroke-width="0.9"/>
<text transform="translate(451.20 153.10)" font-size="5.9" text-anchor="end" stroke="#333" stroke-width="0.15" fill="#333">0</text>
<text transform="translate(484.70 118.10) scale(0.960 1)" font-size="7.9" text-anchor="middle" font-style="italic" stroke="#151515" stroke-width="0.12" fill="#151515">Ube2b</text>
<path d="M312.50 177.30 L316.50 181.00 L320.80 184.70 L316.50 188.00 L313.20 191.30 L312.85 205.50 L312.15 205.50 L311.80 191.30 L308.50 188.00 L304.20 184.70 L308.50 181.00 L312.50 177.30Z" fill="#f3f9f1" stroke="#63b05a" stroke-width="0.85" stroke-linejoin="round"/><rect x="311.10" y="181.30" width="2.8" height="7.40" fill="white" stroke="#63b05a" stroke-width="1.0"/>
<path d="M330.70 178.70 L332.20 181.00 L334.70 185.30 L337.20 189.00 L338.70 193.30 L337.20 196.50 L335.70 198.70 L333.70 200.70 L335.70 204.00 L335.70 205.50 L325.70 205.50 L325.70 204.00 L327.70 200.70 L325.70 198.70 L324.20 196.50 L322.70 193.30 L324.20 189.00 L326.70 185.30 L329.20 181.00 L330.70 178.70Z" fill="#fef6f7" stroke="#de2d48" stroke-width="0.85" stroke-linejoin="round"/><rect x="329.30" y="190.00" width="2.8" height="8.00" fill="white" stroke="#de2d48" stroke-width="1.0"/>
<path d="M348.40 183.30 L348.65 185.00 L348.90 197.00 L349.90 199.00 L352.40 201.00 L355.40 203.00 L356.40 205.50 L340.40 205.50 L341.40 203.00 L344.40 201.00 L346.90 199.00 L347.90 197.00 L348.15 185.00 L348.40 183.30Z" fill="#f1f6fb" stroke="#5c8fcb" stroke-width="0.85" stroke-linejoin="round"/>
<path d="M312.50 184.70 L330.70 193.30 L348.40 203.50" fill="none" stroke="#111" stroke-width="1.25" stroke-dasharray="2.8 2.2"/>
<circle cx="312.50" cy="184.70" r="1.1" fill="#111"/>
<circle cx="330.70" cy="193.30" r="1.1" fill="#111"/>
<circle cx="348.40" cy="203.50" r="1.1" fill="#111"/>
<path d="M301.90 176.00 V206.40 H359.00" fill="none" stroke="#222" stroke-width="1.1"/>
<line x1="299.40" y1="176.50" x2="301.90" y2="176.50" stroke="#222" stroke-width="0.9"/>
<text transform="translate(296.70 178.60)" font-size="5.9" text-anchor="end" stroke="#333" stroke-width="0.15" fill="#333">3</text>
<line x1="299.40" y1="186.00" x2="301.90" y2="186.00" stroke="#222" stroke-width="0.9"/>
<text transform="translate(296.70 188.10)" font-size="5.9" text-anchor="end" stroke="#333" stroke-width="0.15" fill="#333">2</text>
<line x1="299.40" y1="195.50" x2="301.90" y2="195.50" stroke="#222" stroke-width="0.9"/>
<text transform="translate(296.70 197.60)" font-size="5.9" text-anchor="end" stroke="#333" stroke-width="0.15" fill="#333">1</text>
<line x1="299.40" y1="205.00" x2="301.90" y2="205.00" stroke="#222" stroke-width="0.9"/>
<text transform="translate(296.70 207.10)" font-size="5.9" text-anchor="end" stroke="#333" stroke-width="0.15" fill="#333">0</text>
<text transform="translate(330.45 171.40) scale(0.960 1)" font-size="7.9" text-anchor="middle" font-style="italic" stroke="#151515" stroke-width="0.12" fill="#151515">Eif4a1</text>
<line x1="312.50" y1="206.40" x2="312.50" y2="208.90" stroke="#222" stroke-width="0.9"/>
<line x1="330.70" y1="206.40" x2="330.70" y2="208.90" stroke="#222" stroke-width="0.9"/>
<line x1="348.40" y1="206.40" x2="348.40" y2="208.90" stroke="#222" stroke-width="0.9"/>
<text transform="translate(312.70 214.30) rotate(-45) scale(0.850 1)" font-size="7" text-anchor="end" stroke="#333" stroke-width="0.15" fill="#333">Stage_1</text>
<text transform="translate(330.90 214.30) rotate(-45) scale(0.850 1)" font-size="7" text-anchor="end" stroke="#333" stroke-width="0.15" fill="#333">Stage_2</text>
<text transform="translate(348.60 214.30) rotate(-45) scale(0.850 1)" font-size="7" text-anchor="end" stroke="#333" stroke-width="0.15" fill="#333">Stage_3</text>
<path d="M390.00 182.70 L393.00 186.00 L397.70 193.30 L395.00 198.00 L393.00 200.00 L394.00 203.00 L394.00 205.50 L386.00 205.50 L386.00 203.00 L387.00 200.00 L385.00 198.00 L382.30 193.30 L387.00 186.00 L390.00 182.70Z" fill="#f3f9f1" stroke="#63b05a" stroke-width="0.85" stroke-linejoin="round"/><rect x="388.60" y="191.00" width="2.8" height="8.00" fill="white" stroke="#63b05a" stroke-width="1.0"/>
<path d="M407.70 177.30 L410.70 180.00 L416.00 186.00 L411.70 192.00 L409.20 197.00 L409.70 202.00 L412.20 204.00 L411.70 205.50 L403.70 205.50 L403.20 204.00 L405.70 202.00 L406.20 197.00 L403.70 192.00 L399.40 186.00 L404.70 180.00 L407.70 177.30Z" fill="#fef6f7" stroke="#de2d48" stroke-width="0.85" stroke-linejoin="round"/><rect x="406.30" y="183.00" width="2.8" height="8.00" fill="white" stroke="#de2d48" stroke-width="1.0"/>
<path d="M425.40 182.70 L426.60 184.00 L427.20 187.00 L427.20 193.00 L426.20 198.00 L427.40 200.00 L430.90 202.00 L433.40 205.50 L417.40 205.50 L419.90 202.00 L423.40 200.00 L424.60 198.00 L423.60 193.00 L423.60 187.00 L424.20 184.00 L425.40 182.70Z" fill="#f1f6fb" stroke="#5c8fcb" stroke-width="0.85" stroke-linejoin="round"/>
<path d="M390.00 195.00 L407.70 188.00 L425.40 202.00" fill="none" stroke="#111" stroke-width="1.25" stroke-dasharray="2.8 2.2"/>
<circle cx="390.00" cy="195.00" r="1.1" fill="#111"/>
<circle cx="407.70" cy="188.00" r="1.1" fill="#111"/>
<circle cx="425.40" cy="202.00" r="1.1" fill="#111"/>
<path d="M379.20 176.00 V206.40 H435.50" fill="none" stroke="#222" stroke-width="1.1"/>
<line x1="376.70" y1="187.60" x2="379.20" y2="187.60" stroke="#222" stroke-width="0.9"/>
<text transform="translate(374.00 189.70)" font-size="5.9" text-anchor="end" stroke="#333" stroke-width="0.15" fill="#333">2</text>
<line x1="376.70" y1="204.80" x2="379.20" y2="204.80" stroke="#222" stroke-width="0.9"/>
<text transform="translate(374.00 206.90)" font-size="5.9" text-anchor="end" stroke="#333" stroke-width="0.15" fill="#333">0</text>
<text transform="translate(407.35 171.40) scale(0.960 1)" font-size="7.9" text-anchor="middle" font-style="italic" stroke="#151515" stroke-width="0.12" fill="#151515">Smc2</text>
<line x1="390.00" y1="206.40" x2="390.00" y2="208.90" stroke="#222" stroke-width="0.9"/>
<line x1="407.70" y1="206.40" x2="407.70" y2="208.90" stroke="#222" stroke-width="0.9"/>
<line x1="425.40" y1="206.40" x2="425.40" y2="208.90" stroke="#222" stroke-width="0.9"/>
<text transform="translate(390.20 214.30) rotate(-45) scale(0.850 1)" font-size="7" text-anchor="end" stroke="#333" stroke-width="0.15" fill="#333">Stage_1</text>
<text transform="translate(407.90 214.30) rotate(-45) scale(0.850 1)" font-size="7" text-anchor="end" stroke="#333" stroke-width="0.15" fill="#333">Stage_2</text>
<text transform="translate(425.60 214.30) rotate(-45) scale(0.850 1)" font-size="7" text-anchor="end" stroke="#333" stroke-width="0.15" fill="#333">Stage_3</text>
<path d="M467.00 193.30 L467.40 195.00 L467.90 199.00 L469.20 201.50 L471.50 203.50 L474.50 205.50 L459.50 205.50 L462.50 203.50 L464.80 201.50 L466.10 199.00 L466.60 195.00 L467.00 193.30Z" fill="#f3f9f1" stroke="#63b05a" stroke-width="0.85" stroke-linejoin="round"/><rect x="465.60" y="199.50" width="2.8" height="4.50" fill="white" stroke="#63b05a" stroke-width="1.0"/>
<path d="M485.00 189.00 L486.20 193.00 L489.00 197.00 L493.00 200.00 L491.00 203.00 L491.00 205.50 L479.00 205.50 L479.00 203.00 L477.00 200.00 L481.00 197.00 L483.80 193.00 L485.00 189.00Z" fill="#fef6f7" stroke="#de2d48" stroke-width="0.85" stroke-linejoin="round"/><rect x="483.60" y="197.00" width="2.8" height="7.00" fill="white" stroke="#de2d48" stroke-width="1.0"/>
<path d="M503.00 176.70 L505.50 178.00 L505.50 181.00 L505.00 184.00 L508.00 186.00 L512.00 190.70 L508.00 196.00 L505.00 201.00 L504.50 205.50 L501.50 205.50 L501.00 201.00 L498.00 196.00 L494.00 190.70 L498.00 186.00 L501.00 184.00 L500.50 181.00 L500.50 178.00 L503.00 176.70Z" fill="#f1f6fb" stroke="#5c8fcb" stroke-width="0.85" stroke-linejoin="round"/><rect x="501.60" y="187.00" width="2.8" height="9.00" fill="white" stroke="#5c8fcb" stroke-width="1.0"/>
<path d="M467.00 203.00 L485.00 201.00 L503.00 191.00" fill="none" stroke="#111" stroke-width="1.25" stroke-dasharray="2.8 2.2"/>
<circle cx="467.00" cy="203.00" r="1.1" fill="#111"/>
<circle cx="485.00" cy="201.00" r="1.1" fill="#111"/>
<circle cx="503.00" cy="191.00" r="1.1" fill="#111"/>
<path d="M456.40 176.00 V206.40 H513.00" fill="none" stroke="#222" stroke-width="1.1"/>
<line x1="453.90" y1="190.00" x2="456.40" y2="190.00" stroke="#222" stroke-width="0.9"/>
<text transform="translate(451.20 192.10)" font-size="5.9" text-anchor="end" stroke="#333" stroke-width="0.15" fill="#333">3</text>
<line x1="453.90" y1="204.80" x2="456.40" y2="204.80" stroke="#222" stroke-width="0.9"/>
<text transform="translate(451.20 206.90)" font-size="5.9" text-anchor="end" stroke="#333" stroke-width="0.15" fill="#333">0</text>
<text transform="translate(484.70 171.40) scale(0.960 1)" font-size="7.9" text-anchor="middle" font-style="italic" stroke="#151515" stroke-width="0.12" fill="#151515">Ube2h</text>
<line x1="467.00" y1="206.40" x2="467.00" y2="208.90" stroke="#222" stroke-width="0.9"/>
<line x1="485.00" y1="206.40" x2="485.00" y2="208.90" stroke="#222" stroke-width="0.9"/>
<line x1="503.00" y1="206.40" x2="503.00" y2="208.90" stroke="#222" stroke-width="0.9"/>
<text transform="translate(467.20 214.30) rotate(-45) scale(0.850 1)" font-size="7" text-anchor="end" stroke="#333" stroke-width="0.15" fill="#333">Stage_1</text>
<text transform="translate(485.20 214.30) rotate(-45) scale(0.850 1)" font-size="7" text-anchor="end" stroke="#333" stroke-width="0.15" fill="#333">Stage_2</text>
<text transform="translate(503.20 214.30) rotate(-45) scale(0.850 1)" font-size="7" text-anchor="end" stroke="#333" stroke-width="0.15" fill="#333">Stage_3</text>
<rect x="0.5" y="0.5" width="519" height="262" fill="none" stroke="#5a5a5a" stroke-width="1"/>
</svg>
</body></html>
